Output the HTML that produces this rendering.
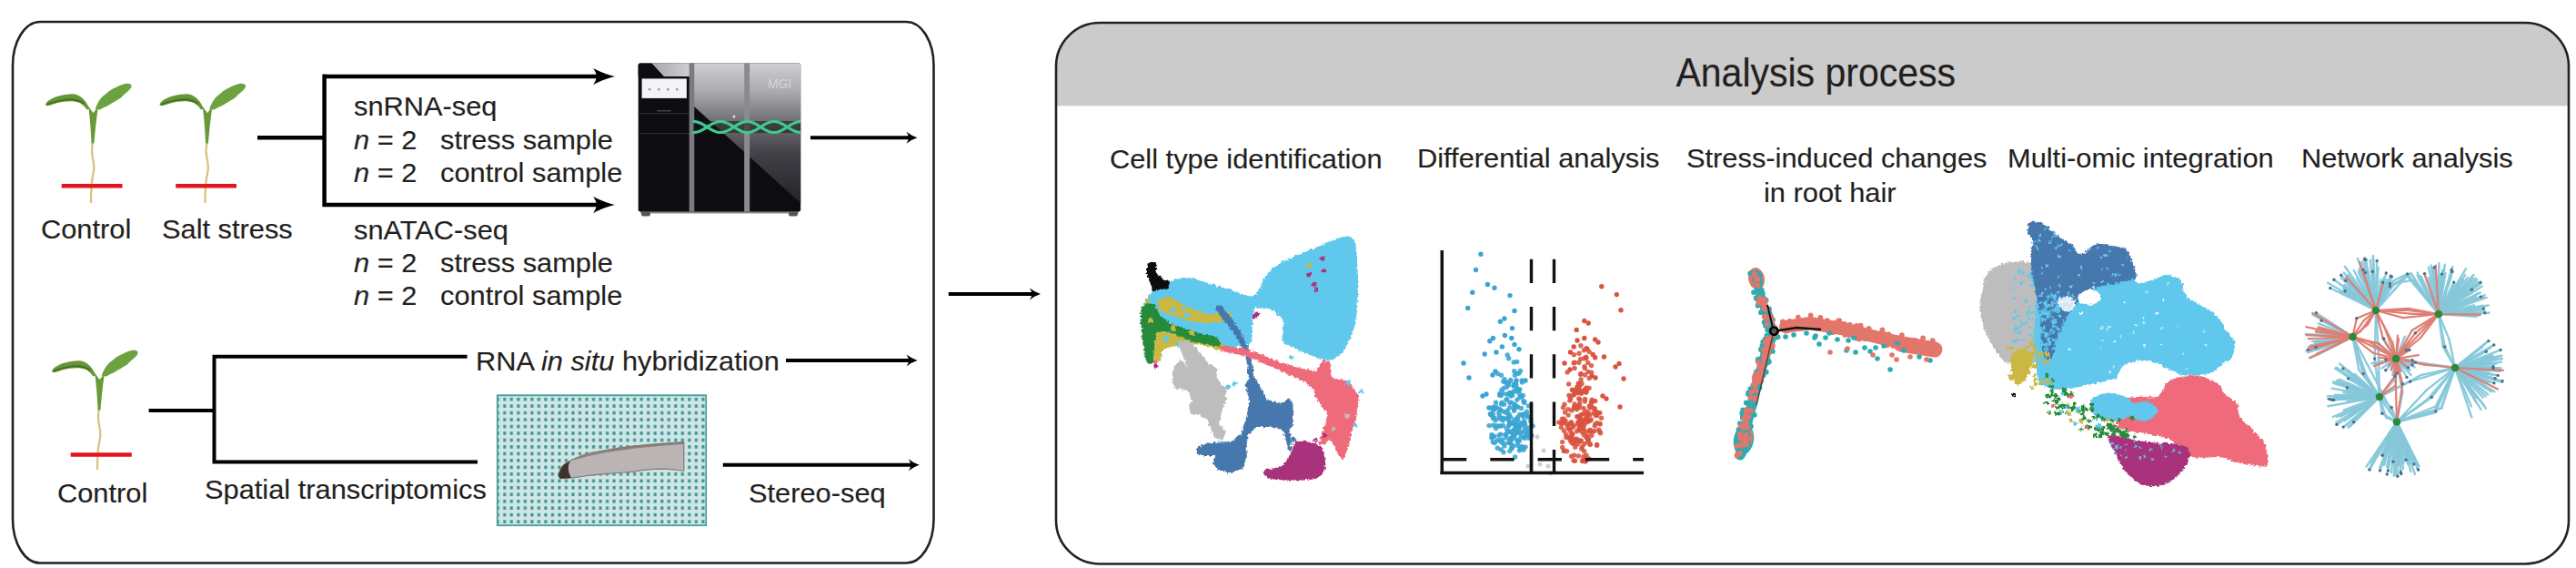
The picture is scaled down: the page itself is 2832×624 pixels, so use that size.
<!DOCTYPE html>
<html><head><meta charset="utf-8"><style>
html,body{margin:0;padding:0;background:#fff;width:2832px;height:624px;overflow:hidden}
svg{display:block}
text{font-family:"Liberation Sans",sans-serif;fill:#231f20;stroke:#231f20;stroke-width:0.15}
</style></head><body>
<svg width="2832" height="624" viewBox="0 0 2832 624">
<defs>
<clipPath id="rbox"><rect x="1161" y="25" width="1663" height="594.5" rx="48" ry="48"/></clipPath>
</defs>
<!-- LEFT BOX -->
<rect x="14" y="24" width="1012.5" height="594.5" rx="30" ry="48" fill="none" stroke="#222" stroke-width="2.6"/>
<!-- RIGHT BOX -->
<g clip-path="url(#rbox)"><rect x="1150" y="20" width="1700" height="96.3" fill="#cbcbcb"/></g>
<rect x="1161" y="25" width="1663" height="594.5" rx="48" ry="48" fill="none" stroke="#222" stroke-width="2.6"/>

<!-- LINES / ARROWS left top -->
<g stroke="#000" fill="none" stroke-width="4.5">
<path d="M283 151.3H356.6M356.6 81.6V227.1M354.4 84H660M354.4 224.9H660"/>
</g>
<g fill="#000">
<path d="M676 84 Q665 81.5 652 75 Q656 80 655.5 84 Q656 88 652 93 Q665 86.5 676 84Z"/>
<path d="M676 224.9 Q665 222.4 652 215.9 Q656 220.9 655.5 224.9 Q656 228.9 652 233.9 Q665 227.4 676 224.9Z"/>
</g>
<g stroke="#000" fill="none" stroke-width="4">
<path d="M891 151.2H1000"/>
<path d="M1042.8 323H1136"/>
<path d="M864 396H1000"/>
<path d="M794.8 510.7H1002"/>
<path d="M163.6 451H235.5M235.5 389.8V509.6M233.5 391.8H513.6M233.5 507.6H525"/>
</g>
<g fill="#000">
<path d="M1008.5 151.2 Q1002.5 149.39999999999998 996.5 144.7 Q999.0 148.7 999.0 151.2 Q999.0 153.7 996.5 157.7 Q1002.5 153.0 1008.5 151.2Z"/>
<path d="M1144 323 Q1138 321.2 1132 316.5 Q1134.5 320.5 1134.5 323 Q1134.5 325.5 1132 329.5 Q1138 324.8 1144 323Z"/>
<path d="M1008.6 396 Q1002.6 394.2 996.6 389.5 Q999.1 393.5 999.1 396 Q999.1 398.5 996.6 402.5 Q1002.6 397.8 1008.6 396Z"/>
<path d="M1010.8 510.7 Q1004.8 508.9 998.8 504.2 Q1001.3 508.2 1001.3 510.7 Q1001.3 513.2 998.8 517.2 Q1004.8 512.5 1010.8 510.7Z"/>
</g>


<!-- PLANTS -->
<defs>
<g id="plant">
<path d="M102 156.5 C100.5 163 100.8 168 101.8 173 C103 178 104 183 102.8 189 C101.5 195 100.6 201 100.4 207 C100.2 213 100 218 100 223" fill="none" stroke="#dcc182" stroke-width="2.3"/>
<path d="M97.2 117 C99 130 100 145 100.5 157.5 L103.4 157.5 C104.5 145 106 130 108 117 L102.5 124 Z" fill="#689a3a"/>
<path d="M50 114.4 C52 111 54 110 55.9 109 C59 107 62.5 105.8 66.4 105 C71 104 75.5 103.3 79.7 103.3 C83.5 103.5 86.5 104.8 88.9 106.4 C91 108 93 110 94.2 111.7 C95.8 114 97.2 116.5 98.6 119.5 L95.5 120.5 C93 117 90.5 114.8 87.6 113 C84.5 111.8 81 111.2 77 111.2 C72 111.3 67.5 112 63.8 113 C59.5 114 56 115.5 53.2 116 C51.5 116.3 50 115.8 50 114.4 Z" fill="#64963a"/>
<path d="M51.5 115 C57 112.5 65 110 74 109.3 C82 109 88 110.5 92.5 114" fill="none" stroke="#44721f" stroke-width="1.8"/>
<path d="M104.8 119.7 C106 116 109 109 114 105.1 C118 101.5 121 99 124.6 97.2 C129 95 134 92.5 137.8 91.9 C142 91.3 145.5 92.5 144.4 95.5 C143.5 98 141 100 138 102.5 C136 104 134 106.5 132.5 107.8 C128 110.5 123 113.5 119.3 115.7 C116 117.3 112.5 118.5 110 120.5 Z" fill="#6ca23f"/>
</g>
</defs>
<use href="#plant"/>
<use href="#plant" transform="translate(125.5,0)"/>
<use href="#plant" transform="translate(7,293)"/>
<g stroke="#e5141e" stroke-width="4.5">
<path d="M67.7 204.2H134.5M193.2 204.2H260M77.7 499.5H144.8"/>
</g>


<!-- SEQUENCER -->
<defs>
<linearGradient id="silver" x1="0" y1="0" x2="0" y2="1">
<stop offset="0" stop-color="#cfcfd3"/><stop offset="0.2" stop-color="#ababb0"/><stop offset="0.4" stop-color="#737378"/><stop offset="0.65" stop-color="#404046"/><stop offset="1" stop-color="#222228"/>
</linearGradient>
<linearGradient id="topstrip" x1="0" y1="0" x2="1" y2="0">
<stop offset="0" stop-color="#9a9a9e"/><stop offset="1" stop-color="#d0d0d4"/>
</linearGradient>
<clipPath id="mclip"><rect x="701.7" y="69.5" width="178.5" height="163" rx="2"/></clipPath>
</defs>
<rect x="704" y="230" width="174" height="4.5" fill="#8a8a90"/>
<rect x="705" y="233" width="10" height="4.5" rx="2" fill="#555"/>
<rect x="867" y="233" width="10" height="4.5" rx="2" fill="#555"/>
<g clip-path="url(#mclip)">
<rect x="700" y="68" width="182" height="166" fill="#0d0c11"/>
<path d="M762 69 H881 V224 L762 116 Z" fill="url(#silver)"/>
<rect x="701" y="69" width="58" height="15" fill="url(#topstrip)"/>
<path d="M701 69 H716 L730 84 H701 Z" fill="#0d0c11"/>
<rect x="705.6" y="86.4" width="49.3" height="21.5" fill="#f4f4f6"/>
<g fill="#9a9aa0"><rect x="713" y="97" width="2.5" height="2.5"/><rect x="723" y="97" width="2.5" height="2.5"/><rect x="733" y="97" width="2.5" height="2.5"/><rect x="743" y="97" width="2.5" height="2.5"/></g>
<rect x="701" y="124" width="57" height="1.2" fill="#2a2a30"/>
<rect x="701" y="146" width="57" height="1.2" fill="#2a2a30"/>
<rect x="722" y="121" width="16" height="1.5" fill="#444"/>
<rect x="757.7" y="69" width="5.6" height="165" fill="#7a7a80"/>
<rect x="818.2" y="69" width="6" height="165" fill="#8a8a90"/>
<text x="844" y="97" font-size="14" style="fill:#e8e8ea;stroke:none;opacity:0.7">MGI</text>
<rect x="762" y="133" width="120" height="13" fill="#18181d" opacity="0.55"/>
<g fill="none" stroke="#3ccb8c" stroke-width="3.2" stroke-linecap="round"><path d="M762.7 133.5 L764.2 133.6 L765.7 133.8 L767.2 134.2 L768.7 134.7 L770.2 135.3 L771.7 136.1 L773.2 136.9 L774.7 137.8 L776.2 138.7 L777.7 139.7 L779.2 140.6 L780.7 141.6 L782.2 142.4 L783.7 143.2 L785.2 143.9 L786.7 144.5 L788.2 145.0 L789.7 145.3 L791.2 145.5 L792.7 145.5 L794.2 145.3 L795.7 145.1 L797.2 144.6 L798.7 144.1 L800.2 143.4 L801.7 142.6 L803.2 141.8 L804.7 140.8 L806.2 139.9 L807.7 138.9 L809.2 138.0 L810.7 137.1 L812.2 136.2 L813.7 135.5 L815.2 134.8 L816.7 134.3 L818.2 133.9 L819.7 133.6 L821.2 133.5 L822.7 133.5 L824.2 133.7 L825.7 134.1 L827.2 134.6 L828.7 135.2 L830.2 135.9 L831.7 136.7 L833.2 137.6 L834.7 138.5 L836.2 139.5 L837.7 140.5 L839.2 141.4 L840.7 142.3 L842.2 143.1 L843.7 143.8 L845.2 144.4 L846.7 144.9 L848.2 145.3 L849.7 145.5 L851.2 145.5 L852.7 145.4 L854.2 145.1 L855.7 144.7 L857.2 144.2 L858.7 143.5 L860.2 142.8 L861.7 141.9 L863.2 141.0 L864.7 140.1 L866.2 139.1 L867.7 138.2 L869.2 137.2 L870.7 136.4 L872.2 135.6 L873.7 134.9 L875.2 134.4 L876.7 133.9 L878.2 133.7 L879.7 133.5"/><path d="M762.7 145.5 L764.2 145.4 L765.7 145.2 L767.2 144.8 L768.7 144.3 L770.2 143.7 L771.7 142.9 L773.2 142.1 L774.7 141.2 L776.2 140.3 L777.7 139.3 L779.2 138.4 L780.7 137.4 L782.2 136.6 L783.7 135.8 L785.2 135.1 L786.7 134.5 L788.2 134.0 L789.7 133.7 L791.2 133.5 L792.7 133.5 L794.2 133.7 L795.7 133.9 L797.2 134.4 L798.7 134.9 L800.2 135.6 L801.7 136.4 L803.2 137.2 L804.7 138.2 L806.2 139.1 L807.7 140.1 L809.2 141.0 L810.7 141.9 L812.2 142.8 L813.7 143.5 L815.2 144.2 L816.7 144.7 L818.2 145.1 L819.7 145.4 L821.2 145.5 L822.7 145.5 L824.2 145.3 L825.7 144.9 L827.2 144.4 L828.7 143.8 L830.2 143.1 L831.7 142.3 L833.2 141.4 L834.7 140.5 L836.2 139.5 L837.7 138.5 L839.2 137.6 L840.7 136.7 L842.2 135.9 L843.7 135.2 L845.2 134.6 L846.7 134.1 L848.2 133.7 L849.7 133.5 L851.2 133.5 L852.7 133.6 L854.2 133.9 L855.7 134.3 L857.2 134.8 L858.7 135.5 L860.2 136.2 L861.7 137.1 L863.2 138.0 L864.7 138.9 L866.2 139.9 L867.7 140.8 L869.2 141.8 L870.7 142.6 L872.2 143.4 L873.7 144.1 L875.2 144.6 L876.7 145.1 L878.2 145.3 L879.7 145.5"/></g>
<circle cx="807" cy="128" r="1.5" fill="#ddd"/>
</g>

<!-- STEREO GRID -->
<defs>
<pattern id="dots" x="543.52" y="427.49" width="7.52" height="7.47" patternUnits="userSpaceOnUse">
<rect x="2.2" y="1.9" width="3.1" height="3.6" fill="#3a9595"/>
</pattern>
<clipPath id="gclip"><rect x="546" y="433.5" width="231" height="144.5"/></clipPath>
</defs>
<rect x="546" y="433.5" width="231" height="144.5" fill="#cfe6e5"/>
<rect x="546" y="433.5" width="231" height="144.5" fill="url(#dots)"/>
<rect x="546.8" y="434.3" width="229.4" height="142.9" fill="none" stroke="#4a9e9e" stroke-width="1.8"/>
<path d="M614 521.5 C616 515 619 511 621 509.8 C625 507 629 505 632.5 503.5 C638 501 643 499.5 647.2 498.2 C655 496.5 662 495 668.4 494 C676 492.5 683 491.5 689.5 490.8 C697 490 704 489.3 710.6 488.7 C718 488 725 487.5 731.7 487.1 C739 486.5 746 486 751.8 485.6 L751.8 517.2 C748 517 745 516.5 742.3 516.2 C737 515.6 731 515.2 726.4 515.1 C720 515.3 715 515.8 710.6 516.2 C705 516.8 700 517.6 694.8 518.3 C686 519 677 519.8 668.4 520.4 C661 521 654 521.8 647.2 522.5 C641 523.3 636 524 631.4 524.6 C626 525.2 621 525.6 616.6 525.7 C615 525 614 523 614 521.5 Z" fill="#bab5b4" stroke="#857a74" stroke-width="1.2"/>
<path d="M614 521.5 C616 515 619 511 621 509.8 C623 508.5 625 507.3 627 506.5 C624 511 624 518 628 525 C622 525.6 618 525.7 616.6 525.7 C615 525 614 523 614 521.5 Z" fill="#40322b"/>
<path d="M632 503.6 C645 499 660 495.5 680 492.3 C700 489.5 730 487 751.8 485.6 L751.8 488 C730 489.5 700 492 680 495 C660 498 645 501 630 505.5 Z" fill="#7f746e" opacity="0.8"/>

<defs><filter id="rough" x="-5%" y="-5%" width="110%" height="110%"><feTurbulence type="fractalNoise" baseFrequency="0.35" numOctaves="2" seed="3"/><feDisplacementMap in="SourceGraphic" scale="5" xChannelSelector="R" yChannelSelector="G"/></filter><clipPath id="cgrey2"><path d="M2185.0 300.0 C2189.8 295.0 2199.8 289.5 2208.6 288.0 C2217.4 286.5 2230.0 287.0 2237.7 291.0 C2245.4 295.0 2251.8 304.7 2255.0 312.0 C2258.2 319.3 2257.8 324.5 2257.0 335.0 C2256.2 345.5 2253.2 364.5 2250.0 375.0 C2246.8 385.5 2243.8 393.8 2238.0 398.0 C2232.2 402.2 2220.8 400.3 2215.0 400.0 C2209.2 399.7 2207.8 400.7 2203.0 396.0 C2198.2 391.3 2190.4 381.3 2186.0 372.0 C2181.6 362.7 2177.7 349.0 2176.7 340.0 C2175.7 331.0 2178.6 324.7 2180.0 318.0 C2181.4 311.3 2180.2 305.0 2185.0 300.0Z" fill="#000" /></clipPath><clipPath id="clb2"><path d="M2232.0 298.0 C2236.0 294.7 2250.7 299.7 2262.0 300.0 C2273.3 300.3 2287.3 301.7 2300.0 300.0 C2312.7 298.3 2329.7 288.3 2338.0 290.0 C2346.3 291.7 2344.9 307.5 2349.7 310.4 C2354.5 313.3 2361.4 308.9 2366.6 307.5 C2371.8 306.1 2375.5 302.0 2380.7 302.0 C2385.8 302.0 2393.8 303.8 2397.5 307.5 C2401.2 311.2 2399.2 319.7 2403.0 324.4 C2406.8 329.1 2414.3 331.9 2420.0 335.7 C2425.7 339.5 2432.3 342.3 2437.0 347.0 C2441.7 351.7 2444.7 359.1 2448.0 363.8 C2451.3 368.5 2455.7 370.3 2456.7 375.0 C2457.7 379.7 2456.2 387.8 2453.8 392.0 C2451.5 396.2 2446.6 397.0 2442.6 400.0 C2438.6 403.0 2437.1 408.0 2430.0 410.0 C2422.9 412.0 2408.3 413.0 2400.0 412.0 C2391.7 411.0 2388.3 404.3 2380.0 404.0 C2371.7 403.7 2359.2 408.0 2350.0 410.0 C2340.8 412.0 2333.1 414.1 2325.0 416.0 C2316.9 417.9 2311.3 419.8 2301.6 421.7 C2291.9 423.6 2276.7 427.6 2267.0 427.6 C2257.3 427.6 2248.3 426.6 2243.5 421.7 C2238.7 416.8 2239.2 405.3 2238.0 398.4 C2236.8 391.4 2236.2 388.1 2236.0 380.0 C2235.8 371.9 2236.7 360.0 2237.0 350.0 C2237.3 340.0 2238.8 328.7 2238.0 320.0 C2237.2 311.3 2228.0 301.3 2232.0 298.0Z" fill="#000" /></clipPath><clipPath id="cdb2"><path d="M2229.0 254.0 C2228.6 250.5 2229.2 245.6 2232.0 244.2 C2234.8 242.8 2240.8 243.0 2246.0 245.6 C2251.2 248.2 2257.7 256.0 2262.9 259.7 C2268.1 263.4 2272.8 264.7 2277.0 268.0 C2281.2 271.3 2283.3 279.4 2288.0 279.4 C2292.7 279.4 2298.4 269.4 2305.0 268.0 C2311.6 266.6 2322.0 270.0 2327.6 271.0 C2333.2 272.0 2335.7 271.0 2338.4 273.8 C2341.1 276.6 2342.4 282.6 2344.0 287.8 C2345.6 293.0 2350.3 301.3 2348.0 305.0 C2345.7 308.7 2337.7 308.0 2330.0 310.0 C2322.3 312.0 2308.3 314.3 2301.6 317.0 C2294.9 319.7 2293.9 322.2 2290.0 326.0 C2286.1 329.8 2281.7 334.7 2278.0 340.0 C2274.3 345.3 2270.8 352.2 2268.0 358.0 C2265.2 363.8 2263.2 368.8 2261.0 375.0 C2258.8 381.2 2257.5 392.5 2255.0 395.0 C2252.5 397.5 2247.8 395.8 2246.0 390.0 C2244.2 384.2 2245.0 370.0 2244.0 360.0 C2243.0 350.0 2241.7 340.0 2240.0 330.0 C2238.3 320.0 2235.3 308.3 2234.0 300.0 C2232.7 291.7 2231.9 285.8 2232.0 280.0 C2232.1 274.2 2235.2 269.6 2234.7 265.3 C2234.2 261.0 2229.4 257.5 2229.0 254.0Z" fill="#000" /></clipPath><clipPath id="cmag2"><path d="M2318.0 478.0 C2320.5 475.3 2332.2 480.7 2340.0 482.0 C2347.8 483.3 2355.8 485.0 2365.0 486.0 C2374.2 487.0 2388.0 486.5 2395.0 488.0 C2402.0 489.5 2405.5 491.3 2407.0 495.0 C2408.5 498.7 2406.5 505.2 2404.0 510.0 C2401.5 514.8 2397.3 520.0 2392.0 524.0 C2386.7 528.0 2379.0 533.0 2372.0 534.0 C2365.0 535.0 2356.2 533.2 2350.0 530.0 C2343.8 526.8 2339.2 520.3 2335.0 515.0 C2330.8 509.7 2327.8 504.2 2325.0 498.0 C2322.2 491.8 2315.5 480.7 2318.0 478.0Z" fill="#000" /></clipPath></defs>
<g filter="url(#rough)"><path d="M1276.0 325.0 C1275.7 320.6 1279.2 316.4 1282.0 313.4 C1284.8 310.4 1288.3 308.1 1292.8 306.8 C1297.2 305.5 1303.0 304.9 1308.7 305.5 C1314.4 306.1 1320.8 308.9 1327.0 310.7 C1333.2 312.4 1339.4 314.0 1345.6 316.0 C1351.8 318.0 1358.8 321.1 1364.0 322.6 C1369.2 324.2 1373.5 326.2 1377.0 325.3 C1380.5 324.4 1383.1 319.9 1385.0 317.0 C1386.9 314.1 1386.2 311.7 1388.5 308.0 C1390.8 304.3 1395.9 298.0 1399.0 294.9 C1402.1 291.8 1403.0 291.8 1407.0 289.6 C1411.0 287.4 1417.5 284.1 1422.8 281.7 C1428.1 279.3 1433.4 277.2 1438.7 275.0 C1444.0 272.8 1449.2 270.7 1454.5 268.5 C1459.8 266.3 1465.5 263.3 1470.3 261.9 C1475.1 260.5 1480.4 259.6 1483.5 260.0 C1486.6 260.4 1487.5 261.8 1488.8 264.5 C1490.1 267.2 1490.8 270.0 1491.5 276.4 C1492.2 282.8 1492.6 294.0 1492.8 302.8 C1493.0 311.6 1493.3 320.4 1492.8 329.2 C1492.3 338.0 1491.5 348.1 1490.0 355.6 C1488.5 363.1 1485.9 368.7 1483.5 374.0 C1481.1 379.3 1478.7 383.8 1475.6 387.3 C1472.5 390.8 1469.0 394.1 1465.0 395.2 C1461.0 396.3 1457.2 395.2 1451.9 393.9 C1446.6 392.6 1439.1 389.7 1433.4 387.3 C1427.7 384.9 1421.5 381.6 1417.5 379.4 C1413.5 377.2 1410.7 378.1 1409.6 374.1 C1408.5 370.1 1411.4 360.0 1411.0 355.6 C1410.6 351.2 1409.4 350.3 1407.0 347.7 C1404.6 345.1 1399.9 341.3 1396.4 339.8 C1392.9 338.3 1388.9 338.1 1385.8 338.5 C1382.7 338.9 1379.6 336.4 1378.0 342.0 C1376.4 347.6 1377.7 365.5 1376.0 372.0 C1374.3 378.5 1372.3 380.7 1368.0 381.0 C1363.7 381.3 1355.5 376.5 1350.0 374.0 C1344.5 371.5 1340.3 368.7 1335.0 366.0 C1329.7 363.3 1323.8 360.7 1318.0 358.0 C1312.2 355.3 1305.7 353.0 1300.0 350.0 C1294.3 347.0 1288.0 344.2 1284.0 340.0 C1280.0 335.8 1276.3 329.4 1276.0 325.0Z" fill="#5fc8ec" /><path d="M1262.4 289.6 C1264.0 288.5 1268.9 286.6 1270.4 288.3 C1272.0 290.0 1270.2 296.9 1271.7 300.0 C1273.2 303.1 1277.2 305.0 1279.6 306.8 C1282.0 308.6 1286.0 307.8 1286.0 310.7 C1286.0 313.6 1282.0 320.0 1279.6 324.0 C1277.2 328.0 1273.7 333.2 1271.7 334.5 C1269.7 335.8 1268.6 335.0 1267.7 331.9 C1266.8 328.8 1267.5 320.9 1266.4 316.0 C1265.3 311.1 1261.9 306.3 1261.0 302.8 C1260.1 299.3 1260.8 297.2 1261.0 295.0 C1261.2 292.8 1260.8 290.7 1262.4 289.6Z" fill="#0a0a0a" /><path d="M1262.0 325.0 C1269.3 316.3 1287.0 318.0 1300.0 318.0 C1313.0 318.0 1329.2 322.2 1340.0 325.0 C1350.8 327.8 1359.7 330.8 1365.0 335.0 C1370.3 339.2 1372.5 342.8 1372.0 350.0 C1371.5 357.2 1366.8 372.7 1362.0 378.0 C1357.2 383.3 1350.7 382.3 1343.0 382.0 C1335.3 381.7 1324.0 376.8 1316.0 376.0 C1308.0 375.2 1301.3 375.8 1295.0 377.0 C1288.7 378.2 1281.8 380.2 1278.0 383.0 C1274.2 385.8 1275.7 396.2 1272.0 394.0 C1268.3 391.8 1257.7 381.5 1256.0 370.0 C1254.3 358.5 1254.7 333.7 1262.0 325.0Z" fill="#5fc8ec" /><path d="M1274.3 329.2 C1276.3 327.0 1281.8 325.7 1286.2 326.6 C1290.6 327.5 1295.2 331.9 1300.7 334.5 C1306.2 337.1 1313.9 340.6 1319.2 342.4 C1324.5 344.1 1327.1 345.0 1332.4 345.0 C1337.7 345.0 1347.5 341.5 1351.0 342.4 C1354.5 343.3 1355.7 348.3 1353.5 350.3 C1351.3 352.3 1343.4 353.6 1337.7 354.3 C1332.0 355.0 1325.4 355.0 1319.2 354.3 C1313.0 353.6 1306.4 351.9 1300.7 350.3 C1295.0 348.8 1289.3 346.8 1284.9 345.0 C1280.5 343.2 1276.1 342.4 1274.3 339.8 C1272.5 337.2 1272.3 331.4 1274.3 329.2Z" fill="#cbb843" /><path d="M1269.0 363.5 C1271.9 360.9 1278.7 365.2 1284.9 366.2 C1291.1 367.2 1299.0 368.4 1306.0 369.5 C1313.0 370.6 1320.8 371.6 1327.0 372.7 C1333.2 373.8 1340.0 373.9 1343.0 376.0 C1346.0 378.1 1346.6 384.3 1345.0 385.4 C1343.4 386.5 1338.2 383.7 1333.4 382.5 C1328.7 381.3 1322.8 378.8 1316.5 378.3 C1310.2 377.8 1301.7 378.5 1295.4 379.7 C1289.1 380.9 1281.8 382.6 1278.5 385.4 C1275.2 388.2 1277.3 395.5 1275.6 396.6 C1273.8 397.7 1269.3 394.4 1268.0 392.0 C1266.7 389.6 1267.5 386.8 1267.7 382.0 C1267.9 377.2 1266.1 366.1 1269.0 363.5Z" fill="#cbb843" /><path d="M1254.5 339.8 C1255.4 335.4 1257.4 335.4 1259.8 334.5 C1262.2 333.6 1266.6 332.8 1269.0 334.5 C1271.4 336.2 1271.6 341.8 1274.3 345.0 C1277.0 348.2 1280.5 351.5 1284.9 354.0 C1289.3 356.5 1295.0 358.0 1300.7 360.0 C1306.4 362.0 1313.0 364.2 1319.2 366.0 C1325.4 367.8 1334.0 368.8 1337.7 371.0 C1341.5 373.2 1342.2 377.5 1341.7 379.0 C1341.2 380.5 1339.2 380.5 1335.0 380.0 C1330.8 379.5 1322.8 377.7 1316.6 376.0 C1310.4 374.3 1303.7 371.9 1298.0 370.0 C1292.3 368.1 1286.6 365.1 1282.2 364.5 C1277.8 363.9 1273.9 363.3 1271.7 366.2 C1269.5 369.1 1269.7 376.7 1269.0 382.0 C1268.3 387.3 1269.0 395.2 1267.7 397.9 C1266.4 400.5 1262.8 400.5 1261.0 397.9 C1259.2 395.2 1258.3 388.1 1257.2 382.0 C1256.1 375.9 1255.0 368.0 1254.5 361.0 C1254.0 354.0 1253.6 344.2 1254.5 339.8Z" fill="#258a3a" /><circle cx="1262" cy="330" r="3" fill="#cbb843"/><circle cx="1278" cy="334" r="3" fill="#cbb843"/><circle cx="1290" cy="340" r="3" fill="#5fc8ec"/><circle cx="1305" cy="346" r="3" fill="#5fc8ec"/><circle cx="1282" cy="372" r="3" fill="#5fc8ec"/><circle cx="1296" cy="378" r="3" fill="#5fc8ec"/><circle cx="1265" cy="352" r="3" fill="#cbb843"/><circle cx="1310" cy="366" r="3" fill="#cbb843"/><circle cx="1325" cy="370" r="3" fill="#258a3a"/><circle cx="1290" cy="360" r="3" fill="#cbb843"/><circle cx="1276" cy="384" r="3" fill="#cbb843"/><circle cx="1300" cy="377" r="3" fill="#cbb843"/><path d="M1296.8 374.0 L1309.4 375.5 L1329.0 399.4 L1339.0 405.0 L1337.6 413.5 L1341.8 422.0 L1347.5 426.0 L1348.3 440.2 L1344.3 448.0 L1340.3 464.0 L1348.3 477.0 L1343.0 483.7 L1335.0 480.0 L1327.0 461.3 L1319.0 456.0 L1308.7 454.7 L1307.0 445.5 L1311.0 440.0 L1306.0 429.6 L1291.0 426.0 L1288.3 416.3 L1291.0 402.0 L1298.0 395.0 L1303.0 400.0 L1306.6 406.0 L1301.0 392.0 L1296.0 380.0Z" fill="#bdbdbd" /><path d="M1337.0 336.0 L1343.0 336.0 L1361.5 360.0 L1371.4 381.0 L1377.0 402.0 L1380.0 416.0 L1387.0 427.6 L1394.0 440.0 L1410.0 443.0 L1417.5 437.5 L1421.5 443.0 L1421.5 466.6 L1417.5 472.0 L1420.0 487.7 L1416.0 490.0 L1409.6 472.0 L1396.0 469.0 L1381.0 469.0 L1372.0 478.0 L1370.0 493.0 L1371.0 501.0 L1367.0 514.0 L1353.5 519.4 L1340.3 516.7 L1333.7 508.8 L1335.0 501.0 L1324.5 501.0 L1314.0 498.3 L1316.6 491.7 L1327.0 486.4 L1340.0 485.5 L1353.5 485.0 L1364.0 477.0 L1370.0 460.0 L1374.0 440.0 L1368.6 423.0 L1372.8 416.0 L1371.4 402.0 L1368.6 388.0 L1361.5 374.0 L1351.7 360.0 L1336.0 340.0Z" fill="#4678ad" /><path d="M1340.0 381.0 L1343.0 379.7 L1368.6 382.5 L1400.0 395.0 L1422.8 403.0 L1446.6 408.0 L1454.5 395.3 L1462.4 398.0 L1463.7 415.0 L1483.5 419.0 L1494.0 434.9 L1491.5 456.0 L1486.2 474.5 L1481.0 495.6 L1475.6 506.0 L1470.3 498.3 L1462.4 482.4 L1449.2 490.3 L1454.5 471.9 L1459.8 456.0 L1446.6 437.5 L1444.0 427.0 L1433.4 419.0 L1414.9 411.0 L1400.0 403.7 L1368.6 391.0 L1343.0 386.0Z" fill="#ef6b7a" /><path d="M1425.5 485.0 C1429.9 483.7 1441.8 485.9 1446.6 487.7 C1451.4 489.5 1452.8 491.2 1454.5 495.6 C1456.2 500.0 1457.9 509.1 1457.0 514.0 C1456.1 518.9 1452.9 522.5 1449.0 524.7 C1445.1 526.9 1440.0 526.9 1433.4 527.3 C1426.8 527.7 1416.2 527.7 1409.6 527.3 C1403.0 526.9 1397.1 526.5 1393.8 524.7 C1390.5 522.9 1387.2 518.9 1389.8 516.7 C1392.4 514.5 1404.5 515.0 1409.6 511.5 C1414.7 508.0 1417.5 500.0 1420.2 495.6 C1422.9 491.2 1421.1 486.3 1425.5 485.0Z" fill="#a8327b" /><circle cx="1454" cy="284" r="2.6" fill="#a8327b"/><circle cx="1455" cy="297" r="2.6" fill="#a8327b"/><circle cx="1439" cy="302" r="2.6" fill="#a8327b"/><circle cx="1445" cy="312" r="2.6" fill="#a8327b"/><circle cx="1447" cy="318" r="2.6" fill="#a8327b"/><circle cx="1382" cy="345" r="2.6" fill="#a8327b"/><circle cx="1379" cy="347" r="2.6" fill="#a8327b"/><circle cx="1439" cy="291" r="2.6" fill="#cbb843"/><circle cx="1490" cy="467" r="2.6" fill="#5fc8ec"/><circle cx="1496" cy="430" r="2.6" fill="#5fc8ec"/><circle cx="1482" cy="421" r="2.6" fill="#5fc8ec"/><circle cx="1420" cy="393" r="2.6" fill="#5fc8ec"/><circle cx="1302" cy="338" r="2.6" fill="#5fc8ec"/><circle cx="1466" cy="471" r="2.6" fill="#bdbdbd"/><circle cx="1481" cy="457" r="2.6" fill="#bdbdbd"/><circle cx="1446" cy="483" r="2.6" fill="#a8327b"/><circle cx="1456" cy="478" r="2.6" fill="#a8327b"/><circle cx="1456" cy="486" r="2.6" fill="#ef6b7a"/><circle cx="1422" cy="483" r="2.6" fill="#4678ad"/><circle cx="1418" cy="492" r="2.6" fill="#4678ad"/><circle cx="1271" cy="402" r="2.6" fill="#a8327b"/><circle cx="1270" cy="397" r="2.6" fill="#ef6b7a"/><circle cx="1357" cy="421" r="2.6" fill="#5fc8ec"/><circle cx="1350" cy="425" r="2.6" fill="#5fc8ec"/></g>
<g><circle cx="1628" cy="279.2" r="2.7" fill="#3aa5d3"/><circle cx="1622.5" cy="296.5" r="2.7" fill="#3aa5d3"/><circle cx="1635.4" cy="312.5" r="2.7" fill="#3aa5d3"/><circle cx="1643" cy="316.2" r="2.7" fill="#3aa5d3"/><circle cx="1618.8" cy="321.2" r="2.7" fill="#3aa5d3"/><circle cx="1660" cy="324.6" r="2.7" fill="#3aa5d3"/><circle cx="1613.7" cy="338.4" r="2.7" fill="#3aa5d3"/><circle cx="1665" cy="341.4" r="2.7" fill="#3aa5d3"/><circle cx="1653.9" cy="350" r="2.7" fill="#3aa5d3"/><circle cx="1649.4" cy="353.2" r="2.7" fill="#3aa5d3"/><circle cx="1662.5" cy="360.6" r="2.7" fill="#3aa5d3"/><circle cx="1654.4" cy="368.5" r="2.7" fill="#3aa5d3"/><circle cx="1641.5" cy="371.5" r="2.7" fill="#3aa5d3"/><circle cx="1637.8" cy="374.7" r="2.7" fill="#3aa5d3"/><circle cx="1661.8" cy="371.5" r="2.7" fill="#3aa5d3"/><circle cx="1665" cy="378.4" r="2.7" fill="#3aa5d3"/><circle cx="1651.4" cy="380.9" r="2.7" fill="#3aa5d3"/><circle cx="1670" cy="383.8" r="2.7" fill="#3aa5d3"/><circle cx="1632.2" cy="389" r="2.7" fill="#3aa5d3"/><circle cx="1645" cy="387" r="2.7" fill="#3aa5d3"/><circle cx="1615" cy="415" r="2.7" fill="#3aa5d3"/><circle cx="1609" cy="399" r="2.7" fill="#3aa5d3"/><circle cx="1641" cy="412" r="2.7" fill="#3aa5d3"/><circle cx="1644" cy="408" r="2.7" fill="#3aa5d3"/><circle cx="1630" cy="435" r="2.7" fill="#3aa5d3"/><circle cx="1634" cy="433" r="2.7" fill="#3aa5d3"/><circle cx="1637" cy="448" r="2.7" fill="#3aa5d3"/><circle cx="1655" cy="420" r="2.7" fill="#3aa5d3"/><circle cx="1667" cy="418" r="2.7" fill="#3aa5d3"/><circle cx="1677" cy="418" r="2.7" fill="#3aa5d3"/><circle cx="1760.8" cy="314.8" r="2.7" fill="#d9533f"/><circle cx="1777.3" cy="323.6" r="2.7" fill="#d9533f"/><circle cx="1782" cy="340.7" r="2.7" fill="#d9533f"/><circle cx="1741.8" cy="352.5" r="2.7" fill="#d9533f"/><circle cx="1746.2" cy="355" r="2.7" fill="#d9533f"/><circle cx="1733.2" cy="362.4" r="2.7" fill="#d9533f"/><circle cx="1741.8" cy="371.5" r="2.7" fill="#d9533f"/><circle cx="1734" cy="374" r="2.7" fill="#d9533f"/><circle cx="1753.6" cy="373" r="2.7" fill="#d9533f"/><circle cx="1757" cy="376" r="2.7" fill="#d9533f"/><circle cx="1730.2" cy="380.9" r="2.7" fill="#d9533f"/><circle cx="1744.8" cy="383.3" r="2.7" fill="#d9533f"/><circle cx="1726.5" cy="387" r="2.7" fill="#d9533f"/><circle cx="1751.2" cy="389.5" r="2.7" fill="#d9533f"/><circle cx="1753.6" cy="392.7" r="2.7" fill="#d9533f"/><circle cx="1763.5" cy="392" r="2.7" fill="#d9533f"/><circle cx="1743.8" cy="393.2" r="2.7" fill="#d9533f"/><circle cx="1780" cy="399.4" r="2.7" fill="#d9533f"/><circle cx="1776" cy="403" r="2.7" fill="#d9533f"/><circle cx="1785" cy="416" r="2.7" fill="#d9533f"/><circle cx="1720" cy="399" r="2.7" fill="#d9533f"/><circle cx="1726" cy="406" r="2.7" fill="#d9533f"/><circle cx="1750" cy="413" r="2.7" fill="#d9533f"/><circle cx="1754" cy="415" r="2.7" fill="#d9533f"/><circle cx="1762" cy="435" r="2.7" fill="#d9533f"/><circle cx="1766" cy="438" r="2.7" fill="#d9533f"/><circle cx="1781" cy="447" r="2.7" fill="#d9533f"/><circle cx="1733" cy="429" r="2.7" fill="#d9533f"/><circle cx="1657.4" cy="474.1" r="2.7" fill="#3aa5d3" fill-opacity="0.88"/><circle cx="1658.2" cy="454.9" r="2.7" fill="#3aa5d3" fill-opacity="0.88"/><circle cx="1648.3" cy="456.9" r="2.7" fill="#3aa5d3" fill-opacity="0.88"/><circle cx="1676.5" cy="472.0" r="2.7" fill="#3aa5d3" fill-opacity="0.88"/><circle cx="1675.7" cy="467.9" r="2.7" fill="#3aa5d3" fill-opacity="0.88"/><circle cx="1666.4" cy="466.2" r="2.7" fill="#3aa5d3" fill-opacity="0.88"/><circle cx="1641.2" cy="479.1" r="2.7" fill="#3aa5d3" fill-opacity="0.88"/><circle cx="1668.2" cy="474.0" r="2.7" fill="#3aa5d3" fill-opacity="0.88"/><circle cx="1648.8" cy="432.8" r="2.7" fill="#3aa5d3" fill-opacity="0.88"/><circle cx="1649.7" cy="450.8" r="2.7" fill="#3aa5d3" fill-opacity="0.88"/><circle cx="1664.9" cy="461.0" r="2.7" fill="#3aa5d3" fill-opacity="0.88"/><circle cx="1667.4" cy="446.5" r="2.7" fill="#3aa5d3" fill-opacity="0.88"/><circle cx="1665.3" cy="471.2" r="2.7" fill="#3aa5d3" fill-opacity="0.88"/><circle cx="1653.0" cy="496.7" r="2.7" fill="#3aa5d3" fill-opacity="0.88"/><circle cx="1668.6" cy="489.5" r="2.7" fill="#3aa5d3" fill-opacity="0.88"/><circle cx="1653.6" cy="444.2" r="2.7" fill="#3aa5d3" fill-opacity="0.88"/><circle cx="1656.6" cy="459.6" r="2.7" fill="#3aa5d3" fill-opacity="0.88"/><circle cx="1670.0" cy="468.0" r="2.7" fill="#3aa5d3" fill-opacity="0.88"/><circle cx="1656.0" cy="439.1" r="2.7" fill="#3aa5d3" fill-opacity="0.88"/><circle cx="1653.9" cy="490.0" r="2.7" fill="#3aa5d3" fill-opacity="0.88"/><circle cx="1649.4" cy="467.9" r="2.7" fill="#3aa5d3" fill-opacity="0.88"/><circle cx="1664.8" cy="429.4" r="2.7" fill="#3aa5d3" fill-opacity="0.88"/><circle cx="1661.7" cy="492.1" r="2.7" fill="#3aa5d3" fill-opacity="0.88"/><circle cx="1639.5" cy="455.9" r="2.7" fill="#3aa5d3" fill-opacity="0.88"/><circle cx="1659.8" cy="442.3" r="2.7" fill="#3aa5d3" fill-opacity="0.88"/><circle cx="1667.8" cy="460.6" r="2.7" fill="#3aa5d3" fill-opacity="0.88"/><circle cx="1642.6" cy="479.5" r="2.7" fill="#3aa5d3" fill-opacity="0.88"/><circle cx="1670.4" cy="484.3" r="2.7" fill="#3aa5d3" fill-opacity="0.88"/><circle cx="1680.0" cy="470.0" r="2.7" fill="#3aa5d3" fill-opacity="0.88"/><circle cx="1662.2" cy="432.1" r="2.7" fill="#3aa5d3" fill-opacity="0.88"/><circle cx="1668.6" cy="447.2" r="2.7" fill="#3aa5d3" fill-opacity="0.88"/><circle cx="1656.5" cy="433.1" r="2.7" fill="#3aa5d3" fill-opacity="0.88"/><circle cx="1649.0" cy="449.4" r="2.7" fill="#3aa5d3" fill-opacity="0.88"/><circle cx="1669.7" cy="427.7" r="2.7" fill="#3aa5d3" fill-opacity="0.88"/><circle cx="1641.7" cy="467.3" r="2.7" fill="#3aa5d3" fill-opacity="0.88"/><circle cx="1679.8" cy="474.6" r="2.7" fill="#3aa5d3" fill-opacity="0.88"/><circle cx="1650.8" cy="428.6" r="2.7" fill="#3aa5d3" fill-opacity="0.88"/><circle cx="1665.3" cy="444.2" r="2.7" fill="#3aa5d3" fill-opacity="0.88"/><circle cx="1646.2" cy="483.7" r="2.7" fill="#3aa5d3" fill-opacity="0.88"/><circle cx="1676.6" cy="465.7" r="2.7" fill="#3aa5d3" fill-opacity="0.88"/><circle cx="1664.4" cy="472.1" r="2.7" fill="#3aa5d3" fill-opacity="0.88"/><circle cx="1680.9" cy="475.0" r="2.7" fill="#3aa5d3" fill-opacity="0.88"/><circle cx="1668.4" cy="475.2" r="2.7" fill="#3aa5d3" fill-opacity="0.88"/><circle cx="1643.2" cy="486.5" r="2.7" fill="#3aa5d3" fill-opacity="0.88"/><circle cx="1674.5" cy="474.6" r="2.7" fill="#3aa5d3" fill-opacity="0.88"/><circle cx="1641.4" cy="450.1" r="2.7" fill="#3aa5d3" fill-opacity="0.88"/><circle cx="1667.4" cy="427.1" r="2.7" fill="#3aa5d3" fill-opacity="0.88"/><circle cx="1658.4" cy="486.4" r="2.7" fill="#3aa5d3" fill-opacity="0.88"/><circle cx="1646.3" cy="492.2" r="2.7" fill="#3aa5d3" fill-opacity="0.88"/><circle cx="1668.5" cy="458.5" r="2.7" fill="#3aa5d3" fill-opacity="0.88"/><circle cx="1665.7" cy="477.6" r="2.7" fill="#3aa5d3" fill-opacity="0.88"/><circle cx="1662.7" cy="489.1" r="2.7" fill="#3aa5d3" fill-opacity="0.88"/><circle cx="1652.4" cy="452.0" r="2.7" fill="#3aa5d3" fill-opacity="0.88"/><circle cx="1675.8" cy="462.6" r="2.7" fill="#3aa5d3" fill-opacity="0.88"/><circle cx="1648.9" cy="483.9" r="2.7" fill="#3aa5d3" fill-opacity="0.88"/><circle cx="1678.4" cy="452.2" r="2.7" fill="#3aa5d3" fill-opacity="0.88"/><circle cx="1642.9" cy="458.9" r="2.7" fill="#3aa5d3" fill-opacity="0.88"/><circle cx="1659.2" cy="455.5" r="2.7" fill="#3aa5d3" fill-opacity="0.88"/><circle cx="1674.9" cy="440.6" r="2.7" fill="#3aa5d3" fill-opacity="0.88"/><circle cx="1672.6" cy="436.0" r="2.7" fill="#3aa5d3" fill-opacity="0.88"/><circle cx="1649.8" cy="477.1" r="2.7" fill="#3aa5d3" fill-opacity="0.88"/><circle cx="1676.1" cy="481.4" r="2.7" fill="#3aa5d3" fill-opacity="0.88"/><circle cx="1665.6" cy="465.2" r="2.7" fill="#3aa5d3" fill-opacity="0.88"/><circle cx="1663.2" cy="475.6" r="2.7" fill="#3aa5d3" fill-opacity="0.88"/><circle cx="1658.7" cy="468.1" r="2.7" fill="#3aa5d3" fill-opacity="0.88"/><circle cx="1669.0" cy="462.0" r="2.7" fill="#3aa5d3" fill-opacity="0.88"/><circle cx="1671.9" cy="475.6" r="2.7" fill="#3aa5d3" fill-opacity="0.88"/><circle cx="1683.8" cy="468.2" r="2.7" fill="#3aa5d3" fill-opacity="0.88"/><circle cx="1655.5" cy="453.2" r="2.7" fill="#3aa5d3" fill-opacity="0.88"/><circle cx="1660.8" cy="484.3" r="2.7" fill="#3aa5d3" fill-opacity="0.88"/><circle cx="1656.3" cy="471.0" r="2.7" fill="#3aa5d3" fill-opacity="0.88"/><circle cx="1670.8" cy="428.0" r="2.7" fill="#3aa5d3" fill-opacity="0.88"/><circle cx="1645.2" cy="467.8" r="2.7" fill="#3aa5d3" fill-opacity="0.88"/><circle cx="1666.5" cy="467.5" r="2.7" fill="#3aa5d3" fill-opacity="0.88"/><circle cx="1654.8" cy="477.8" r="2.7" fill="#3aa5d3" fill-opacity="0.88"/><circle cx="1664.5" cy="449.6" r="2.7" fill="#3aa5d3" fill-opacity="0.88"/><circle cx="1685.0" cy="467.9" r="2.7" fill="#3aa5d3" fill-opacity="0.88"/><circle cx="1653.4" cy="459.7" r="2.7" fill="#3aa5d3" fill-opacity="0.88"/><circle cx="1658.3" cy="460.7" r="2.7" fill="#3aa5d3" fill-opacity="0.88"/><circle cx="1638.4" cy="454.7" r="2.7" fill="#3aa5d3" fill-opacity="0.88"/><circle cx="1670.9" cy="436.4" r="2.7" fill="#3aa5d3" fill-opacity="0.88"/><circle cx="1660.0" cy="484.9" r="2.7" fill="#3aa5d3" fill-opacity="0.88"/><circle cx="1671.7" cy="493.2" r="2.7" fill="#3aa5d3" fill-opacity="0.88"/><circle cx="1641.4" cy="454.6" r="2.7" fill="#3aa5d3" fill-opacity="0.88"/><circle cx="1656.1" cy="477.0" r="2.7" fill="#3aa5d3" fill-opacity="0.88"/><circle cx="1666.9" cy="423.5" r="2.7" fill="#3aa5d3" fill-opacity="0.88"/><circle cx="1670.5" cy="432.5" r="2.7" fill="#3aa5d3" fill-opacity="0.88"/><circle cx="1667.0" cy="430.1" r="2.7" fill="#3aa5d3" fill-opacity="0.88"/><circle cx="1663.5" cy="490.0" r="2.7" fill="#3aa5d3" fill-opacity="0.88"/><circle cx="1659.2" cy="466.0" r="2.7" fill="#3aa5d3" fill-opacity="0.88"/><circle cx="1672.5" cy="465.4" r="2.7" fill="#3aa5d3" fill-opacity="0.88"/><circle cx="1659.8" cy="495.6" r="2.7" fill="#3aa5d3" fill-opacity="0.88"/><circle cx="1674.9" cy="455.0" r="2.7" fill="#3aa5d3" fill-opacity="0.88"/><circle cx="1680.4" cy="445.9" r="2.7" fill="#3aa5d3" fill-opacity="0.88"/><circle cx="1673.3" cy="455.6" r="2.7" fill="#3aa5d3" fill-opacity="0.88"/><circle cx="1662.9" cy="478.9" r="2.7" fill="#3aa5d3" fill-opacity="0.88"/><circle cx="1664.2" cy="477.3" r="2.7" fill="#3aa5d3" fill-opacity="0.88"/><circle cx="1648.7" cy="434.3" r="2.7" fill="#3aa5d3" fill-opacity="0.88"/><circle cx="1667.8" cy="439.2" r="2.7" fill="#3aa5d3" fill-opacity="0.88"/><circle cx="1652.1" cy="431.9" r="2.7" fill="#3aa5d3" fill-opacity="0.88"/><circle cx="1677.8" cy="478.6" r="2.7" fill="#3aa5d3" fill-opacity="0.88"/><circle cx="1675.8" cy="442.5" r="2.7" fill="#3aa5d3" fill-opacity="0.88"/><circle cx="1661.0" cy="435.0" r="2.7" fill="#3aa5d3" fill-opacity="0.88"/><circle cx="1670.4" cy="494.8" r="2.7" fill="#3aa5d3" fill-opacity="0.88"/><circle cx="1650.2" cy="493.9" r="2.7" fill="#3aa5d3" fill-opacity="0.88"/><circle cx="1674.5" cy="457.7" r="2.7" fill="#3aa5d3" fill-opacity="0.88"/><circle cx="1641.3" cy="485.6" r="2.7" fill="#3aa5d3" fill-opacity="0.88"/><circle cx="1659.8" cy="447.7" r="2.7" fill="#3aa5d3" fill-opacity="0.88"/><circle cx="1666.6" cy="471.7" r="2.7" fill="#3aa5d3" fill-opacity="0.88"/><circle cx="1675.6" cy="441.2" r="2.7" fill="#3aa5d3" fill-opacity="0.88"/><circle cx="1674.5" cy="491.8" r="2.7" fill="#3aa5d3" fill-opacity="0.88"/><circle cx="1679.5" cy="458.0" r="2.7" fill="#3aa5d3" fill-opacity="0.88"/><circle cx="1650.7" cy="485.7" r="2.7" fill="#3aa5d3" fill-opacity="0.88"/><circle cx="1662.3" cy="464.4" r="2.7" fill="#3aa5d3" fill-opacity="0.88"/><circle cx="1678.9" cy="456.1" r="2.7" fill="#3aa5d3" fill-opacity="0.88"/><circle cx="1638.9" cy="455.3" r="2.7" fill="#3aa5d3" fill-opacity="0.88"/><circle cx="1639.9" cy="477.6" r="2.7" fill="#3aa5d3" fill-opacity="0.88"/><circle cx="1664.9" cy="447.3" r="2.7" fill="#3aa5d3" fill-opacity="0.88"/><circle cx="1660.9" cy="482.1" r="2.7" fill="#3aa5d3" fill-opacity="0.88"/><circle cx="1662.1" cy="492.4" r="2.7" fill="#3aa5d3" fill-opacity="0.88"/><circle cx="1660.1" cy="486.9" r="2.7" fill="#3aa5d3" fill-opacity="0.88"/><circle cx="1677.1" cy="491.1" r="2.7" fill="#3aa5d3" fill-opacity="0.88"/><circle cx="1651.5" cy="482.9" r="2.7" fill="#3aa5d3" fill-opacity="0.88"/><circle cx="1644.5" cy="442.2" r="2.7" fill="#3aa5d3" fill-opacity="0.88"/><circle cx="1640.1" cy="481.1" r="2.7" fill="#3aa5d3" fill-opacity="0.88"/><circle cx="1643.9" cy="461.7" r="2.7" fill="#3aa5d3" fill-opacity="0.88"/><circle cx="1658.7" cy="461.4" r="2.7" fill="#3aa5d3" fill-opacity="0.88"/><circle cx="1652.6" cy="467.6" r="2.7" fill="#3aa5d3" fill-opacity="0.88"/><circle cx="1682.8" cy="462.9" r="2.7" fill="#3aa5d3" fill-opacity="0.88"/><circle cx="1668.5" cy="485.7" r="2.7" fill="#3aa5d3" fill-opacity="0.88"/><circle cx="1659.0" cy="432.8" r="2.7" fill="#3aa5d3" fill-opacity="0.88"/><circle cx="1653.3" cy="487.1" r="2.7" fill="#3aa5d3" fill-opacity="0.88"/><circle cx="1643.1" cy="449.6" r="2.7" fill="#3aa5d3" fill-opacity="0.88"/><circle cx="1674.9" cy="480.3" r="2.7" fill="#3aa5d3" fill-opacity="0.88"/><circle cx="1661.1" cy="481.4" r="2.7" fill="#3aa5d3" fill-opacity="0.88"/><circle cx="1662.7" cy="434.3" r="2.7" fill="#3aa5d3" fill-opacity="0.88"/><circle cx="1643.9" cy="448.5" r="2.7" fill="#3aa5d3" fill-opacity="0.88"/><circle cx="1672.4" cy="448.5" r="2.7" fill="#3aa5d3" fill-opacity="0.88"/><circle cx="1650.6" cy="443.9" r="2.7" fill="#3aa5d3" fill-opacity="0.88"/><circle cx="1641.5" cy="459.4" r="2.7" fill="#3aa5d3" fill-opacity="0.88"/><circle cx="1644.6" cy="470.5" r="2.7" fill="#3aa5d3" fill-opacity="0.88"/><circle cx="1637.1" cy="467.6" r="2.7" fill="#3aa5d3" fill-opacity="0.88"/><circle cx="1656.3" cy="425.2" r="2.7" fill="#3aa5d3" fill-opacity="0.88"/><circle cx="1670.7" cy="455.4" r="2.7" fill="#3aa5d3" fill-opacity="0.88"/><circle cx="1641.7" cy="447.2" r="2.7" fill="#3aa5d3" fill-opacity="0.88"/><circle cx="1664.6" cy="451.2" r="2.7" fill="#3aa5d3" fill-opacity="0.88"/><circle cx="1672.1" cy="479.8" r="2.7" fill="#3aa5d3" fill-opacity="0.88"/><circle cx="1670.5" cy="469.9" r="2.7" fill="#3aa5d3" fill-opacity="0.88"/><circle cx="1678.6" cy="476.6" r="2.7" fill="#3aa5d3" fill-opacity="0.88"/><circle cx="1664.1" cy="423.5" r="2.7" fill="#3aa5d3" fill-opacity="0.88"/><circle cx="1672.6" cy="490.4" r="2.7" fill="#3aa5d3" fill-opacity="0.88"/><circle cx="1657.3" cy="450.9" r="2.7" fill="#3aa5d3" fill-opacity="0.88"/><circle cx="1674.4" cy="434.4" r="2.7" fill="#3aa5d3" fill-opacity="0.88"/><circle cx="1665.6" cy="502.0" r="2.7" fill="#3aa5d3" fill-opacity="0.88"/><circle cx="1648.0" cy="478.3" r="2.7" fill="#3aa5d3" fill-opacity="0.88"/><circle cx="1682.8" cy="459.6" r="2.7" fill="#3aa5d3" fill-opacity="0.88"/><circle cx="1669.0" cy="483.5" r="2.7" fill="#3aa5d3" fill-opacity="0.88"/><circle cx="1648.3" cy="459.9" r="2.7" fill="#3aa5d3" fill-opacity="0.88"/><circle cx="1665.2" cy="481.9" r="2.7" fill="#3aa5d3" fill-opacity="0.88"/><circle cx="1660.6" cy="458.1" r="2.7" fill="#3aa5d3" fill-opacity="0.88"/><circle cx="1647.8" cy="453.4" r="2.7" fill="#3aa5d3" fill-opacity="0.88"/><circle cx="1673.8" cy="464.5" r="2.7" fill="#3aa5d3" fill-opacity="0.88"/><circle cx="1651.3" cy="442.3" r="2.7" fill="#3aa5d3" fill-opacity="0.88"/><circle cx="1683.8" cy="478.4" r="2.7" fill="#3aa5d3" fill-opacity="0.88"/><circle cx="1664.6" cy="421.9" r="2.7" fill="#3aa5d3" fill-opacity="0.88"/><circle cx="1669.9" cy="473.6" r="2.7" fill="#3aa5d3" fill-opacity="0.88"/><circle cx="1681.9" cy="470.9" r="2.7" fill="#3aa5d3" fill-opacity="0.88"/><circle cx="1660.1" cy="474.2" r="2.7" fill="#3aa5d3" fill-opacity="0.88"/><circle cx="1640.1" cy="480.6" r="2.7" fill="#3aa5d3" fill-opacity="0.88"/><circle cx="1664.9" cy="445.1" r="2.7" fill="#3aa5d3" fill-opacity="0.88"/><circle cx="1675.0" cy="494.2" r="2.7" fill="#3aa5d3" fill-opacity="0.88"/><circle cx="1645.3" cy="447.4" r="2.7" fill="#3aa5d3" fill-opacity="0.88"/><circle cx="1664.8" cy="466.0" r="2.7" fill="#3aa5d3" fill-opacity="0.88"/><circle cx="1656.6" cy="438.7" r="2.7" fill="#3aa5d3" fill-opacity="0.88"/><circle cx="1682.6" cy="479.8" r="2.7" fill="#3aa5d3" fill-opacity="0.88"/><circle cx="1650.3" cy="434.5" r="2.7" fill="#3aa5d3" fill-opacity="0.88"/><circle cx="1680.7" cy="481.2" r="2.7" fill="#3aa5d3" fill-opacity="0.88"/><circle cx="1681.9" cy="477.6" r="2.7" fill="#3aa5d3" fill-opacity="0.88"/><circle cx="1648.5" cy="468.3" r="2.7" fill="#3aa5d3" fill-opacity="0.88"/><circle cx="1641.3" cy="448.9" r="2.7" fill="#3aa5d3" fill-opacity="0.88"/><circle cx="1660.2" cy="474.2" r="2.7" fill="#3aa5d3" fill-opacity="0.88"/><circle cx="1650.9" cy="459.0" r="2.7" fill="#3aa5d3" fill-opacity="0.88"/><circle cx="1667.5" cy="470.9" r="2.7" fill="#3aa5d3" fill-opacity="0.88"/><circle cx="1670.1" cy="467.0" r="2.7" fill="#3aa5d3" fill-opacity="0.88"/><circle cx="1656.3" cy="481.1" r="2.7" fill="#3aa5d3" fill-opacity="0.88"/><circle cx="1661.6" cy="442.1" r="2.7" fill="#3aa5d3" fill-opacity="0.88"/><circle cx="1652.1" cy="462.0" r="2.7" fill="#3aa5d3" fill-opacity="0.88"/><circle cx="1659.7" cy="465.1" r="2.7" fill="#3aa5d3" fill-opacity="0.88"/><circle cx="1661.0" cy="465.4" r="2.7" fill="#3aa5d3" fill-opacity="0.88"/><circle cx="1659.7" cy="432.8" r="2.7" fill="#3aa5d3" fill-opacity="0.88"/><circle cx="1664.8" cy="423.1" r="2.7" fill="#3aa5d3" fill-opacity="0.88"/><circle cx="1664.7" cy="407.7" r="2.7" fill="#3aa5d3" fill-opacity="0.88"/><circle cx="1664.2" cy="397.9" r="2.7" fill="#3aa5d3" fill-opacity="0.88"/><circle cx="1646.7" cy="410.6" r="2.7" fill="#3aa5d3" fill-opacity="0.88"/><circle cx="1652.7" cy="419.1" r="2.7" fill="#3aa5d3" fill-opacity="0.88"/><circle cx="1657.2" cy="389.9" r="2.7" fill="#3aa5d3" fill-opacity="0.88"/><circle cx="1653.1" cy="426.5" r="2.7" fill="#3aa5d3" fill-opacity="0.88"/><circle cx="1658.7" cy="393.8" r="2.7" fill="#3aa5d3" fill-opacity="0.88"/><circle cx="1654.0" cy="416.6" r="2.7" fill="#3aa5d3" fill-opacity="0.88"/><circle cx="1665.4" cy="412.2" r="2.7" fill="#3aa5d3" fill-opacity="0.88"/><circle cx="1673.1" cy="417.9" r="2.7" fill="#3aa5d3" fill-opacity="0.88"/><circle cx="1660.8" cy="417.4" r="2.7" fill="#3aa5d3" fill-opacity="0.88"/><circle cx="1673.4" cy="420.0" r="2.7" fill="#3aa5d3" fill-opacity="0.88"/><circle cx="1667.7" cy="397.4" r="2.7" fill="#3aa5d3" fill-opacity="0.88"/><circle cx="1659.6" cy="419.2" r="2.7" fill="#3aa5d3" fill-opacity="0.88"/><circle cx="1658.3" cy="423.3" r="2.7" fill="#3aa5d3" fill-opacity="0.88"/><circle cx="1666.4" cy="421.3" r="2.7" fill="#3aa5d3" fill-opacity="0.88"/><circle cx="1659.7" cy="431.4" r="2.7" fill="#3aa5d3" fill-opacity="0.88"/><circle cx="1671.5" cy="407.4" r="2.7" fill="#3aa5d3" fill-opacity="0.88"/><circle cx="1661.5" cy="431.5" r="2.7" fill="#3aa5d3" fill-opacity="0.88"/><circle cx="1657.9" cy="421.0" r="2.7" fill="#3aa5d3" fill-opacity="0.88"/><circle cx="1670.0" cy="410.1" r="2.7" fill="#3aa5d3" fill-opacity="0.88"/><circle cx="1650.5" cy="412.3" r="2.7" fill="#3aa5d3" fill-opacity="0.88"/><circle cx="1664.2" cy="423.9" r="2.7" fill="#3aa5d3" fill-opacity="0.88"/><circle cx="1668.2" cy="410.3" r="2.7" fill="#3aa5d3" fill-opacity="0.88"/><circle cx="1749.7" cy="478.6" r="2.7" fill="#d9533f" fill-opacity="0.88"/><circle cx="1739.6" cy="466.2" r="2.7" fill="#d9533f" fill-opacity="0.88"/><circle cx="1733.4" cy="482.3" r="2.7" fill="#d9533f" fill-opacity="0.88"/><circle cx="1723.9" cy="449.6" r="2.7" fill="#d9533f" fill-opacity="0.88"/><circle cx="1737.0" cy="430.8" r="2.7" fill="#d9533f" fill-opacity="0.88"/><circle cx="1733.7" cy="425.2" r="2.7" fill="#d9533f" fill-opacity="0.88"/><circle cx="1726.8" cy="479.4" r="2.7" fill="#d9533f" fill-opacity="0.88"/><circle cx="1745.2" cy="463.7" r="2.7" fill="#d9533f" fill-opacity="0.88"/><circle cx="1734.8" cy="431.7" r="2.7" fill="#d9533f" fill-opacity="0.88"/><circle cx="1759.5" cy="475.7" r="2.7" fill="#d9533f" fill-opacity="0.88"/><circle cx="1749.4" cy="444.1" r="2.7" fill="#d9533f" fill-opacity="0.88"/><circle cx="1735.5" cy="426.4" r="2.7" fill="#d9533f" fill-opacity="0.88"/><circle cx="1748.3" cy="487.9" r="2.7" fill="#d9533f" fill-opacity="0.88"/><circle cx="1713.9" cy="463.9" r="2.7" fill="#d9533f" fill-opacity="0.88"/><circle cx="1742.2" cy="428.0" r="2.7" fill="#d9533f" fill-opacity="0.88"/><circle cx="1720.0" cy="444.3" r="2.7" fill="#d9533f" fill-opacity="0.88"/><circle cx="1731.0" cy="432.8" r="2.7" fill="#d9533f" fill-opacity="0.88"/><circle cx="1737.4" cy="470.4" r="2.7" fill="#d9533f" fill-opacity="0.88"/><circle cx="1746.5" cy="482.7" r="2.7" fill="#d9533f" fill-opacity="0.88"/><circle cx="1755.5" cy="489.2" r="2.7" fill="#d9533f" fill-opacity="0.88"/><circle cx="1720.6" cy="453.0" r="2.7" fill="#d9533f" fill-opacity="0.88"/><circle cx="1725.8" cy="440.1" r="2.7" fill="#d9533f" fill-opacity="0.88"/><circle cx="1736.2" cy="465.1" r="2.7" fill="#d9533f" fill-opacity="0.88"/><circle cx="1741.4" cy="429.7" r="2.7" fill="#d9533f" fill-opacity="0.88"/><circle cx="1719.2" cy="464.4" r="2.7" fill="#d9533f" fill-opacity="0.88"/><circle cx="1734.4" cy="457.7" r="2.7" fill="#d9533f" fill-opacity="0.88"/><circle cx="1736.2" cy="445.8" r="2.7" fill="#d9533f" fill-opacity="0.88"/><circle cx="1747.5" cy="474.0" r="2.7" fill="#d9533f" fill-opacity="0.88"/><circle cx="1735.9" cy="448.1" r="2.7" fill="#d9533f" fill-opacity="0.88"/><circle cx="1736.0" cy="421.7" r="2.7" fill="#d9533f" fill-opacity="0.88"/><circle cx="1722.4" cy="465.9" r="2.7" fill="#d9533f" fill-opacity="0.88"/><circle cx="1716.5" cy="469.6" r="2.7" fill="#d9533f" fill-opacity="0.88"/><circle cx="1738.5" cy="432.3" r="2.7" fill="#d9533f" fill-opacity="0.88"/><circle cx="1733.7" cy="457.6" r="2.7" fill="#d9533f" fill-opacity="0.88"/><circle cx="1743.9" cy="480.5" r="2.7" fill="#d9533f" fill-opacity="0.88"/><circle cx="1736.6" cy="443.5" r="2.7" fill="#d9533f" fill-opacity="0.88"/><circle cx="1735.3" cy="463.7" r="2.7" fill="#d9533f" fill-opacity="0.88"/><circle cx="1748.0" cy="472.4" r="2.7" fill="#d9533f" fill-opacity="0.88"/><circle cx="1730.0" cy="433.9" r="2.7" fill="#d9533f" fill-opacity="0.88"/><circle cx="1732.4" cy="446.3" r="2.7" fill="#d9533f" fill-opacity="0.88"/><circle cx="1721.1" cy="462.1" r="2.7" fill="#d9533f" fill-opacity="0.88"/><circle cx="1729.9" cy="467.6" r="2.7" fill="#d9533f" fill-opacity="0.88"/><circle cx="1744.0" cy="454.6" r="2.7" fill="#d9533f" fill-opacity="0.88"/><circle cx="1760.5" cy="459.2" r="2.7" fill="#d9533f" fill-opacity="0.88"/><circle cx="1753.2" cy="468.0" r="2.7" fill="#d9533f" fill-opacity="0.88"/><circle cx="1744.0" cy="425.9" r="2.7" fill="#d9533f" fill-opacity="0.88"/><circle cx="1725.8" cy="471.2" r="2.7" fill="#d9533f" fill-opacity="0.88"/><circle cx="1743.3" cy="506.2" r="2.7" fill="#d9533f" fill-opacity="0.88"/><circle cx="1741.6" cy="495.8" r="2.7" fill="#d9533f" fill-opacity="0.88"/><circle cx="1748.1" cy="488.2" r="2.7" fill="#d9533f" fill-opacity="0.88"/><circle cx="1744.1" cy="461.2" r="2.7" fill="#d9533f" fill-opacity="0.88"/><circle cx="1742.6" cy="438.5" r="2.7" fill="#d9533f" fill-opacity="0.88"/><circle cx="1749.6" cy="441.8" r="2.7" fill="#d9533f" fill-opacity="0.88"/><circle cx="1739.8" cy="506.0" r="2.7" fill="#d9533f" fill-opacity="0.88"/><circle cx="1734.2" cy="465.4" r="2.7" fill="#d9533f" fill-opacity="0.88"/><circle cx="1754.0" cy="465.6" r="2.7" fill="#d9533f" fill-opacity="0.88"/><circle cx="1724.9" cy="471.5" r="2.7" fill="#d9533f" fill-opacity="0.88"/><circle cx="1745.7" cy="482.9" r="2.7" fill="#d9533f" fill-opacity="0.88"/><circle cx="1727.6" cy="501.3" r="2.7" fill="#d9533f" fill-opacity="0.88"/><circle cx="1758.9" cy="465.4" r="2.7" fill="#d9533f" fill-opacity="0.88"/><circle cx="1740.5" cy="454.6" r="2.7" fill="#d9533f" fill-opacity="0.88"/><circle cx="1753.2" cy="449.0" r="2.7" fill="#d9533f" fill-opacity="0.88"/><circle cx="1746.0" cy="452.9" r="2.7" fill="#d9533f" fill-opacity="0.88"/><circle cx="1726.7" cy="483.1" r="2.7" fill="#d9533f" fill-opacity="0.88"/><circle cx="1755.9" cy="464.8" r="2.7" fill="#d9533f" fill-opacity="0.88"/><circle cx="1727.0" cy="485.3" r="2.7" fill="#d9533f" fill-opacity="0.88"/><circle cx="1736.3" cy="472.1" r="2.7" fill="#d9533f" fill-opacity="0.88"/><circle cx="1755.7" cy="488.5" r="2.7" fill="#d9533f" fill-opacity="0.88"/><circle cx="1731.5" cy="506.2" r="2.7" fill="#d9533f" fill-opacity="0.88"/><circle cx="1737.0" cy="484.9" r="2.7" fill="#d9533f" fill-opacity="0.88"/><circle cx="1727.5" cy="463.9" r="2.7" fill="#d9533f" fill-opacity="0.88"/><circle cx="1719.3" cy="495.6" r="2.7" fill="#d9533f" fill-opacity="0.88"/><circle cx="1750.1" cy="439.2" r="2.7" fill="#d9533f" fill-opacity="0.88"/><circle cx="1724.9" cy="434.5" r="2.7" fill="#d9533f" fill-opacity="0.88"/><circle cx="1752.2" cy="453.8" r="2.7" fill="#d9533f" fill-opacity="0.88"/><circle cx="1736.2" cy="457.9" r="2.7" fill="#d9533f" fill-opacity="0.88"/><circle cx="1735.7" cy="437.9" r="2.7" fill="#d9533f" fill-opacity="0.88"/><circle cx="1737.2" cy="431.2" r="2.7" fill="#d9533f" fill-opacity="0.88"/><circle cx="1736.0" cy="472.0" r="2.7" fill="#d9533f" fill-opacity="0.88"/><circle cx="1743.4" cy="459.3" r="2.7" fill="#d9533f" fill-opacity="0.88"/><circle cx="1723.5" cy="469.0" r="2.7" fill="#d9533f" fill-opacity="0.88"/><circle cx="1730.6" cy="500.1" r="2.7" fill="#d9533f" fill-opacity="0.88"/><circle cx="1748.2" cy="462.1" r="2.7" fill="#d9533f" fill-opacity="0.88"/><circle cx="1731.1" cy="447.2" r="2.7" fill="#d9533f" fill-opacity="0.88"/><circle cx="1724.2" cy="456.1" r="2.7" fill="#d9533f" fill-opacity="0.88"/><circle cx="1741.3" cy="477.8" r="2.7" fill="#d9533f" fill-opacity="0.88"/><circle cx="1743.4" cy="505.0" r="2.7" fill="#d9533f" fill-opacity="0.88"/><circle cx="1726.5" cy="465.3" r="2.7" fill="#d9533f" fill-opacity="0.88"/><circle cx="1753.8" cy="440.6" r="2.7" fill="#d9533f" fill-opacity="0.88"/><circle cx="1729.4" cy="469.2" r="2.7" fill="#d9533f" fill-opacity="0.88"/><circle cx="1739.2" cy="474.7" r="2.7" fill="#d9533f" fill-opacity="0.88"/><circle cx="1733.6" cy="473.8" r="2.7" fill="#d9533f" fill-opacity="0.88"/><circle cx="1737.8" cy="484.5" r="2.7" fill="#d9533f" fill-opacity="0.88"/><circle cx="1718.5" cy="447.7" r="2.7" fill="#d9533f" fill-opacity="0.88"/><circle cx="1737.0" cy="439.1" r="2.7" fill="#d9533f" fill-opacity="0.88"/><circle cx="1721.9" cy="480.4" r="2.7" fill="#d9533f" fill-opacity="0.88"/><circle cx="1727.3" cy="481.0" r="2.7" fill="#d9533f" fill-opacity="0.88"/><circle cx="1748.1" cy="472.8" r="2.7" fill="#d9533f" fill-opacity="0.88"/><circle cx="1744.2" cy="462.4" r="2.7" fill="#d9533f" fill-opacity="0.88"/><circle cx="1717.4" cy="464.3" r="2.7" fill="#d9533f" fill-opacity="0.88"/><circle cx="1742.9" cy="451.7" r="2.7" fill="#d9533f" fill-opacity="0.88"/><circle cx="1735.5" cy="483.9" r="2.7" fill="#d9533f" fill-opacity="0.88"/><circle cx="1724.1" cy="481.0" r="2.7" fill="#d9533f" fill-opacity="0.88"/><circle cx="1757.2" cy="453.6" r="2.7" fill="#d9533f" fill-opacity="0.88"/><circle cx="1738.8" cy="461.8" r="2.7" fill="#d9533f" fill-opacity="0.88"/><circle cx="1757.7" cy="472.2" r="2.7" fill="#d9533f" fill-opacity="0.88"/><circle cx="1748.1" cy="447.9" r="2.7" fill="#d9533f" fill-opacity="0.88"/><circle cx="1736.9" cy="464.9" r="2.7" fill="#d9533f" fill-opacity="0.88"/><circle cx="1717.7" cy="491.5" r="2.7" fill="#d9533f" fill-opacity="0.88"/><circle cx="1744.3" cy="429.4" r="2.7" fill="#d9533f" fill-opacity="0.88"/><circle cx="1747.8" cy="461.7" r="2.7" fill="#d9533f" fill-opacity="0.88"/><circle cx="1743.6" cy="474.1" r="2.7" fill="#d9533f" fill-opacity="0.88"/><circle cx="1717.4" cy="460.1" r="2.7" fill="#d9533f" fill-opacity="0.88"/><circle cx="1754.6" cy="452.0" r="2.7" fill="#d9533f" fill-opacity="0.88"/><circle cx="1727.3" cy="435.1" r="2.7" fill="#d9533f" fill-opacity="0.88"/><circle cx="1719.5" cy="473.2" r="2.7" fill="#d9533f" fill-opacity="0.88"/><circle cx="1758.7" cy="474.3" r="2.7" fill="#d9533f" fill-opacity="0.88"/><circle cx="1739.7" cy="506.6" r="2.7" fill="#d9533f" fill-opacity="0.88"/><circle cx="1730.4" cy="447.9" r="2.7" fill="#d9533f" fill-opacity="0.88"/><circle cx="1744.9" cy="478.9" r="2.7" fill="#d9533f" fill-opacity="0.88"/><circle cx="1726.6" cy="438.2" r="2.7" fill="#d9533f" fill-opacity="0.88"/><circle cx="1741.0" cy="470.8" r="2.7" fill="#d9533f" fill-opacity="0.88"/><circle cx="1719.2" cy="460.1" r="2.7" fill="#d9533f" fill-opacity="0.88"/><circle cx="1728.9" cy="476.6" r="2.7" fill="#d9533f" fill-opacity="0.88"/><circle cx="1735.7" cy="463.3" r="2.7" fill="#d9533f" fill-opacity="0.88"/><circle cx="1731.8" cy="491.2" r="2.7" fill="#d9533f" fill-opacity="0.88"/><circle cx="1754.8" cy="456.4" r="2.7" fill="#d9533f" fill-opacity="0.88"/><circle cx="1747.3" cy="446.2" r="2.7" fill="#d9533f" fill-opacity="0.88"/><circle cx="1738.1" cy="483.9" r="2.7" fill="#d9533f" fill-opacity="0.88"/><circle cx="1755.8" cy="456.3" r="2.7" fill="#d9533f" fill-opacity="0.88"/><circle cx="1736.1" cy="469.1" r="2.7" fill="#d9533f" fill-opacity="0.88"/><circle cx="1716.5" cy="465.4" r="2.7" fill="#d9533f" fill-opacity="0.88"/><circle cx="1726.9" cy="474.4" r="2.7" fill="#d9533f" fill-opacity="0.88"/><circle cx="1728.8" cy="428.5" r="2.7" fill="#d9533f" fill-opacity="0.88"/><circle cx="1737.5" cy="470.7" r="2.7" fill="#d9533f" fill-opacity="0.88"/><circle cx="1728.9" cy="487.3" r="2.7" fill="#d9533f" fill-opacity="0.88"/><circle cx="1733.5" cy="449.8" r="2.7" fill="#d9533f" fill-opacity="0.88"/><circle cx="1741.3" cy="429.9" r="2.7" fill="#d9533f" fill-opacity="0.88"/><circle cx="1727.0" cy="464.5" r="2.7" fill="#d9533f" fill-opacity="0.88"/><circle cx="1749.2" cy="460.9" r="2.7" fill="#d9533f" fill-opacity="0.88"/><circle cx="1740.9" cy="448.5" r="2.7" fill="#d9533f" fill-opacity="0.88"/><circle cx="1740.9" cy="501.7" r="2.7" fill="#d9533f" fill-opacity="0.88"/><circle cx="1730.0" cy="506.0" r="2.7" fill="#d9533f" fill-opacity="0.88"/><circle cx="1727.5" cy="465.4" r="2.7" fill="#d9533f" fill-opacity="0.88"/><circle cx="1739.6" cy="490.7" r="2.7" fill="#d9533f" fill-opacity="0.88"/><circle cx="1728.5" cy="428.3" r="2.7" fill="#d9533f" fill-opacity="0.88"/><circle cx="1746.0" cy="485.0" r="2.7" fill="#d9533f" fill-opacity="0.88"/><circle cx="1742.9" cy="507.1" r="2.7" fill="#d9533f" fill-opacity="0.88"/><circle cx="1739.8" cy="470.8" r="2.7" fill="#d9533f" fill-opacity="0.88"/><circle cx="1750.8" cy="474.3" r="2.7" fill="#d9533f" fill-opacity="0.88"/><circle cx="1752.1" cy="440.6" r="2.7" fill="#d9533f" fill-opacity="0.88"/><circle cx="1735.3" cy="421.3" r="2.7" fill="#d9533f" fill-opacity="0.88"/><circle cx="1748.1" cy="455.6" r="2.7" fill="#d9533f" fill-opacity="0.88"/><circle cx="1746.8" cy="503.9" r="2.7" fill="#d9533f" fill-opacity="0.88"/><circle cx="1736.9" cy="459.4" r="2.7" fill="#d9533f" fill-opacity="0.88"/><circle cx="1731.0" cy="443.9" r="2.7" fill="#d9533f" fill-opacity="0.88"/><circle cx="1727.6" cy="481.2" r="2.7" fill="#d9533f" fill-opacity="0.88"/><circle cx="1737.4" cy="466.1" r="2.7" fill="#d9533f" fill-opacity="0.88"/><circle cx="1734.4" cy="488.1" r="2.7" fill="#d9533f" fill-opacity="0.88"/><circle cx="1743.9" cy="461.5" r="2.7" fill="#d9533f" fill-opacity="0.88"/><circle cx="1746.5" cy="461.2" r="2.7" fill="#d9533f" fill-opacity="0.88"/><circle cx="1722.7" cy="495.7" r="2.7" fill="#d9533f" fill-opacity="0.88"/><circle cx="1742.4" cy="441.1" r="2.7" fill="#d9533f" fill-opacity="0.88"/><circle cx="1752.8" cy="473.6" r="2.7" fill="#d9533f" fill-opacity="0.88"/><circle cx="1719.8" cy="495.0" r="2.7" fill="#d9533f" fill-opacity="0.88"/><circle cx="1742.0" cy="487.5" r="2.7" fill="#d9533f" fill-opacity="0.88"/><circle cx="1739.5" cy="461.7" r="2.7" fill="#d9533f" fill-opacity="0.88"/><circle cx="1717.6" cy="485.6" r="2.7" fill="#d9533f" fill-opacity="0.88"/><circle cx="1737.4" cy="458.6" r="2.7" fill="#d9533f" fill-opacity="0.88"/><circle cx="1741.8" cy="466.8" r="2.7" fill="#d9533f" fill-opacity="0.88"/><circle cx="1746.2" cy="455.6" r="2.7" fill="#d9533f" fill-opacity="0.88"/><circle cx="1736.7" cy="423.7" r="2.7" fill="#d9533f" fill-opacity="0.88"/><circle cx="1730.7" cy="482.1" r="2.7" fill="#d9533f" fill-opacity="0.88"/><circle cx="1754.3" cy="456.3" r="2.7" fill="#d9533f" fill-opacity="0.88"/><circle cx="1735.4" cy="500.9" r="2.7" fill="#d9533f" fill-opacity="0.88"/><circle cx="1732.1" cy="483.6" r="2.7" fill="#d9533f" fill-opacity="0.88"/><circle cx="1759.0" cy="465.9" r="2.7" fill="#d9533f" fill-opacity="0.88"/><circle cx="1751.5" cy="448.2" r="2.7" fill="#d9533f" fill-opacity="0.88"/><circle cx="1739.6" cy="463.4" r="2.7" fill="#d9533f" fill-opacity="0.88"/><circle cx="1738.7" cy="493.0" r="2.7" fill="#d9533f" fill-opacity="0.88"/><circle cx="1758.8" cy="453.5" r="2.7" fill="#d9533f" fill-opacity="0.88"/><circle cx="1728.4" cy="477.6" r="2.7" fill="#d9533f" fill-opacity="0.88"/><circle cx="1721.6" cy="477.3" r="2.7" fill="#d9533f" fill-opacity="0.88"/><circle cx="1744.9" cy="458.1" r="2.7" fill="#d9533f" fill-opacity="0.88"/><circle cx="1741.8" cy="430.3" r="2.7" fill="#d9533f" fill-opacity="0.88"/><circle cx="1743.8" cy="431.2" r="2.7" fill="#d9533f" fill-opacity="0.88"/><circle cx="1727.9" cy="450.9" r="2.7" fill="#d9533f" fill-opacity="0.88"/><circle cx="1731.0" cy="486.7" r="2.7" fill="#d9533f" fill-opacity="0.88"/><circle cx="1738.0" cy="455.6" r="2.7" fill="#d9533f" fill-opacity="0.88"/><circle cx="1744.1" cy="500.1" r="2.7" fill="#d9533f" fill-opacity="0.88"/><circle cx="1738.1" cy="410.4" r="2.7" fill="#d9533f" fill-opacity="0.88"/><circle cx="1749.6" cy="409.1" r="2.7" fill="#d9533f" fill-opacity="0.88"/><circle cx="1730.3" cy="429.6" r="2.7" fill="#d9533f" fill-opacity="0.88"/><circle cx="1747.2" cy="386.4" r="2.7" fill="#d9533f" fill-opacity="0.88"/><circle cx="1737.6" cy="411.3" r="2.7" fill="#d9533f" fill-opacity="0.88"/><circle cx="1747.2" cy="415.5" r="2.7" fill="#d9533f" fill-opacity="0.88"/><circle cx="1736.0" cy="388.3" r="2.7" fill="#d9533f" fill-opacity="0.88"/><circle cx="1739.0" cy="421.5" r="2.7" fill="#d9533f" fill-opacity="0.88"/><circle cx="1730.4" cy="389.8" r="2.7" fill="#d9533f" fill-opacity="0.88"/><circle cx="1737.9" cy="379.7" r="2.7" fill="#d9533f" fill-opacity="0.88"/><circle cx="1735.8" cy="398.2" r="2.7" fill="#d9533f" fill-opacity="0.88"/><circle cx="1741.7" cy="393.7" r="2.7" fill="#d9533f" fill-opacity="0.88"/><circle cx="1730.2" cy="398.7" r="2.7" fill="#d9533f" fill-opacity="0.88"/><circle cx="1737.6" cy="394.4" r="2.7" fill="#d9533f" fill-opacity="0.88"/><circle cx="1738.1" cy="417.0" r="2.7" fill="#d9533f" fill-opacity="0.88"/><circle cx="1747.0" cy="426.4" r="2.7" fill="#d9533f" fill-opacity="0.88"/><circle cx="1731.1" cy="398.2" r="2.7" fill="#d9533f" fill-opacity="0.88"/><circle cx="1724.6" cy="421.9" r="2.7" fill="#d9533f" fill-opacity="0.88"/><circle cx="1731.0" cy="404.5" r="2.7" fill="#d9533f" fill-opacity="0.88"/><circle cx="1741.4" cy="384.8" r="2.7" fill="#d9533f" fill-opacity="0.88"/><circle cx="1742.3" cy="404.6" r="2.7" fill="#d9533f" fill-opacity="0.88"/><circle cx="1723.1" cy="408.9" r="2.7" fill="#d9533f" fill-opacity="0.88"/><circle cx="1743.9" cy="382.6" r="2.7" fill="#d9533f" fill-opacity="0.88"/><circle cx="1745.9" cy="408.4" r="2.7" fill="#d9533f" fill-opacity="0.88"/><circle cx="1742.6" cy="412.0" r="2.7" fill="#d9533f" fill-opacity="0.88"/><circle cx="1749.5" cy="401.6" r="2.7" fill="#d9533f" fill-opacity="0.88"/><circle cx="1745.7" cy="398.4" r="2.7" fill="#d9533f" fill-opacity="0.88"/><circle cx="1743.7" cy="392.1" r="2.7" fill="#d9533f" fill-opacity="0.88"/><circle cx="1737.1" cy="429.0" r="2.7" fill="#d9533f" fill-opacity="0.88"/><circle cx="1742.0" cy="402.6" r="2.7" fill="#d9533f" fill-opacity="0.88"/><circle cx="1690" cy="480" r="2.5" fill="#cfcfcf"/><circle cx="1697" cy="495" r="2.5" fill="#cfcfcf"/><circle cx="1702" cy="512" r="2.5" fill="#cfcfcf"/><circle cx="1693" cy="510" r="2.5" fill="#cfcfcf"/><circle cx="1680" cy="512" r="2.5" fill="#cfcfcf"/><circle cx="1705" cy="520" r="2.5" fill="#cfcfcf"/><g stroke="#111" fill="none"><path d="M1585.3 275V521" stroke-width="3.5"/><path d="M1583.5 519.5H1807" stroke-width="3.5"/><path d="M1683.5 284.7V519.5" stroke-width="3.4" stroke-dasharray="26.3 26"/><path d="M1683.5 441.8V519.5" stroke-width="3.4"/><path d="M1708.5 284.7V519.5" stroke-width="3.4" stroke-dasharray="26.3 26"/><path d="M1586 504.7H1807" stroke-width="3.4" stroke-dasharray="26.3 26"/></g></g>
<g><g fill="none" stroke-linecap="round" stroke-linejoin="round"><path d="M1931 304 L1934 320 L1941 342 L1950 364" stroke="#2aacb0" stroke-width="9"/><path d="M1931 303 L1935 322 L1939 334" stroke="#e3766b" stroke-width="8"/><path d="M1950 364 L1940 392 L1931 425 L1922 460 L1913 500" stroke="#2aacb0" stroke-width="11"/><path d="M1946 376 L1938 400 L1930 430 L1923 455" stroke="#e3766b" stroke-width="8"/><path d="M1963 359 L1990 355 L2030 362 L2070 372 L2105 379 L2127 383" stroke="#e3766b" stroke-width="14"/><path d="M2090 378 L2127 384" stroke="#e3766b" stroke-width="17"/></g><ellipse cx="1931" cy="306" rx="9" ry="12" transform="rotate(-12 1931 306)" fill="#e3766b"/><ellipse cx="1917" cy="483" rx="11" ry="17" transform="rotate(10 1917 483)" fill="#2aacb0"/><ellipse cx="1919" cy="481" rx="8" ry="13" transform="rotate(10 1919 481)" fill="#e3766b"/><circle cx="1937.9" cy="339.0" r="2.9" fill="#2aacb0"/><circle cx="1933.3" cy="313.4" r="2.9" fill="#2aacb0"/><circle cx="1934.3" cy="307.9" r="2.9" fill="#2aacb0"/><circle cx="1931.2" cy="316.5" r="2.9" fill="#2aacb0"/><circle cx="1944.0" cy="340.6" r="2.9" fill="#2aacb0"/><circle cx="1931.2" cy="299.4" r="2.9" fill="#2aacb0"/><circle cx="1944.9" cy="342.2" r="2.9" fill="#2aacb0"/><circle cx="1936.8" cy="319.0" r="2.9" fill="#2aacb0"/><circle cx="1943.9" cy="351.3" r="2.9" fill="#2aacb0"/><circle cx="1934.5" cy="302.4" r="2.9" fill="#2aacb0"/><circle cx="1934.3" cy="325.6" r="2.9" fill="#2aacb0"/><circle cx="1944.9" cy="339.3" r="2.9" fill="#2aacb0"/><circle cx="1928.8" cy="310.5" r="2.9" fill="#2aacb0"/><circle cx="1937.7" cy="325.7" r="2.9" fill="#2aacb0"/><circle cx="1928.0" cy="321.1" r="2.9" fill="#2aacb0"/><circle cx="1932.6" cy="320.2" r="2.9" fill="#2aacb0"/><circle cx="1935.2" cy="322.6" r="2.9" fill="#2aacb0"/><circle cx="1940.9" cy="357.8" r="2.9" fill="#2aacb0"/><circle cx="1937.8" cy="322.4" r="2.9" fill="#2aacb0"/><circle cx="1946.0" cy="345.5" r="2.9" fill="#2aacb0"/><circle cx="1924.3" cy="300.3" r="2.9" fill="#2aacb0"/><circle cx="1931.7" cy="328.3" r="2.9" fill="#2aacb0"/><circle cx="1930.7" cy="327.4" r="2.9" fill="#2aacb0"/><circle cx="1940.0" cy="328.7" r="2.9" fill="#2aacb0"/><circle cx="1928.6" cy="300.1" r="2.9" fill="#2aacb0"/><circle cx="1935.9" cy="343.2" r="2.9" fill="#2aacb0"/><circle cx="1928.7" cy="305.3" r="2.9" fill="#2aacb0"/><circle cx="1934.4" cy="323.8" r="2.9" fill="#2aacb0"/><circle cx="1933.4" cy="308.4" r="2.9" fill="#2aacb0"/><circle cx="1932.6" cy="335.7" r="2.9" fill="#2aacb0"/><circle cx="1930.5" cy="306.3" r="2.9" fill="#2aacb0"/><circle cx="1939.6" cy="353.9" r="2.9" fill="#2aacb0"/><circle cx="1935.9" cy="311.5" r="2.9" fill="#2aacb0"/><circle cx="1943.2" cy="362.7" r="2.9" fill="#2aacb0"/><circle cx="1941.7" cy="329.8" r="2.9" fill="#2aacb0"/><circle cx="1949.2" cy="358.8" r="2.9" fill="#2aacb0"/><circle cx="1946.1" cy="358.5" r="2.9" fill="#2aacb0"/><circle cx="1949.0" cy="351.3" r="2.9" fill="#2aacb0"/><circle cx="1947.3" cy="349.2" r="2.9" fill="#2aacb0"/><circle cx="1931.1" cy="327.2" r="2.9" fill="#2aacb0"/><circle cx="1947.7" cy="352.2" r="2.9" fill="#e3766b"/><circle cx="1932.5" cy="313.6" r="2.9" fill="#e3766b"/><circle cx="1938.1" cy="333.2" r="2.9" fill="#e3766b"/><circle cx="1932.5" cy="306.9" r="2.9" fill="#e3766b"/><circle cx="1939.7" cy="347.8" r="2.9" fill="#e3766b"/><circle cx="1929.0" cy="301.9" r="2.9" fill="#e3766b"/><circle cx="1946.9" cy="347.3" r="2.9" fill="#e3766b"/><circle cx="1948.4" cy="352.6" r="2.9" fill="#e3766b"/><circle cx="1939.0" cy="338.8" r="2.9" fill="#e3766b"/><circle cx="1941.5" cy="339.8" r="2.9" fill="#e3766b"/><circle cx="1934.7" cy="327.2" r="2.9" fill="#e3766b"/><circle cx="1934.2" cy="327.8" r="2.9" fill="#e3766b"/><circle cx="1936.3" cy="328.7" r="2.9" fill="#e3766b"/><circle cx="1928.4" cy="300.8" r="2.9" fill="#e3766b"/><circle cx="1938.7" cy="331.1" r="2.9" fill="#e3766b"/><circle cx="1941.6" cy="349.9" r="2.9" fill="#e3766b"/><circle cx="1938.5" cy="328.9" r="2.9" fill="#e3766b"/><circle cx="1939.4" cy="329.7" r="2.9" fill="#e3766b"/><circle cx="1931.2" cy="307.6" r="2.9" fill="#e3766b"/><circle cx="1930.6" cy="305.1" r="2.9" fill="#e3766b"/><circle cx="1940.4" cy="331.6" r="2.9" fill="#e3766b"/><circle cx="1943.4" cy="339.8" r="2.9" fill="#e3766b"/><circle cx="1940.8" cy="348.0" r="2.9" fill="#e3766b"/><circle cx="1940.3" cy="331.7" r="2.9" fill="#e3766b"/><circle cx="1937.8" cy="332.4" r="2.9" fill="#e3766b"/><circle cx="1951.3" cy="359.8" r="2.9" fill="#e3766b"/><circle cx="1942.5" cy="356.6" r="2.9" fill="#e3766b"/><circle cx="1940.5" cy="348.1" r="2.9" fill="#e3766b"/><circle cx="1927.7" cy="312.8" r="2.9" fill="#e3766b"/><circle cx="1933.2" cy="332.8" r="2.9" fill="#e3766b"/><circle cx="1918.8" cy="491.9" r="2.9" fill="#2aacb0"/><circle cx="1911.5" cy="471.9" r="2.9" fill="#2aacb0"/><circle cx="1948.6" cy="373.6" r="2.9" fill="#2aacb0"/><circle cx="1923.0" cy="469.6" r="2.9" fill="#2aacb0"/><circle cx="1917.8" cy="488.9" r="2.9" fill="#2aacb0"/><circle cx="1921.7" cy="477.7" r="2.9" fill="#2aacb0"/><circle cx="1922.2" cy="431.5" r="2.9" fill="#2aacb0"/><circle cx="1942.8" cy="393.3" r="2.9" fill="#2aacb0"/><circle cx="1930.2" cy="434.2" r="2.9" fill="#2aacb0"/><circle cx="1952.3" cy="370.6" r="2.9" fill="#2aacb0"/><circle cx="1935.9" cy="383.9" r="2.9" fill="#2aacb0"/><circle cx="1915.9" cy="456.3" r="2.9" fill="#2aacb0"/><circle cx="1937.6" cy="385.6" r="2.9" fill="#2aacb0"/><circle cx="1943.7" cy="379.4" r="2.9" fill="#2aacb0"/><circle cx="1924.8" cy="452.2" r="2.9" fill="#2aacb0"/><circle cx="1914.5" cy="484.8" r="2.9" fill="#2aacb0"/><circle cx="1919.8" cy="442.5" r="2.9" fill="#2aacb0"/><circle cx="1938.2" cy="375.7" r="2.9" fill="#2aacb0"/><circle cx="1924.6" cy="451.1" r="2.9" fill="#2aacb0"/><circle cx="1920.5" cy="474.9" r="2.9" fill="#2aacb0"/><circle cx="1911.2" cy="501.5" r="2.9" fill="#2aacb0"/><circle cx="1929.6" cy="412.2" r="2.9" fill="#2aacb0"/><circle cx="1934.5" cy="425.8" r="2.9" fill="#2aacb0"/><circle cx="1925.0" cy="468.3" r="2.9" fill="#2aacb0"/><circle cx="1920.0" cy="478.0" r="2.9" fill="#2aacb0"/><circle cx="1916.2" cy="450.3" r="2.9" fill="#2aacb0"/><circle cx="1922.5" cy="444.1" r="2.9" fill="#2aacb0"/><circle cx="1941.7" cy="408.7" r="2.9" fill="#2aacb0"/><circle cx="1952.9" cy="370.3" r="2.9" fill="#2aacb0"/><circle cx="1924.6" cy="449.1" r="2.9" fill="#2aacb0"/><circle cx="1922.1" cy="433.0" r="2.9" fill="#2aacb0"/><circle cx="1946.8" cy="383.2" r="2.9" fill="#2aacb0"/><circle cx="1928.7" cy="455.7" r="2.9" fill="#2aacb0"/><circle cx="1951.8" cy="365.1" r="2.9" fill="#2aacb0"/><circle cx="1946.4" cy="379.1" r="2.9" fill="#2aacb0"/><circle cx="1937.9" cy="394.1" r="2.9" fill="#2aacb0"/><circle cx="1928.6" cy="446.2" r="2.9" fill="#2aacb0"/><circle cx="1923.7" cy="450.0" r="2.9" fill="#2aacb0"/><circle cx="1937.4" cy="380.0" r="2.9" fill="#2aacb0"/><circle cx="1942.8" cy="398.6" r="2.9" fill="#2aacb0"/><circle cx="1943.3" cy="376.2" r="2.9" fill="#2aacb0"/><circle cx="1911.4" cy="484.0" r="2.9" fill="#2aacb0"/><circle cx="1934.8" cy="419.8" r="2.9" fill="#2aacb0"/><circle cx="1947.5" cy="364.8" r="2.9" fill="#2aacb0"/><circle cx="1927.7" cy="441.9" r="2.9" fill="#2aacb0"/><circle cx="1923.3" cy="453.2" r="2.9" fill="#2aacb0"/><circle cx="1910.4" cy="493.5" r="2.9" fill="#2aacb0"/><circle cx="1932.5" cy="396.0" r="2.9" fill="#2aacb0"/><circle cx="1947.3" cy="369.8" r="2.9" fill="#2aacb0"/><circle cx="1935.0" cy="420.5" r="2.9" fill="#2aacb0"/><circle cx="1943.4" cy="370.5" r="2.9" fill="#2aacb0"/><circle cx="1948.7" cy="365.4" r="2.9" fill="#2aacb0"/><circle cx="1918.5" cy="495.5" r="2.9" fill="#2aacb0"/><circle cx="1938.6" cy="390.6" r="2.9" fill="#2aacb0"/><circle cx="1925.8" cy="433.1" r="2.9" fill="#2aacb0"/><circle cx="1921.3" cy="477.3" r="2.9" fill="#2aacb0"/><circle cx="1937.9" cy="407.0" r="2.9" fill="#2aacb0"/><circle cx="1942.4" cy="368.6" r="2.9" fill="#2aacb0"/><circle cx="1914.6" cy="471.6" r="2.9" fill="#2aacb0"/><circle cx="1945.2" cy="363.1" r="2.9" fill="#2aacb0"/><circle cx="1919.3" cy="467.0" r="2.9" fill="#2aacb0"/><circle cx="1919.6" cy="466.6" r="2.9" fill="#2aacb0"/><circle cx="1944.2" cy="396.3" r="2.9" fill="#2aacb0"/><circle cx="1944.8" cy="397.5" r="2.9" fill="#2aacb0"/><circle cx="1930.8" cy="408.7" r="2.9" fill="#2aacb0"/><circle cx="1916.0" cy="458.6" r="2.9" fill="#2aacb0"/><circle cx="1923.2" cy="463.0" r="2.9" fill="#2aacb0"/><circle cx="1926.8" cy="440.4" r="2.9" fill="#2aacb0"/><circle cx="1917.1" cy="472.9" r="2.9" fill="#2aacb0"/><circle cx="1935.3" cy="399.5" r="2.9" fill="#2aacb0"/><circle cx="1916.8" cy="498.8" r="2.9" fill="#2aacb0"/><circle cx="1921.8" cy="487.2" r="2.9" fill="#2aacb0"/><circle cx="1940.9" cy="400.5" r="2.9" fill="#2aacb0"/><circle cx="1912.9" cy="465.1" r="2.9" fill="#2aacb0"/><circle cx="1921.1" cy="467.6" r="2.9" fill="#2aacb0"/><circle cx="1917.5" cy="486.4" r="2.9" fill="#2aacb0"/><circle cx="1932.9" cy="394.7" r="2.9" fill="#2aacb0"/><circle cx="1920.5" cy="450.2" r="2.9" fill="#2aacb0"/><circle cx="1915.3" cy="454.0" r="2.9" fill="#2aacb0"/><circle cx="1924.5" cy="427.2" r="2.9" fill="#2aacb0"/><circle cx="1915.8" cy="458.9" r="2.9" fill="#2aacb0"/><circle cx="1927.3" cy="423.1" r="2.9" fill="#2aacb0"/><circle cx="1927.9" cy="443.2" r="2.9" fill="#2aacb0"/><circle cx="1937.9" cy="392.2" r="2.9" fill="#2aacb0"/><circle cx="1940.6" cy="372.4" r="2.9" fill="#2aacb0"/><circle cx="1948.8" cy="385.9" r="2.9" fill="#2aacb0"/><circle cx="1938.9" cy="376.3" r="2.9" fill="#2aacb0"/><circle cx="1938.6" cy="412.3" r="2.9" fill="#2aacb0"/><circle cx="1954.5" cy="370.2" r="2.9" fill="#2aacb0"/><circle cx="1919.0" cy="459.1" r="2.9" fill="#2aacb0"/><circle cx="1918.3" cy="459.5" r="2.9" fill="#e3766b"/><circle cx="1945.8" cy="372.5" r="2.9" fill="#e3766b"/><circle cx="1930.0" cy="412.8" r="2.9" fill="#e3766b"/><circle cx="1912.8" cy="476.7" r="2.9" fill="#e3766b"/><circle cx="1943.2" cy="371.6" r="2.9" fill="#e3766b"/><circle cx="1909.8" cy="490.0" r="2.9" fill="#e3766b"/><circle cx="1947.2" cy="379.5" r="2.9" fill="#e3766b"/><circle cx="1948.6" cy="380.8" r="2.9" fill="#e3766b"/><circle cx="1912.9" cy="480.8" r="2.9" fill="#e3766b"/><circle cx="1919.8" cy="450.5" r="2.9" fill="#e3766b"/><circle cx="1925.1" cy="451.6" r="2.9" fill="#e3766b"/><circle cx="1948.6" cy="378.9" r="2.9" fill="#e3766b"/><circle cx="1921.2" cy="469.3" r="2.9" fill="#e3766b"/><circle cx="1935.5" cy="407.7" r="2.9" fill="#e3766b"/><circle cx="1951.2" cy="367.7" r="2.9" fill="#e3766b"/><circle cx="1934.4" cy="401.8" r="2.9" fill="#e3766b"/><circle cx="1934.6" cy="414.7" r="2.9" fill="#e3766b"/><circle cx="1912.9" cy="497.9" r="2.9" fill="#e3766b"/><circle cx="1914.7" cy="481.7" r="2.9" fill="#e3766b"/><circle cx="1949.2" cy="368.5" r="2.9" fill="#e3766b"/><circle cx="1927.7" cy="423.1" r="2.9" fill="#e3766b"/><circle cx="1931.7" cy="410.8" r="2.9" fill="#e3766b"/><circle cx="1929.3" cy="438.7" r="2.9" fill="#e3766b"/><circle cx="1919.6" cy="484.2" r="2.9" fill="#e3766b"/><circle cx="1919.9" cy="478.0" r="2.9" fill="#e3766b"/><circle cx="1952.7" cy="365.2" r="2.9" fill="#e3766b"/><circle cx="1913.6" cy="468.0" r="2.9" fill="#e3766b"/><circle cx="1949.9" cy="364.6" r="2.9" fill="#e3766b"/><circle cx="1925.4" cy="430.7" r="2.9" fill="#e3766b"/><circle cx="1940.8" cy="389.0" r="2.9" fill="#e3766b"/><circle cx="1930.4" cy="410.5" r="2.9" fill="#e3766b"/><circle cx="1933.2" cy="398.1" r="2.9" fill="#e3766b"/><circle cx="1939.1" cy="403.5" r="2.9" fill="#e3766b"/><circle cx="1920.6" cy="460.5" r="2.9" fill="#e3766b"/><circle cx="1943.1" cy="378.3" r="2.9" fill="#e3766b"/><circle cx="1943.2" cy="373.9" r="2.9" fill="#e3766b"/><circle cx="1917.8" cy="459.4" r="2.9" fill="#e3766b"/><circle cx="1924.6" cy="450.9" r="2.9" fill="#e3766b"/><circle cx="1932.6" cy="419.2" r="2.9" fill="#e3766b"/><circle cx="1918.9" cy="488.2" r="2.9" fill="#e3766b"/><circle cx="1919.6" cy="488.0" r="2.9" fill="#e3766b"/><circle cx="1942.0" cy="392.7" r="2.9" fill="#e3766b"/><circle cx="1914.5" cy="489.0" r="2.9" fill="#e3766b"/><circle cx="1928.7" cy="414.8" r="2.9" fill="#e3766b"/><circle cx="1938.9" cy="395.8" r="2.9" fill="#e3766b"/><circle cx="1924.3" cy="436.4" r="2.9" fill="#e3766b"/><circle cx="1917.1" cy="467.6" r="2.9" fill="#e3766b"/><circle cx="1935.3" cy="412.0" r="2.9" fill="#e3766b"/><circle cx="1938.8" cy="383.7" r="2.9" fill="#e3766b"/><circle cx="1919.6" cy="454.7" r="2.9" fill="#e3766b"/><circle cx="1942.0" cy="387.1" r="2.9" fill="#e3766b"/><circle cx="1917.1" cy="470.7" r="2.9" fill="#e3766b"/><circle cx="1943.9" cy="381.1" r="2.9" fill="#e3766b"/><circle cx="1917.5" cy="487.2" r="2.9" fill="#e3766b"/><circle cx="1942.3" cy="390.5" r="2.9" fill="#e3766b"/><circle cx="1917.1" cy="460.1" r="2.9" fill="#e3766b"/><circle cx="1945.3" cy="386.1" r="2.9" fill="#e3766b"/><circle cx="1939.6" cy="398.2" r="2.9" fill="#e3766b"/><circle cx="1930.4" cy="436.6" r="2.9" fill="#e3766b"/><circle cx="1937.4" cy="409.7" r="2.9" fill="#e3766b"/><circle cx="1910.4" cy="499.1" r="2.9" fill="#e3766b"/><circle cx="1940.4" cy="376.1" r="2.9" fill="#e3766b"/><circle cx="1945.9" cy="378.1" r="2.9" fill="#e3766b"/><circle cx="1909.5" cy="500.2" r="2.9" fill="#e3766b"/><circle cx="1919.9" cy="465.4" r="2.9" fill="#e3766b"/><circle cx="1938.9" cy="390.2" r="2.9" fill="#e3766b"/><circle cx="1947.3" cy="379.5" r="2.9" fill="#e3766b"/><circle cx="1936.6" cy="418.3" r="2.9" fill="#e3766b"/><circle cx="1928.9" cy="417.8" r="2.9" fill="#e3766b"/><circle cx="1920.8" cy="459.6" r="2.9" fill="#e3766b"/><circle cx="2067.5" cy="369.7" r="2.9" fill="#e3766b"/><circle cx="1984.2" cy="355.1" r="2.9" fill="#e3766b"/><circle cx="2028.1" cy="364.5" r="2.9" fill="#e3766b"/><circle cx="2114.6" cy="378.6" r="2.9" fill="#e3766b"/><circle cx="2056.5" cy="371.8" r="2.9" fill="#e3766b"/><circle cx="2032.8" cy="357.3" r="2.9" fill="#e3766b"/><circle cx="2081.4" cy="379.9" r="2.9" fill="#e3766b"/><circle cx="2090.8" cy="378.7" r="2.9" fill="#e3766b"/><circle cx="2104.2" cy="381.0" r="2.9" fill="#e3766b"/><circle cx="2069.1" cy="370.0" r="2.9" fill="#e3766b"/><circle cx="2013.0" cy="359.1" r="2.9" fill="#e3766b"/><circle cx="1976.4" cy="352.8" r="2.9" fill="#e3766b"/><circle cx="2092.2" cy="379.2" r="2.9" fill="#e3766b"/><circle cx="2067.9" cy="366.2" r="2.9" fill="#e3766b"/><circle cx="2032.3" cy="360.8" r="2.9" fill="#e3766b"/><circle cx="2065.9" cy="368.4" r="2.9" fill="#e3766b"/><circle cx="2073.2" cy="379.0" r="2.9" fill="#e3766b"/><circle cx="1991.4" cy="355.5" r="2.9" fill="#e3766b"/><circle cx="2092.6" cy="373.6" r="2.9" fill="#e3766b"/><circle cx="2041.5" cy="371.7" r="2.9" fill="#e3766b"/><circle cx="1966.6" cy="356.9" r="2.9" fill="#e3766b"/><circle cx="1987.6" cy="357.6" r="2.9" fill="#e3766b"/><circle cx="2119.8" cy="381.3" r="2.9" fill="#e3766b"/><circle cx="1977.1" cy="355.0" r="2.9" fill="#e3766b"/><circle cx="2051.1" cy="369.9" r="2.9" fill="#e3766b"/><circle cx="2046.5" cy="367.5" r="2.9" fill="#e3766b"/><circle cx="2100.8" cy="377.5" r="2.9" fill="#e3766b"/><circle cx="2028.3" cy="367.9" r="2.9" fill="#e3766b"/><circle cx="1995.3" cy="355.9" r="2.9" fill="#e3766b"/><circle cx="2026.0" cy="364.3" r="2.9" fill="#e3766b"/><circle cx="1981.1" cy="360.8" r="2.9" fill="#e3766b"/><circle cx="2022.1" cy="352.1" r="2.9" fill="#e3766b"/><circle cx="2007.2" cy="354.2" r="2.9" fill="#e3766b"/><circle cx="1961.9" cy="356.3" r="2.9" fill="#e3766b"/><circle cx="2030.9" cy="364.5" r="2.9" fill="#e3766b"/><circle cx="2020.8" cy="355.2" r="2.9" fill="#e3766b"/><circle cx="1997.6" cy="357.3" r="2.9" fill="#e3766b"/><circle cx="2119.7" cy="381.4" r="2.9" fill="#e3766b"/><circle cx="1996.4" cy="358.0" r="2.9" fill="#e3766b"/><circle cx="2027.8" cy="355.8" r="2.9" fill="#e3766b"/><circle cx="1982.2" cy="357.7" r="2.9" fill="#e3766b"/><circle cx="2097.1" cy="378.8" r="2.9" fill="#e3766b"/><circle cx="2039.6" cy="364.4" r="2.9" fill="#e3766b"/><circle cx="1997.1" cy="360.7" r="2.9" fill="#e3766b"/><circle cx="2019.7" cy="360.9" r="2.9" fill="#e3766b"/><circle cx="2098.0" cy="382.2" r="2.9" fill="#e3766b"/><circle cx="2040.4" cy="360.2" r="2.9" fill="#e3766b"/><circle cx="2054.6" cy="360.9" r="2.9" fill="#e3766b"/><circle cx="2102.2" cy="374.8" r="2.9" fill="#e3766b"/><circle cx="2105.3" cy="373.9" r="2.9" fill="#e3766b"/><circle cx="2025.0" cy="355.9" r="2.9" fill="#e3766b"/><circle cx="2033.8" cy="356.8" r="2.9" fill="#e3766b"/><circle cx="1961.3" cy="360.9" r="2.9" fill="#e3766b"/><circle cx="2008.9" cy="352.2" r="2.9" fill="#e3766b"/><circle cx="2011.6" cy="356.5" r="2.9" fill="#e3766b"/><circle cx="2032.4" cy="363.9" r="2.9" fill="#e3766b"/><circle cx="2072.4" cy="369.1" r="2.9" fill="#e3766b"/><circle cx="2116.6" cy="386.7" r="2.9" fill="#e3766b"/><circle cx="1970.8" cy="360.0" r="2.9" fill="#e3766b"/><circle cx="2113.0" cy="384.7" r="2.9" fill="#e3766b"/><circle cx="1984.1" cy="358.4" r="2.9" fill="#e3766b"/><circle cx="2069.4" cy="362.5" r="2.9" fill="#e3766b"/><circle cx="1963.6" cy="363.7" r="2.9" fill="#e3766b"/><circle cx="2072.2" cy="367.2" r="2.9" fill="#e3766b"/><circle cx="1976.9" cy="348.7" r="2.9" fill="#e3766b"/><circle cx="1999.0" cy="358.2" r="2.9" fill="#e3766b"/><circle cx="2020.3" cy="353.2" r="2.9" fill="#e3766b"/><circle cx="2112.6" cy="384.8" r="2.9" fill="#e3766b"/><circle cx="1988.9" cy="359.1" r="2.9" fill="#e3766b"/><circle cx="2062.2" cy="373.8" r="2.9" fill="#e3766b"/><circle cx="2072.2" cy="378.2" r="2.9" fill="#e3766b"/><circle cx="2092.7" cy="381.5" r="2.9" fill="#e3766b"/><circle cx="1993.9" cy="355.9" r="2.9" fill="#e3766b"/><circle cx="2049.3" cy="369.9" r="2.9" fill="#e3766b"/><circle cx="2033.2" cy="368.1" r="2.9" fill="#e3766b"/><circle cx="2055.2" cy="363.3" r="2.9" fill="#e3766b"/><circle cx="2001.3" cy="348.8" r="2.9" fill="#e3766b"/><circle cx="2045.6" cy="357.6" r="2.9" fill="#e3766b"/><circle cx="2040.9" cy="357.8" r="2.9" fill="#e3766b"/><circle cx="2043.6" cy="364.4" r="2.9" fill="#e3766b"/><circle cx="2050.3" cy="372.2" r="2.9" fill="#e3766b"/><circle cx="1962.4" cy="362.4" r="2.9" fill="#e3766b"/><circle cx="2039.4" cy="364.4" r="2.9" fill="#e3766b"/><circle cx="2071.8" cy="377.2" r="2.9" fill="#e3766b"/><circle cx="2024.2" cy="358.4" r="2.9" fill="#e3766b"/><circle cx="2124.8" cy="374.2" r="2.9" fill="#e3766b"/><circle cx="2067.6" cy="372.7" r="2.9" fill="#e3766b"/><circle cx="1965.2" cy="358.2" r="2.9" fill="#e3766b"/><circle cx="2074.5" cy="379.3" r="2.9" fill="#e3766b"/><circle cx="2014.7" cy="365.2" r="2.9" fill="#e3766b"/><circle cx="2046.9" cy="365.0" r="2.9" fill="#e3766b"/><circle cx="2114.1" cy="371.4" r="2.9" fill="#e3766b"/><circle cx="2081.5" cy="375.5" r="2.9" fill="#e3766b"/><circle cx="2016.5" cy="363.7" r="2.9" fill="#e3766b"/><circle cx="2022.5" cy="358.9" r="2.9" fill="#e3766b"/><circle cx="2048.3" cy="370.1" r="2.9" fill="#e3766b"/><circle cx="1996.3" cy="352.3" r="2.9" fill="#e3766b"/><circle cx="2031.7" cy="362.3" r="2.9" fill="#e3766b"/><circle cx="2101.2" cy="373.6" r="2.9" fill="#e3766b"/><circle cx="2101.0" cy="375.5" r="2.9" fill="#e3766b"/><circle cx="2046.5" cy="361.3" r="2.9" fill="#e3766b"/><circle cx="2044.2" cy="372.5" r="2.9" fill="#e3766b"/><circle cx="2070.1" cy="376.0" r="2.9" fill="#e3766b"/><circle cx="2017.1" cy="355.1" r="2.9" fill="#e3766b"/><circle cx="2010.8" cy="358.0" r="2.9" fill="#e3766b"/><circle cx="2066.6" cy="375.0" r="2.9" fill="#e3766b"/><circle cx="1967.6" cy="359.3" r="2.9" fill="#e3766b"/><circle cx="2110.3" cy="379.9" r="2.9" fill="#e3766b"/><circle cx="1967.6" cy="353.0" r="2.9" fill="#e3766b"/><circle cx="1959.9" cy="353.4" r="2.9" fill="#e3766b"/><circle cx="2116.2" cy="382.2" r="2.9" fill="#e3766b"/><circle cx="2070.7" cy="376.1" r="2.9" fill="#e3766b"/><circle cx="2114.2" cy="381.9" r="2.9" fill="#e3766b"/><circle cx="2064.2" cy="371.7" r="2.9" fill="#e3766b"/><circle cx="2077.9" cy="374.2" r="2.9" fill="#e3766b"/><circle cx="2076.6" cy="367.4" r="2.9" fill="#e3766b"/><circle cx="2073.4" cy="371.0" r="2.9" fill="#e3766b"/><circle cx="2090.9" cy="368.2" r="2.9" fill="#e3766b"/><circle cx="1990.6" cy="346.3" r="2.9" fill="#e3766b"/><circle cx="2090.2" cy="382.3" r="2.9" fill="#e3766b"/><circle cx="1963" cy="370" r="2.8" fill="#2aacb0"/><circle cx="1972" cy="368" r="2.8" fill="#2aacb0"/><circle cx="1986" cy="366" r="2.8" fill="#2aacb0"/><circle cx="1996" cy="369" r="2.8" fill="#2aacb0"/><circle cx="2007" cy="371" r="2.8" fill="#2aacb0"/><circle cx="2011" cy="366" r="2.8" fill="#2aacb0"/><circle cx="2020" cy="373" r="2.8" fill="#2aacb0"/><circle cx="2032" cy="374" r="2.8" fill="#2aacb0"/><circle cx="2038" cy="371" r="2.8" fill="#2aacb0"/><circle cx="2050" cy="382" r="2.8" fill="#2aacb0"/><circle cx="2056" cy="386" r="2.8" fill="#2aacb0"/><circle cx="2062" cy="382" r="2.8" fill="#2aacb0"/><circle cx="2071" cy="380" r="2.8" fill="#2aacb0"/><circle cx="2086" cy="377" r="2.8" fill="#2aacb0"/><circle cx="2093" cy="385" r="2.8" fill="#2aacb0"/><circle cx="2110" cy="392" r="2.8" fill="#2aacb0"/><circle cx="2122" cy="396" r="2.8" fill="#2aacb0"/><circle cx="2078" cy="406" r="2.8" fill="#2aacb0"/><circle cx="2064" cy="394" r="2.8" fill="#2aacb0"/><circle cx="2040" cy="387" r="2.8" fill="#2aacb0"/><circle cx="2030" cy="385" r="2.8" fill="#2aacb0"/><circle cx="2000" cy="378" r="2.8" fill="#2aacb0"/><circle cx="1995" cy="371" r="2.8" fill="#2aacb0"/><circle cx="2012" cy="387" r="2.8" fill="#e3766b"/><circle cx="2031" cy="383" r="2.8" fill="#e3766b"/><circle cx="2059" cy="390" r="2.8" fill="#e3766b"/><circle cx="2080" cy="390" r="2.8" fill="#e3766b"/><circle cx="2100" cy="392" r="2.8" fill="#e3766b"/><circle cx="2118" cy="395" r="2.8" fill="#e3766b"/><circle cx="2085" cy="395" r="2.8" fill="#e3766b"/><path d="M1950 364 L1975 360 L2002 362" stroke="#111" stroke-width="2.5" fill="none"/><path d="M1950 364 L1943 335" stroke="#111" stroke-width="2" fill="none"/><path d="M1950 364 L1931 445" stroke="#222" stroke-width="1.3" fill="none" opacity="0.7"/><circle cx="1950.3" cy="363.7" r="4.2" fill="#555" stroke="#000" stroke-width="2.6"/></g>
<g filter="url(#rough)"><path d="M2185.0 300.0 C2189.8 295.0 2199.8 289.5 2208.6 288.0 C2217.4 286.5 2230.0 287.0 2237.7 291.0 C2245.4 295.0 2251.8 304.7 2255.0 312.0 C2258.2 319.3 2257.8 324.5 2257.0 335.0 C2256.2 345.5 2253.2 364.5 2250.0 375.0 C2246.8 385.5 2243.8 393.8 2238.0 398.0 C2232.2 402.2 2220.8 400.3 2215.0 400.0 C2209.2 399.7 2207.8 400.7 2203.0 396.0 C2198.2 391.3 2190.4 381.3 2186.0 372.0 C2181.6 362.7 2177.7 349.0 2176.7 340.0 C2175.7 331.0 2178.6 324.7 2180.0 318.0 C2181.4 311.3 2180.2 305.0 2185.0 300.0Z" fill="#bdbdbd" /><path d="M2232.0 298.0 C2236.0 294.7 2250.7 299.7 2262.0 300.0 C2273.3 300.3 2287.3 301.7 2300.0 300.0 C2312.7 298.3 2329.7 288.3 2338.0 290.0 C2346.3 291.7 2344.9 307.5 2349.7 310.4 C2354.5 313.3 2361.4 308.9 2366.6 307.5 C2371.8 306.1 2375.5 302.0 2380.7 302.0 C2385.8 302.0 2393.8 303.8 2397.5 307.5 C2401.2 311.2 2399.2 319.7 2403.0 324.4 C2406.8 329.1 2414.3 331.9 2420.0 335.7 C2425.7 339.5 2432.3 342.3 2437.0 347.0 C2441.7 351.7 2444.7 359.1 2448.0 363.8 C2451.3 368.5 2455.7 370.3 2456.7 375.0 C2457.7 379.7 2456.2 387.8 2453.8 392.0 C2451.5 396.2 2446.6 397.0 2442.6 400.0 C2438.6 403.0 2437.1 408.0 2430.0 410.0 C2422.9 412.0 2408.3 413.0 2400.0 412.0 C2391.7 411.0 2388.3 404.3 2380.0 404.0 C2371.7 403.7 2359.2 408.0 2350.0 410.0 C2340.8 412.0 2333.1 414.1 2325.0 416.0 C2316.9 417.9 2311.3 419.8 2301.6 421.7 C2291.9 423.6 2276.7 427.6 2267.0 427.6 C2257.3 427.6 2248.3 426.6 2243.5 421.7 C2238.7 416.8 2239.2 405.3 2238.0 398.4 C2236.8 391.4 2236.2 388.1 2236.0 380.0 C2235.8 371.9 2236.7 360.0 2237.0 350.0 C2237.3 340.0 2238.8 328.7 2238.0 320.0 C2237.2 311.3 2228.0 301.3 2232.0 298.0Z" fill="#5fc8ec" /><g clip-path="url(#cgrey2)"><rect x="2241.5" y="324.5" width="2.6" height="2.6" fill="#5fc8ec"/><rect x="2249.0" y="357.9" width="2.6" height="2.6" fill="#5fc8ec"/><rect x="2237.3" y="315.6" width="2.6" height="2.6" fill="#5fc8ec"/><rect x="2225.6" y="328.7" width="2.6" height="2.6" fill="#5fc8ec"/><rect x="2226.3" y="329.5" width="2.6" height="2.6" fill="#5fc8ec"/><rect x="2240.9" y="369.7" width="2.6" height="2.6" fill="#5fc8ec"/><rect x="2214.5" y="340.4" width="2.6" height="2.6" fill="#5fc8ec"/><rect x="2213.8" y="304.5" width="2.6" height="2.6" fill="#5fc8ec"/><rect x="2248.5" y="341.0" width="2.6" height="2.6" fill="#5fc8ec"/><rect x="2253.3" y="330.7" width="2.6" height="2.6" fill="#5fc8ec"/><rect x="2212.6" y="326.0" width="2.6" height="2.6" fill="#5fc8ec"/><rect x="2238.6" y="370.0" width="2.6" height="2.6" fill="#5fc8ec"/><rect x="2256.1" y="333.0" width="2.6" height="2.6" fill="#5fc8ec"/><rect x="2230.6" y="303.2" width="2.6" height="2.6" fill="#5fc8ec"/><rect x="2241.0" y="312.0" width="2.6" height="2.6" fill="#5fc8ec"/><rect x="2218.8" y="296.2" width="2.6" height="2.6" fill="#5fc8ec"/><rect x="2212.2" y="349.7" width="2.6" height="2.6" fill="#5fc8ec"/><rect x="2217.5" y="372.3" width="2.6" height="2.6" fill="#5fc8ec"/><rect x="2216.0" y="364.6" width="2.6" height="2.6" fill="#5fc8ec"/><rect x="2217.8" y="296.4" width="2.6" height="2.6" fill="#5fc8ec"/><rect x="2244.4" y="314.4" width="2.6" height="2.6" fill="#5fc8ec"/><rect x="2245.0" y="310.0" width="2.6" height="2.6" fill="#5fc8ec"/><rect x="2214.3" y="356.9" width="2.6" height="2.6" fill="#5fc8ec"/><rect x="2244.1" y="363.4" width="2.6" height="2.6" fill="#5fc8ec"/><rect x="2244.8" y="301.7" width="2.6" height="2.6" fill="#5fc8ec"/><rect x="2240.3" y="351.7" width="2.6" height="2.6" fill="#5fc8ec"/><rect x="2232.7" y="369.6" width="2.6" height="2.6" fill="#5fc8ec"/><rect x="2223.4" y="372.1" width="2.6" height="2.6" fill="#5fc8ec"/><rect x="2244.3" y="295.9" width="2.6" height="2.6" fill="#5fc8ec"/><rect x="2212.7" y="347.1" width="2.6" height="2.6" fill="#5fc8ec"/><rect x="2248.8" y="301.4" width="2.6" height="2.6" fill="#5fc8ec"/><rect x="2226.0" y="353.4" width="2.6" height="2.6" fill="#5fc8ec"/><rect x="2219.5" y="363.9" width="2.6" height="2.6" fill="#5fc8ec"/><rect x="2233.9" y="299.8" width="2.6" height="2.6" fill="#5fc8ec"/><rect x="2228.5" y="341.0" width="2.6" height="2.6" fill="#5fc8ec"/><rect x="2231.7" y="349.2" width="2.6" height="2.6" fill="#5fc8ec"/><rect x="2218.5" y="358.8" width="2.6" height="2.6" fill="#5fc8ec"/><rect x="2228.3" y="346.6" width="2.6" height="2.6" fill="#5fc8ec"/><rect x="2240.3" y="328.4" width="2.6" height="2.6" fill="#5fc8ec"/><rect x="2229.4" y="357.9" width="2.6" height="2.6" fill="#5fc8ec"/><rect x="2254.5" y="357.8" width="2.6" height="2.6" fill="#5fc8ec"/><rect x="2237.5" y="318.4" width="2.6" height="2.6" fill="#5fc8ec"/><rect x="2214.7" y="372.9" width="2.6" height="2.6" fill="#5fc8ec"/><rect x="2243.6" y="361.2" width="2.6" height="2.6" fill="#5fc8ec"/><rect x="2226.9" y="343.5" width="2.6" height="2.6" fill="#5fc8ec"/><rect x="2256.0" y="361.5" width="2.6" height="2.6" fill="#5fc8ec"/><rect x="2239.1" y="319.7" width="2.6" height="2.6" fill="#5fc8ec"/><rect x="2231.3" y="366.0" width="2.6" height="2.6" fill="#5fc8ec"/><rect x="2229.0" y="349.8" width="2.6" height="2.6" fill="#5fc8ec"/><rect x="2239.1" y="366.7" width="2.6" height="2.6" fill="#5fc8ec"/><rect x="2248.3" y="317.7" width="2.6" height="2.6" fill="#5fc8ec"/><rect x="2212.1" y="316.0" width="2.6" height="2.6" fill="#5fc8ec"/><rect x="2231.0" y="341.9" width="2.6" height="2.6" fill="#5fc8ec"/><rect x="2248.7" y="366.0" width="2.6" height="2.6" fill="#5fc8ec"/><rect x="2213.9" y="361.7" width="2.6" height="2.6" fill="#5fc8ec"/><rect x="2248.5" y="364.4" width="2.6" height="2.6" fill="#5fc8ec"/><rect x="2237.7" y="316.9" width="2.6" height="2.6" fill="#5fc8ec"/><rect x="2250.3" y="359.6" width="2.6" height="2.6" fill="#5fc8ec"/><rect x="2242.8" y="368.1" width="2.6" height="2.6" fill="#5fc8ec"/><rect x="2227.6" y="301.8" width="2.6" height="2.6" fill="#5fc8ec"/><rect x="2236.9" y="358.8" width="2.6" height="2.6" fill="#5fc8ec"/><rect x="2221.0" y="355.0" width="2.6" height="2.6" fill="#5fc8ec"/><rect x="2253.9" y="313.7" width="2.6" height="2.6" fill="#5fc8ec"/><rect x="2239.3" y="349.2" width="2.6" height="2.6" fill="#5fc8ec"/><rect x="2232.9" y="311.5" width="2.6" height="2.6" fill="#5fc8ec"/><rect x="2223.5" y="355.1" width="2.6" height="2.6" fill="#5fc8ec"/><rect x="2247.6" y="331.8" width="2.6" height="2.6" fill="#5fc8ec"/><rect x="2215.9" y="359.5" width="2.6" height="2.6" fill="#5fc8ec"/><rect x="2246.7" y="313.6" width="2.6" height="2.6" fill="#5fc8ec"/><rect x="2238.1" y="366.8" width="2.6" height="2.6" fill="#5fc8ec"/><rect x="2251.8" y="336.7" width="2.6" height="2.6" fill="#5fc8ec"/><rect x="2233.4" y="342.1" width="2.6" height="2.6" fill="#5fc8ec"/><rect x="2220.5" y="310.4" width="2.6" height="2.6" fill="#5fc8ec"/><rect x="2220.1" y="351.1" width="2.6" height="2.6" fill="#5fc8ec"/><rect x="2228.3" y="340.2" width="2.6" height="2.6" fill="#5fc8ec"/><rect x="2230.1" y="336.4" width="2.6" height="2.6" fill="#5fc8ec"/><rect x="2218.7" y="298.6" width="2.6" height="2.6" fill="#5fc8ec"/><rect x="2256.9" y="324.9" width="2.6" height="2.6" fill="#5fc8ec"/><rect x="2216.8" y="345.6" width="2.6" height="2.6" fill="#5fc8ec"/><rect x="2247.4" y="307.5" width="2.6" height="2.6" fill="#5fc8ec"/><rect x="2238.9" y="322.6" width="2.6" height="2.6" fill="#5fc8ec"/><rect x="2235.4" y="296.6" width="2.6" height="2.6" fill="#5fc8ec"/><rect x="2213.5" y="374.2" width="2.6" height="2.6" fill="#5fc8ec"/><rect x="2251.0" y="333.9" width="2.6" height="2.6" fill="#5fc8ec"/><rect x="2237.5" y="315.9" width="2.6" height="2.6" fill="#5fc8ec"/><rect x="2247.1" y="329.1" width="2.6" height="2.6" fill="#5fc8ec"/><rect x="2254.6" y="356.4" width="2.6" height="2.6" fill="#5fc8ec"/><rect x="2248.8" y="372.1" width="2.6" height="2.6" fill="#5fc8ec"/><rect x="2223.4" y="298.0" width="2.6" height="2.6" fill="#5fc8ec"/><rect x="2221.0" y="309.5" width="2.6" height="2.6" fill="#5fc8ec"/></g><path d="M2229.0 254.0 C2228.6 250.5 2229.2 245.6 2232.0 244.2 C2234.8 242.8 2240.8 243.0 2246.0 245.6 C2251.2 248.2 2257.7 256.0 2262.9 259.7 C2268.1 263.4 2272.8 264.7 2277.0 268.0 C2281.2 271.3 2283.3 279.4 2288.0 279.4 C2292.7 279.4 2298.4 269.4 2305.0 268.0 C2311.6 266.6 2322.0 270.0 2327.6 271.0 C2333.2 272.0 2335.7 271.0 2338.4 273.8 C2341.1 276.6 2342.4 282.6 2344.0 287.8 C2345.6 293.0 2350.3 301.3 2348.0 305.0 C2345.7 308.7 2337.7 308.0 2330.0 310.0 C2322.3 312.0 2308.3 314.3 2301.6 317.0 C2294.9 319.7 2293.9 322.2 2290.0 326.0 C2286.1 329.8 2281.7 334.7 2278.0 340.0 C2274.3 345.3 2270.8 352.2 2268.0 358.0 C2265.2 363.8 2263.2 368.8 2261.0 375.0 C2258.8 381.2 2257.5 392.5 2255.0 395.0 C2252.5 397.5 2247.8 395.8 2246.0 390.0 C2244.2 384.2 2245.0 370.0 2244.0 360.0 C2243.0 350.0 2241.7 340.0 2240.0 330.0 C2238.3 320.0 2235.3 308.3 2234.0 300.0 C2232.7 291.7 2231.9 285.8 2232.0 280.0 C2232.1 274.2 2235.2 269.6 2234.7 265.3 C2234.2 261.0 2229.4 257.5 2229.0 254.0Z" fill="#4678ad" /><g clip-path="url(#cdb2)"><rect x="2241.6" y="257.6" width="2.4" height="2.4" fill="#5fc8ec"/><rect x="2296.1" y="380.6" width="2.4" height="2.4" fill="#5fc8ec"/><rect x="2284.7" y="392.1" width="2.4" height="2.4" fill="#5fc8ec"/><rect x="2336.6" y="259.6" width="2.4" height="2.4" fill="#5fc8ec"/><rect x="2300.8" y="309.6" width="2.4" height="2.4" fill="#5fc8ec"/><rect x="2245.8" y="393.9" width="2.4" height="2.4" fill="#5fc8ec"/><rect x="2261.6" y="334.7" width="2.4" height="2.4" fill="#5fc8ec"/><rect x="2305.7" y="393.5" width="2.4" height="2.4" fill="#5fc8ec"/><rect x="2309.0" y="309.0" width="2.4" height="2.4" fill="#5fc8ec"/><rect x="2283.6" y="274.0" width="2.4" height="2.4" fill="#5fc8ec"/><rect x="2343.1" y="398.8" width="2.4" height="2.4" fill="#5fc8ec"/><rect x="2257.5" y="255.8" width="2.4" height="2.4" fill="#5fc8ec"/><rect x="2261.4" y="302.8" width="2.4" height="2.4" fill="#5fc8ec"/><rect x="2335.8" y="385.7" width="2.4" height="2.4" fill="#5fc8ec"/><rect x="2328.3" y="257.1" width="2.4" height="2.4" fill="#5fc8ec"/><rect x="2322.4" y="356.4" width="2.4" height="2.4" fill="#5fc8ec"/><rect x="2306.4" y="397.8" width="2.4" height="2.4" fill="#5fc8ec"/><rect x="2238.4" y="271.7" width="2.4" height="2.4" fill="#5fc8ec"/><rect x="2318.8" y="390.9" width="2.4" height="2.4" fill="#5fc8ec"/><rect x="2309.8" y="294.8" width="2.4" height="2.4" fill="#5fc8ec"/><rect x="2300.0" y="363.7" width="2.4" height="2.4" fill="#5fc8ec"/><rect x="2244.1" y="298.6" width="2.4" height="2.4" fill="#5fc8ec"/><rect x="2261.6" y="268.6" width="2.4" height="2.4" fill="#5fc8ec"/><rect x="2287.4" y="275.3" width="2.4" height="2.4" fill="#5fc8ec"/><rect x="2259.4" y="271.5" width="2.4" height="2.4" fill="#5fc8ec"/><rect x="2309.9" y="251.9" width="2.4" height="2.4" fill="#5fc8ec"/><rect x="2314.5" y="279.3" width="2.4" height="2.4" fill="#5fc8ec"/><rect x="2236.1" y="389.2" width="2.4" height="2.4" fill="#5fc8ec"/><rect x="2257.4" y="390.1" width="2.4" height="2.4" fill="#5fc8ec"/><rect x="2331.7" y="383.3" width="2.4" height="2.4" fill="#5fc8ec"/><rect x="2248.1" y="317.1" width="2.4" height="2.4" fill="#5fc8ec"/><rect x="2243.2" y="389.3" width="2.4" height="2.4" fill="#5fc8ec"/><rect x="2328.9" y="344.3" width="2.4" height="2.4" fill="#5fc8ec"/><rect x="2284.0" y="301.0" width="2.4" height="2.4" fill="#5fc8ec"/><rect x="2326.7" y="321.6" width="2.4" height="2.4" fill="#5fc8ec"/><rect x="2304.2" y="271.4" width="2.4" height="2.4" fill="#5fc8ec"/><rect x="2257.5" y="258.5" width="2.4" height="2.4" fill="#5fc8ec"/><rect x="2314.1" y="333.0" width="2.4" height="2.4" fill="#5fc8ec"/><rect x="2248.6" y="380.6" width="2.4" height="2.4" fill="#5fc8ec"/><rect x="2262.6" y="311.8" width="2.4" height="2.4" fill="#5fc8ec"/><rect x="2249.9" y="290.7" width="2.4" height="2.4" fill="#5fc8ec"/><rect x="2328.5" y="300.2" width="2.4" height="2.4" fill="#5fc8ec"/><rect x="2251.3" y="323.7" width="2.4" height="2.4" fill="#5fc8ec"/><rect x="2268.6" y="385.5" width="2.4" height="2.4" fill="#5fc8ec"/><rect x="2245.1" y="396.8" width="2.4" height="2.4" fill="#5fc8ec"/><rect x="2238.5" y="384.3" width="2.4" height="2.4" fill="#5fc8ec"/><rect x="2308.9" y="281.7" width="2.4" height="2.4" fill="#5fc8ec"/><rect x="2286.9" y="292.9" width="2.4" height="2.4" fill="#5fc8ec"/><rect x="2261.6" y="280.2" width="2.4" height="2.4" fill="#5fc8ec"/><rect x="2273.9" y="398.7" width="2.4" height="2.4" fill="#5fc8ec"/><rect x="2346.8" y="388.8" width="2.4" height="2.4" fill="#5fc8ec"/><rect x="2243.2" y="293.4" width="2.4" height="2.4" fill="#5fc8ec"/><rect x="2335.1" y="258.6" width="2.4" height="2.4" fill="#5fc8ec"/><rect x="2315.5" y="294.0" width="2.4" height="2.4" fill="#5fc8ec"/><rect x="2344.5" y="252.4" width="2.4" height="2.4" fill="#5fc8ec"/><rect x="2324.8" y="301.1" width="2.4" height="2.4" fill="#5fc8ec"/><rect x="2248.1" y="250.3" width="2.4" height="2.4" fill="#5fc8ec"/><rect x="2327.7" y="329.0" width="2.4" height="2.4" fill="#5fc8ec"/><rect x="2253.4" y="315.3" width="2.4" height="2.4" fill="#5fc8ec"/><rect x="2336.9" y="282.7" width="2.4" height="2.4" fill="#5fc8ec"/><rect x="2297.7" y="270.7" width="2.4" height="2.4" fill="#5fc8ec"/><rect x="2252.7" y="365.6" width="2.4" height="2.4" fill="#5fc8ec"/><rect x="2313.8" y="279.5" width="2.4" height="2.4" fill="#5fc8ec"/><rect x="2241.1" y="263.1" width="2.4" height="2.4" fill="#5fc8ec"/><rect x="2302.0" y="324.3" width="2.4" height="2.4" fill="#5fc8ec"/><rect x="2263.5" y="280.9" width="2.4" height="2.4" fill="#5fc8ec"/><rect x="2302.4" y="356.2" width="2.4" height="2.4" fill="#5fc8ec"/><rect x="2325.3" y="337.4" width="2.4" height="2.4" fill="#5fc8ec"/><rect x="2255.3" y="259.9" width="2.4" height="2.4" fill="#5fc8ec"/><rect x="2316.3" y="311.2" width="2.4" height="2.4" fill="#5fc8ec"/><rect x="2315.0" y="258.3" width="2.4" height="2.4" fill="#5fc8ec"/><rect x="2325.2" y="300.3" width="2.4" height="2.4" fill="#5fc8ec"/><rect x="2328.8" y="379.7" width="2.4" height="2.4" fill="#5fc8ec"/><rect x="2288.7" y="252.3" width="2.4" height="2.4" fill="#5fc8ec"/><rect x="2336.7" y="321.5" width="2.4" height="2.4" fill="#5fc8ec"/><rect x="2332.3" y="289.9" width="2.4" height="2.4" fill="#5fc8ec"/><rect x="2253.4" y="374.7" width="2.4" height="2.4" fill="#5fc8ec"/><rect x="2274.2" y="274.5" width="2.4" height="2.4" fill="#5fc8ec"/><rect x="2274.7" y="339.2" width="2.4" height="2.4" fill="#5fc8ec"/><rect x="2232.5" y="328.0" width="2.4" height="2.4" fill="#5fc8ec"/><rect x="2283.3" y="327.3" width="2.4" height="2.4" fill="#5fc8ec"/><rect x="2245.9" y="357.2" width="2.4" height="2.4" fill="#5fc8ec"/><rect x="2325.9" y="379.8" width="2.4" height="2.4" fill="#5fc8ec"/><rect x="2268.9" y="356.7" width="2.4" height="2.4" fill="#5fc8ec"/><rect x="2275.9" y="362.7" width="2.4" height="2.4" fill="#5fc8ec"/><rect x="2239.0" y="380.9" width="2.4" height="2.4" fill="#5fc8ec"/><rect x="2341.7" y="324.2" width="2.4" height="2.4" fill="#5fc8ec"/><rect x="2291.0" y="329.6" width="2.4" height="2.4" fill="#5fc8ec"/><rect x="2293.8" y="253.1" width="2.4" height="2.4" fill="#5fc8ec"/><rect x="2343.3" y="283.6" width="2.4" height="2.4" fill="#5fc8ec"/><rect x="2253.0" y="265.4" width="2.4" height="2.4" fill="#5fc8ec"/><rect x="2260.8" y="372.6" width="2.4" height="2.4" fill="#5fc8ec"/><rect x="2235.5" y="264.5" width="2.4" height="2.4" fill="#5fc8ec"/><rect x="2312.4" y="279.3" width="2.4" height="2.4" fill="#5fc8ec"/><rect x="2234.0" y="339.9" width="2.4" height="2.4" fill="#5fc8ec"/><rect x="2298.3" y="328.4" width="2.4" height="2.4" fill="#5fc8ec"/><rect x="2312.8" y="265.4" width="2.4" height="2.4" fill="#5fc8ec"/><rect x="2332.0" y="357.6" width="2.4" height="2.4" fill="#5fc8ec"/><rect x="2237.2" y="268.5" width="2.4" height="2.4" fill="#5fc8ec"/><rect x="2288.8" y="325.1" width="2.4" height="2.4" fill="#5fc8ec"/><rect x="2264.2" y="268.3" width="2.4" height="2.4" fill="#5fc8ec"/><rect x="2278.6" y="270.5" width="2.4" height="2.4" fill="#5fc8ec"/><rect x="2300.1" y="379.2" width="2.4" height="2.4" fill="#5fc8ec"/><rect x="2248.9" y="335.9" width="2.4" height="2.4" fill="#5fc8ec"/><rect x="2317.9" y="274.6" width="2.4" height="2.4" fill="#5fc8ec"/><rect x="2327.0" y="390.6" width="2.4" height="2.4" fill="#5fc8ec"/><rect x="2276.7" y="313.1" width="2.4" height="2.4" fill="#5fc8ec"/><rect x="2328.6" y="328.8" width="2.4" height="2.4" fill="#5fc8ec"/><rect x="2277.5" y="391.2" width="2.4" height="2.4" fill="#5fc8ec"/><rect x="2321.3" y="300.8" width="2.4" height="2.4" fill="#5fc8ec"/><rect x="2254.4" y="346.8" width="3" height="3" fill="#5fc8ec"/><rect x="2266.1" y="398.5" width="3" height="3" fill="#5fc8ec"/><rect x="2288.3" y="393.0" width="3" height="3" fill="#5fc8ec"/><rect x="2288.9" y="387.8" width="3" height="3" fill="#5fc8ec"/><rect x="2243.2" y="361.4" width="3" height="3" fill="#5fc8ec"/><rect x="2297.5" y="394.7" width="3" height="3" fill="#5fc8ec"/><rect x="2255.0" y="353.8" width="3" height="3" fill="#5fc8ec"/><rect x="2278.0" y="349.2" width="3" height="3" fill="#5fc8ec"/><rect x="2271.8" y="325.5" width="3" height="3" fill="#5fc8ec"/><rect x="2266.0" y="360.4" width="3" height="3" fill="#5fc8ec"/><rect x="2241.2" y="331.2" width="3" height="3" fill="#5fc8ec"/><rect x="2298.2" y="382.1" width="3" height="3" fill="#5fc8ec"/><rect x="2296.2" y="370.7" width="3" height="3" fill="#5fc8ec"/><rect x="2288.6" y="390.7" width="3" height="3" fill="#5fc8ec"/><rect x="2293.1" y="322.7" width="3" height="3" fill="#5fc8ec"/><rect x="2278.5" y="341.3" width="3" height="3" fill="#5fc8ec"/><rect x="2280.7" y="341.9" width="3" height="3" fill="#5fc8ec"/><rect x="2272.5" y="394.0" width="3" height="3" fill="#5fc8ec"/><rect x="2277.3" y="340.0" width="3" height="3" fill="#5fc8ec"/><rect x="2271.2" y="354.7" width="3" height="3" fill="#5fc8ec"/><rect x="2297.1" y="343.0" width="3" height="3" fill="#5fc8ec"/><rect x="2258.3" y="371.8" width="3" height="3" fill="#5fc8ec"/><rect x="2247.2" y="367.5" width="3" height="3" fill="#5fc8ec"/><rect x="2297.4" y="361.1" width="3" height="3" fill="#5fc8ec"/><rect x="2256.1" y="357.3" width="3" height="3" fill="#5fc8ec"/><rect x="2272.0" y="331.9" width="3" height="3" fill="#5fc8ec"/><rect x="2247.4" y="330.5" width="3" height="3" fill="#5fc8ec"/><rect x="2257.6" y="352.5" width="3" height="3" fill="#5fc8ec"/><rect x="2257.3" y="339.5" width="3" height="3" fill="#5fc8ec"/><rect x="2245.3" y="363.7" width="3" height="3" fill="#5fc8ec"/><rect x="2290.4" y="368.8" width="3" height="3" fill="#5fc8ec"/><rect x="2274.2" y="372.0" width="3" height="3" fill="#5fc8ec"/><rect x="2252.1" y="376.8" width="3" height="3" fill="#5fc8ec"/><rect x="2267.7" y="363.8" width="3" height="3" fill="#5fc8ec"/><rect x="2276.8" y="357.5" width="3" height="3" fill="#5fc8ec"/><rect x="2258.6" y="339.4" width="3" height="3" fill="#5fc8ec"/><rect x="2253.3" y="361.0" width="3" height="3" fill="#5fc8ec"/><rect x="2263.0" y="366.9" width="3" height="3" fill="#5fc8ec"/><rect x="2240.7" y="348.2" width="3" height="3" fill="#5fc8ec"/><rect x="2291.7" y="339.1" width="3" height="3" fill="#5fc8ec"/><rect x="2273.4" y="359.3" width="3" height="3" fill="#5fc8ec"/><rect x="2257.1" y="399.0" width="3" height="3" fill="#5fc8ec"/><rect x="2257.7" y="381.8" width="3" height="3" fill="#5fc8ec"/><rect x="2249.5" y="325.3" width="3" height="3" fill="#5fc8ec"/><rect x="2292.3" y="355.2" width="3" height="3" fill="#5fc8ec"/><rect x="2243.7" y="351.0" width="3" height="3" fill="#5fc8ec"/><rect x="2266.4" y="378.8" width="3" height="3" fill="#5fc8ec"/><rect x="2246.6" y="338.0" width="3" height="3" fill="#5fc8ec"/><rect x="2297.6" y="379.1" width="3" height="3" fill="#5fc8ec"/><rect x="2249.3" y="347.0" width="3" height="3" fill="#5fc8ec"/><rect x="2261.1" y="374.0" width="3" height="3" fill="#5fc8ec"/><rect x="2277.0" y="388.0" width="3" height="3" fill="#5fc8ec"/><rect x="2289.3" y="361.4" width="3" height="3" fill="#5fc8ec"/><rect x="2284.3" y="379.5" width="3" height="3" fill="#5fc8ec"/><rect x="2285.6" y="358.0" width="3" height="3" fill="#5fc8ec"/><rect x="2287.1" y="376.7" width="3" height="3" fill="#5fc8ec"/><rect x="2294.9" y="330.2" width="3" height="3" fill="#5fc8ec"/><rect x="2292.2" y="320.3" width="3" height="3" fill="#5fc8ec"/><rect x="2285.9" y="366.9" width="3" height="3" fill="#5fc8ec"/><rect x="2269.9" y="397.0" width="3" height="3" fill="#5fc8ec"/><rect x="2274.3" y="353.4" width="3" height="3" fill="#5fc8ec"/><rect x="2287.0" y="389.8" width="3" height="3" fill="#5fc8ec"/><rect x="2276.4" y="350.4" width="3" height="3" fill="#5fc8ec"/><rect x="2267.1" y="356.6" width="3" height="3" fill="#5fc8ec"/><rect x="2283.4" y="343.4" width="3" height="3" fill="#5fc8ec"/><rect x="2263.4" y="364.4" width="3" height="3" fill="#5fc8ec"/><rect x="2263.1" y="345.8" width="3" height="3" fill="#5fc8ec"/><rect x="2287.2" y="388.0" width="3" height="3" fill="#5fc8ec"/><rect x="2270.0" y="355.5" width="3" height="3" fill="#5fc8ec"/><rect x="2251.1" y="344.3" width="3" height="3" fill="#5fc8ec"/><rect x="2248.7" y="366.0" width="3" height="3" fill="#5fc8ec"/><rect x="2274.9" y="327.0" width="3" height="3" fill="#5fc8ec"/><rect x="2295.2" y="345.9" width="3" height="3" fill="#5fc8ec"/><rect x="2290.6" y="387.1" width="3" height="3" fill="#5fc8ec"/><rect x="2297.5" y="336.3" width="3" height="3" fill="#5fc8ec"/><rect x="2265.6" y="392.8" width="3" height="3" fill="#5fc8ec"/><rect x="2240.6" y="323.8" width="3" height="3" fill="#5fc8ec"/><rect x="2273.9" y="359.8" width="3" height="3" fill="#5fc8ec"/><rect x="2295.2" y="381.9" width="3" height="3" fill="#5fc8ec"/><rect x="2272.3" y="399.9" width="3" height="3" fill="#5fc8ec"/><rect x="2271.0" y="361.4" width="3" height="3" fill="#5fc8ec"/><rect x="2281.1" y="351.2" width="3" height="3" fill="#5fc8ec"/><rect x="2261.5" y="367.6" width="3" height="3" fill="#5fc8ec"/><rect x="2261.1" y="395.8" width="3" height="3" fill="#5fc8ec"/><rect x="2280.6" y="362.0" width="3" height="3" fill="#5fc8ec"/><rect x="2245.9" y="350.0" width="3" height="3" fill="#5fc8ec"/><rect x="2264.1" y="364.9" width="3" height="3" fill="#5fc8ec"/><rect x="2274.4" y="390.4" width="3" height="3" fill="#5fc8ec"/><rect x="2297.9" y="358.9" width="3" height="3" fill="#5fc8ec"/><rect x="2266.4" y="370.0" width="3" height="3" fill="#5fc8ec"/><rect x="2299.8" y="347.5" width="3" height="3" fill="#5fc8ec"/><rect x="2271.8" y="385.3" width="3" height="3" fill="#5fc8ec"/><rect x="2250.2" y="345.4" width="3" height="3" fill="#5fc8ec"/><rect x="2298.7" y="386.1" width="3" height="3" fill="#5fc8ec"/><rect x="2270.8" y="328.8" width="3" height="3" fill="#5fc8ec"/><rect x="2293.7" y="375.2" width="3" height="3" fill="#5fc8ec"/><rect x="2289.2" y="399.2" width="3" height="3" fill="#5fc8ec"/><rect x="2293.3" y="353.7" width="3" height="3" fill="#5fc8ec"/><rect x="2249.4" y="343.2" width="3" height="3" fill="#5fc8ec"/><rect x="2270.7" y="360.4" width="3" height="3" fill="#5fc8ec"/><rect x="2251.3" y="334.6" width="3" height="3" fill="#5fc8ec"/><rect x="2277.8" y="368.3" width="3" height="3" fill="#5fc8ec"/><rect x="2261.2" y="399.5" width="3" height="3" fill="#5fc8ec"/><rect x="2278.2" y="323.4" width="3" height="3" fill="#5fc8ec"/><rect x="2264.7" y="383.0" width="3" height="3" fill="#5fc8ec"/><rect x="2258.4" y="375.3" width="3" height="3" fill="#5fc8ec"/><rect x="2240.2" y="344.4" width="3" height="3" fill="#5fc8ec"/><rect x="2290.5" y="366.9" width="3" height="3" fill="#5fc8ec"/><rect x="2280.1" y="335.7" width="3" height="3" fill="#5fc8ec"/><rect x="2269.9" y="364.3" width="3" height="3" fill="#5fc8ec"/><rect x="2256.0" y="371.7" width="3" height="3" fill="#5fc8ec"/><rect x="2271.9" y="399.8" width="3" height="3" fill="#5fc8ec"/><rect x="2274.5" y="352.9" width="3" height="3" fill="#5fc8ec"/><rect x="2247.3" y="332.5" width="3" height="3" fill="#5fc8ec"/><rect x="2285.6" y="328.5" width="3" height="3" fill="#5fc8ec"/><rect x="2246.0" y="333.6" width="3" height="3" fill="#5fc8ec"/><rect x="2271.3" y="385.9" width="3" height="3" fill="#5fc8ec"/><rect x="2276.8" y="384.5" width="3" height="3" fill="#5fc8ec"/><rect x="2243.7" y="321.0" width="3" height="3" fill="#5fc8ec"/><rect x="2286.2" y="345.8" width="3" height="3" fill="#5fc8ec"/><rect x="2282.9" y="348.3" width="3" height="3" fill="#5fc8ec"/><rect x="2250.2" y="341.3" width="3" height="3" fill="#5fc8ec"/><rect x="2246.0" y="392.3" width="3" height="3" fill="#5fc8ec"/><rect x="2274.9" y="347.9" width="3" height="3" fill="#5fc8ec"/><rect x="2267.0" y="350.9" width="3" height="3" fill="#5fc8ec"/><rect x="2243.3" y="391.2" width="3" height="3" fill="#5fc8ec"/><rect x="2275.0" y="396.8" width="3" height="3" fill="#5fc8ec"/><rect x="2266.4" y="369.6" width="3" height="3" fill="#5fc8ec"/><rect x="2255.0" y="323.5" width="3" height="3" fill="#5fc8ec"/><rect x="2295.8" y="388.4" width="3" height="3" fill="#5fc8ec"/><rect x="2258.9" y="391.9" width="3" height="3" fill="#5fc8ec"/><rect x="2289.0" y="344.3" width="3" height="3" fill="#5fc8ec"/><rect x="2276.2" y="396.8" width="3" height="3" fill="#5fc8ec"/><rect x="2269.7" y="396.0" width="3" height="3" fill="#5fc8ec"/><rect x="2254.6" y="351.2" width="3" height="3" fill="#5fc8ec"/><rect x="2283.1" y="337.7" width="3" height="3" fill="#5fc8ec"/><rect x="2258.5" y="390.0" width="3" height="3" fill="#5fc8ec"/><rect x="2269.1" y="383.4" width="3" height="3" fill="#5fc8ec"/><rect x="2254.6" y="333.9" width="3" height="3" fill="#5fc8ec"/><rect x="2261.5" y="334.9" width="3" height="3" fill="#5fc8ec"/><rect x="2298.3" y="343.3" width="3" height="3" fill="#5fc8ec"/><rect x="2273.7" y="329.2" width="3" height="3" fill="#5fc8ec"/><rect x="2272.0" y="350.8" width="3" height="3" fill="#5fc8ec"/><rect x="2264.2" y="325.2" width="3" height="3" fill="#5fc8ec"/><rect x="2247.4" y="386.1" width="3" height="3" fill="#5fc8ec"/><rect x="2261.1" y="339.6" width="3" height="3" fill="#5fc8ec"/><rect x="2251.5" y="342.7" width="3" height="3" fill="#5fc8ec"/><rect x="2254.2" y="322.8" width="3" height="3" fill="#5fc8ec"/><rect x="2279.9" y="347.3" width="3" height="3" fill="#5fc8ec"/><rect x="2249.4" y="376.5" width="3" height="3" fill="#5fc8ec"/><rect x="2245.6" y="341.6" width="3" height="3" fill="#5fc8ec"/><rect x="2290.1" y="330.2" width="3" height="3" fill="#5fc8ec"/><rect x="2266.6" y="386.9" width="3" height="3" fill="#5fc8ec"/><rect x="2288.3" y="332.7" width="3" height="3" fill="#5fc8ec"/><rect x="2261.2" y="377.8" width="3" height="3" fill="#5fc8ec"/><rect x="2262.6" y="396.7" width="3" height="3" fill="#5fc8ec"/><rect x="2252.5" y="396.1" width="3" height="3" fill="#5fc8ec"/><rect x="2270.3" y="338.2" width="3" height="3" fill="#5fc8ec"/><rect x="2267.2" y="330.5" width="3" height="3" fill="#5fc8ec"/><rect x="2282.4" y="340.9" width="3" height="3" fill="#5fc8ec"/><rect x="2294.0" y="367.0" width="3" height="3" fill="#5fc8ec"/><rect x="2262.1" y="339.7" width="3" height="3" fill="#5fc8ec"/><rect x="2276.5" y="337.0" width="3" height="3" fill="#5fc8ec"/><rect x="2292.3" y="329.8" width="3" height="3" fill="#5fc8ec"/><rect x="2270.8" y="363.4" width="3" height="3" fill="#5fc8ec"/><rect x="2256.2" y="381.7" width="3" height="3" fill="#5fc8ec"/><rect x="2263.1" y="372.6" width="3" height="3" fill="#5fc8ec"/><rect x="2274.1" y="344.9" width="3" height="3" fill="#5fc8ec"/><rect x="2263.4" y="326.9" width="3" height="3" fill="#5fc8ec"/><rect x="2250.6" y="388.1" width="3" height="3" fill="#5fc8ec"/><rect x="2259.3" y="373.0" width="3" height="3" fill="#5fc8ec"/><rect x="2246.5" y="365.0" width="3" height="3" fill="#5fc8ec"/><rect x="2261.7" y="360.0" width="3" height="3" fill="#5fc8ec"/><rect x="2257.8" y="325.3" width="3" height="3" fill="#5fc8ec"/><rect x="2258.7" y="338.1" width="3" height="3" fill="#5fc8ec"/><rect x="2247.6" y="377.3" width="3" height="3" fill="#5fc8ec"/><rect x="2256.9" y="352.3" width="3" height="3" fill="#5fc8ec"/><rect x="2294.5" y="382.0" width="3" height="3" fill="#5fc8ec"/><rect x="2293.0" y="388.9" width="3" height="3" fill="#5fc8ec"/><rect x="2247.9" y="342.1" width="3" height="3" fill="#5fc8ec"/><rect x="2241.8" y="374.4" width="3" height="3" fill="#5fc8ec"/><rect x="2279.8" y="348.1" width="3" height="3" fill="#5fc8ec"/><rect x="2264.8" y="372.7" width="3" height="3" fill="#5fc8ec"/><rect x="2282.0" y="339.9" width="3" height="3" fill="#5fc8ec"/><rect x="2290.8" y="348.2" width="3" height="3" fill="#5fc8ec"/><rect x="2277.7" y="334.5" width="3" height="3" fill="#5fc8ec"/><rect x="2246.9" y="393.0" width="3" height="3" fill="#5fc8ec"/><rect x="2284.0" y="377.0" width="3" height="3" fill="#5fc8ec"/><rect x="2242.4" y="323.2" width="3" height="3" fill="#5fc8ec"/><rect x="2249.7" y="335.8" width="3" height="3" fill="#5fc8ec"/><rect x="2258.2" y="350.5" width="3" height="3" fill="#5fc8ec"/><rect x="2242.4" y="344.9" width="3" height="3" fill="#5fc8ec"/><rect x="2278.3" y="334.4" width="3" height="3" fill="#5fc8ec"/><rect x="2290.4" y="365.6" width="3" height="3" fill="#5fc8ec"/><rect x="2283.0" y="340.4" width="3" height="3" fill="#5fc8ec"/><rect x="2266.1" y="374.7" width="3" height="3" fill="#5fc8ec"/><rect x="2260.9" y="320.1" width="3" height="3" fill="#5fc8ec"/><rect x="2290.1" y="382.1" width="3" height="3" fill="#5fc8ec"/><rect x="2257.2" y="323.4" width="3" height="3" fill="#5fc8ec"/><rect x="2291.2" y="368.6" width="3" height="3" fill="#5fc8ec"/><rect x="2242.8" y="339.6" width="3" height="3" fill="#5fc8ec"/><rect x="2246.7" y="383.3" width="3" height="3" fill="#5fc8ec"/><rect x="2252.6" y="393.2" width="3" height="3" fill="#5fc8ec"/><rect x="2285.0" y="326.9" width="3" height="3" fill="#5fc8ec"/><rect x="2281.7" y="351.5" width="3" height="3" fill="#5fc8ec"/><rect x="2284.9" y="386.3" width="3" height="3" fill="#5fc8ec"/><rect x="2256.9" y="327.2" width="3" height="3" fill="#5fc8ec"/><rect x="2296.8" y="353.9" width="3" height="3" fill="#5fc8ec"/><rect x="2295.8" y="375.3" width="3" height="3" fill="#5fc8ec"/><rect x="2284.3" y="386.4" width="3" height="3" fill="#5fc8ec"/><rect x="2277.7" y="356.2" width="3" height="3" fill="#5fc8ec"/><rect x="2243.3" y="375.9" width="3" height="3" fill="#5fc8ec"/><rect x="2265.7" y="361.0" width="3" height="3" fill="#5fc8ec"/><rect x="2295.7" y="330.2" width="3" height="3" fill="#5fc8ec"/><rect x="2285.7" y="323.5" width="3" height="3" fill="#5fc8ec"/><rect x="2282.2" y="384.5" width="3" height="3" fill="#5fc8ec"/><rect x="2255.7" y="363.7" width="3" height="3" fill="#5fc8ec"/><rect x="2298.2" y="371.0" width="3" height="3" fill="#5fc8ec"/><rect x="2272.6" y="340.0" width="3" height="3" fill="#5fc8ec"/><rect x="2243.6" y="348.6" width="3" height="3" fill="#5fc8ec"/><rect x="2264.7" y="336.1" width="3" height="3" fill="#5fc8ec"/><rect x="2258.6" y="330.9" width="3" height="3" fill="#5fc8ec"/><rect x="2282.4" y="373.6" width="3" height="3" fill="#5fc8ec"/><rect x="2254.3" y="339.3" width="3" height="3" fill="#5fc8ec"/><rect x="2270.9" y="355.6" width="3" height="3" fill="#5fc8ec"/><rect x="2296.2" y="348.1" width="3" height="3" fill="#5fc8ec"/><rect x="2258.0" y="390.8" width="3" height="3" fill="#5fc8ec"/><rect x="2248.5" y="365.1" width="3" height="3" fill="#5fc8ec"/><rect x="2260.0" y="385.2" width="3" height="3" fill="#5fc8ec"/><rect x="2272.9" y="380.8" width="3" height="3" fill="#5fc8ec"/><rect x="2250.2" y="373.3" width="3" height="3" fill="#5fc8ec"/><rect x="2275.9" y="356.9" width="3" height="3" fill="#5fc8ec"/><rect x="2286.0" y="386.5" width="3" height="3" fill="#5fc8ec"/><rect x="2246.9" y="343.1" width="3" height="3" fill="#5fc8ec"/><rect x="2261.6" y="336.5" width="3" height="3" fill="#5fc8ec"/><rect x="2243.6" y="342.5" width="3" height="3" fill="#5fc8ec"/><rect x="2251.8" y="376.1" width="3" height="3" fill="#5fc8ec"/><rect x="2266.9" y="329.0" width="3" height="3" fill="#5fc8ec"/><rect x="2259.5" y="357.5" width="3" height="3" fill="#5fc8ec"/><rect x="2261.8" y="333.4" width="3" height="3" fill="#5fc8ec"/><rect x="2244.3" y="320.9" width="3" height="3" fill="#5fc8ec"/><rect x="2299.5" y="380.0" width="3" height="3" fill="#5fc8ec"/><rect x="2245.0" y="377.4" width="3" height="3" fill="#5fc8ec"/><rect x="2298.8" y="365.1" width="3" height="3" fill="#5fc8ec"/><rect x="2246.5" y="359.1" width="3" height="3" fill="#5fc8ec"/><rect x="2266.1" y="335.2" width="3" height="3" fill="#5fc8ec"/><rect x="2272.6" y="320.7" width="3" height="3" fill="#5fc8ec"/><rect x="2295.2" y="371.6" width="3" height="3" fill="#5fc8ec"/><rect x="2277.7" y="394.8" width="3" height="3" fill="#5fc8ec"/><rect x="2279.2" y="340.1" width="3" height="3" fill="#5fc8ec"/><rect x="2254.8" y="331.1" width="3" height="3" fill="#5fc8ec"/><rect x="2241.7" y="382.0" width="3" height="3" fill="#5fc8ec"/><rect x="2290.4" y="343.7" width="3" height="3" fill="#5fc8ec"/><rect x="2251.1" y="371.0" width="3" height="3" fill="#5fc8ec"/><rect x="2290.7" y="394.1" width="3" height="3" fill="#5fc8ec"/><rect x="2250.1" y="382.8" width="3" height="3" fill="#5fc8ec"/><rect x="2289.8" y="379.4" width="3" height="3" fill="#5fc8ec"/><rect x="2259.6" y="334.8" width="3" height="3" fill="#5fc8ec"/><rect x="2289.5" y="345.6" width="3" height="3" fill="#5fc8ec"/><rect x="2262.1" y="364.1" width="3" height="3" fill="#5fc8ec"/></g><path d="M2285.0 325.0 C2286.7 322.5 2293.8 317.8 2298.0 318.0 C2302.2 318.2 2309.3 323.3 2310.0 326.0 C2310.7 328.7 2305.7 332.8 2302.0 334.0 C2298.3 335.2 2290.8 334.5 2288.0 333.0 C2285.2 331.5 2283.3 327.5 2285.0 325.0Z" fill="#fff" /><path d="M2332.0 404.0 C2336.2 399.0 2347.0 396.0 2355.0 396.0 C2363.0 396.0 2376.5 399.3 2380.0 404.0 C2383.5 408.7 2381.0 419.0 2376.0 424.0 C2371.0 429.0 2357.7 433.7 2350.0 434.0 C2342.3 434.3 2333.0 431.0 2330.0 426.0 C2327.0 421.0 2327.8 409.0 2332.0 404.0Z" fill="#fff" /><path d="M2262.0 330.0 C2262.8 327.3 2271.7 325.0 2275.0 326.0 C2278.3 327.0 2282.8 333.3 2282.0 336.0 C2281.2 338.7 2273.3 343.0 2270.0 342.0 C2266.7 341.0 2261.2 332.7 2262.0 330.0Z" fill="#fff" opacity="0.8"/><g clip-path="url(#clb2)"><rect x="2322.8" y="401.5" width="2.2" height="2.2" fill="#fff" opacity="0.8"/><rect x="2300.7" y="314.5" width="2.2" height="2.2" fill="#fff" opacity="0.8"/><rect x="2356.4" y="379.1" width="2.2" height="2.2" fill="#fff" opacity="0.8"/><rect x="2399.4" y="387.6" width="2.2" height="2.2" fill="#fff" opacity="0.8"/><rect x="2413.9" y="413.9" width="2.2" height="2.2" fill="#fff" opacity="0.8"/><rect x="2344.0" y="364.9" width="2.2" height="2.2" fill="#fff" opacity="0.8"/><rect x="2286.8" y="343.0" width="2.2" height="2.2" fill="#fff" opacity="0.8"/><rect x="2358.8" y="318.8" width="2.2" height="2.2" fill="#fff" opacity="0.8"/><rect x="2377.0" y="328.0" width="2.2" height="2.2" fill="#fff" opacity="0.8"/><rect x="2335.3" y="416.7" width="2.2" height="2.2" fill="#fff" opacity="0.8"/><rect x="2275.2" y="314.4" width="2.2" height="2.2" fill="#fff" opacity="0.8"/><rect x="2334.7" y="331.0" width="2.2" height="2.2" fill="#fff" opacity="0.8"/><rect x="2382.9" y="310.3" width="2.2" height="2.2" fill="#fff" opacity="0.8"/><rect x="2402.9" y="404.1" width="2.2" height="2.2" fill="#fff" opacity="0.8"/><rect x="2393.8" y="356.8" width="2.2" height="2.2" fill="#fff" opacity="0.8"/><rect x="2308.2" y="382.8" width="2.2" height="2.2" fill="#fff" opacity="0.8"/><rect x="2347.5" y="356.3" width="2.2" height="2.2" fill="#fff" opacity="0.8"/><rect x="2317.6" y="358.3" width="2.2" height="2.2" fill="#fff" opacity="0.8"/><rect x="2373.2" y="400.9" width="2.2" height="2.2" fill="#fff" opacity="0.8"/><rect x="2413.7" y="328.1" width="2.2" height="2.2" fill="#fff" opacity="0.8"/><rect x="2310.3" y="358.7" width="2.2" height="2.2" fill="#fff" opacity="0.8"/><rect x="2355.8" y="348.3" width="2.2" height="2.2" fill="#fff" opacity="0.8"/><rect x="2293.2" y="319.4" width="2.2" height="2.2" fill="#fff" opacity="0.8"/><rect x="2315.0" y="360.7" width="2.2" height="2.2" fill="#fff" opacity="0.8"/><rect x="2425.1" y="410.0" width="2.2" height="2.2" fill="#fff" opacity="0.8"/><rect x="2407.1" y="417.2" width="2.2" height="2.2" fill="#fff" opacity="0.8"/><rect x="2423.5" y="378.2" width="2.2" height="2.2" fill="#fff" opacity="0.8"/><rect x="2397.9" y="316.6" width="2.2" height="2.2" fill="#fff" opacity="0.8"/><rect x="2375.0" y="377.0" width="2.2" height="2.2" fill="#fff" opacity="0.8"/><rect x="2310.5" y="372.8" width="2.2" height="2.2" fill="#fff" opacity="0.8"/><rect x="2422.0" y="362.9" width="2.2" height="2.2" fill="#fff" opacity="0.8"/><rect x="2370.1" y="342.9" width="2.2" height="2.2" fill="#fff" opacity="0.8"/><rect x="2318.4" y="407.4" width="2.2" height="2.2" fill="#fff" opacity="0.8"/><rect x="2264.7" y="330.8" width="2.2" height="2.2" fill="#fff" opacity="0.8"/><rect x="2375.4" y="359.2" width="2.2" height="2.2" fill="#fff" opacity="0.8"/><rect x="2274.5" y="382.7" width="2.2" height="2.2" fill="#fff" opacity="0.8"/><rect x="2323.2" y="373.9" width="2.2" height="2.2" fill="#fff" opacity="0.8"/><rect x="2330.8" y="368.3" width="2.2" height="2.2" fill="#fff" opacity="0.8"/><rect x="2356.0" y="353.6" width="2.2" height="2.2" fill="#fff" opacity="0.8"/><rect x="2279.4" y="329.9" width="2.2" height="2.2" fill="#fff" opacity="0.8"/></g><path d="M2213.0 388.0 C2215.2 384.5 2220.2 383.7 2224.0 384.0 C2227.8 384.3 2234.7 386.7 2236.0 390.0 C2237.3 393.3 2233.7 399.3 2232.0 404.0 C2230.3 408.7 2228.7 415.0 2226.0 418.0 C2223.3 421.0 2218.5 424.2 2216.0 422.0 C2213.5 419.8 2211.5 410.7 2211.0 405.0 C2210.5 399.3 2210.8 391.5 2213.0 388.0Z" fill="#cbb843" /><path d="M2322.0 455.0 C2321.2 449.7 2325.3 443.2 2330.0 440.0 C2334.7 436.8 2343.0 436.8 2350.0 436.0 C2357.0 435.2 2366.0 438.0 2372.0 435.0 C2378.0 432.0 2379.0 421.8 2386.0 418.0 C2393.0 414.2 2405.5 412.0 2414.0 412.5 C2422.5 413.0 2431.8 417.7 2437.0 421.0 C2442.2 424.3 2441.7 428.4 2445.4 432.2 C2449.2 435.9 2456.7 439.3 2459.5 443.5 C2462.3 447.7 2459.1 452.4 2462.3 457.5 C2465.6 462.6 2474.3 469.2 2479.0 474.4 C2483.7 479.6 2488.3 482.4 2490.4 488.5 C2492.5 494.6 2494.2 507.2 2491.8 511.0 C2489.4 514.8 2481.4 511.5 2476.0 511.0 C2470.6 510.5 2465.1 509.6 2459.5 508.2 C2453.9 506.8 2450.1 503.5 2442.6 502.6 C2435.1 501.7 2421.5 503.5 2414.4 502.6 C2407.3 501.7 2404.7 500.3 2400.0 497.0 C2395.3 493.7 2393.0 486.5 2386.0 483.0 C2379.0 479.5 2366.5 477.8 2358.0 476.0 C2349.5 474.2 2341.0 475.5 2335.0 472.0 C2329.0 468.5 2322.8 460.3 2322.0 455.0Z" fill="#ef6b7a" /><path d="M2300.0 438.0 C2303.0 434.7 2311.7 432.2 2318.0 432.0 C2324.3 431.8 2333.5 434.3 2338.0 437.0 C2342.5 439.7 2345.5 444.2 2345.0 448.0 C2344.5 451.8 2340.0 457.7 2335.0 460.0 C2330.0 462.3 2320.8 463.3 2315.0 462.0 C2309.2 460.7 2302.5 456.0 2300.0 452.0 C2297.5 448.0 2297.0 441.3 2300.0 438.0Z" fill="#5fc8ec" /><path d="M2340.0 445.0 C2343.3 442.3 2356.7 440.8 2362.0 442.0 C2367.3 443.2 2372.3 448.7 2372.0 452.0 C2371.7 455.3 2365.0 461.0 2360.0 462.0 C2355.0 463.0 2345.3 460.8 2342.0 458.0 C2338.7 455.2 2336.7 447.7 2340.0 445.0Z" fill="#5fc8ec" /><circle cx="2328.2" cy="473.4" r="2.3" fill="#ef6b7a"/><circle cx="2310.7" cy="475.6" r="2.3" fill="#258a3a"/><circle cx="2265.6" cy="445.8" r="2.3" fill="#258a3a"/><circle cx="2320.6" cy="461.0" r="2.3" fill="#cbb843"/><circle cx="2249.2" cy="442.2" r="2.3" fill="#258a3a"/><circle cx="2314.4" cy="461.9" r="2.3" fill="#cbb843"/><circle cx="2290.5" cy="460.1" r="2.3" fill="#258a3a"/><circle cx="2338.7" cy="488.0" r="2.3" fill="#258a3a"/><circle cx="2280.6" cy="443.7" r="2.3" fill="#258a3a"/><circle cx="2250.8" cy="412.6" r="2.3" fill="#258a3a"/><circle cx="2266.6" cy="452.6" r="2.3" fill="#258a3a"/><circle cx="2339.6" cy="483.7" r="2.3" fill="#258a3a"/><circle cx="2276.8" cy="461.8" r="2.3" fill="#cbb843"/><circle cx="2312.2" cy="460.6" r="2.3" fill="#258a3a"/><circle cx="2322.4" cy="462.8" r="2.3" fill="#258a3a"/><circle cx="2308.4" cy="467.6" r="2.3" fill="#5fc8ec"/><circle cx="2255.6" cy="430.1" r="2.3" fill="#258a3a"/><circle cx="2324.3" cy="468.9" r="2.3" fill="#258a3a"/><circle cx="2319.6" cy="470.2" r="2.3" fill="#258a3a"/><circle cx="2270.9" cy="431.5" r="2.3" fill="#258a3a"/><circle cx="2322.7" cy="468.5" r="2.3" fill="#ef6b7a"/><circle cx="2339.0" cy="478.3" r="2.3" fill="#258a3a"/><circle cx="2300.2" cy="444.5" r="2.3" fill="#258a3a"/><circle cx="2268.9" cy="428.4" r="2.3" fill="#258a3a"/><circle cx="2297.0" cy="469.4" r="2.3" fill="#258a3a"/><circle cx="2327.4" cy="471.6" r="2.3" fill="#258a3a"/><circle cx="2273.7" cy="435.0" r="2.3" fill="#258a3a"/><circle cx="2262.4" cy="447.9" r="2.3" fill="#258a3a"/><circle cx="2284.6" cy="451.4" r="2.3" fill="#258a3a"/><circle cx="2284.4" cy="449.3" r="2.3" fill="#5fc8ec"/><circle cx="2306.5" cy="457.3" r="2.3" fill="#258a3a"/><circle cx="2259.5" cy="434.6" r="2.3" fill="#258a3a"/><circle cx="2306.6" cy="470.7" r="2.3" fill="#5fc8ec"/><circle cx="2329.4" cy="461.3" r="2.3" fill="#258a3a"/><circle cx="2281.3" cy="465.1" r="2.3" fill="#5fc8ec"/><circle cx="2309.1" cy="479.1" r="2.3" fill="#258a3a"/><circle cx="2293.3" cy="450.1" r="2.3" fill="#258a3a"/><circle cx="2289.9" cy="454.5" r="2.3" fill="#258a3a"/><circle cx="2335.2" cy="480.4" r="2.3" fill="#258a3a"/><circle cx="2269.9" cy="447.2" r="2.3" fill="#258a3a"/><circle cx="2324.2" cy="476.6" r="2.3" fill="#258a3a"/><circle cx="2277.9" cy="449.4" r="2.3" fill="#258a3a"/><circle cx="2277.0" cy="435.5" r="2.3" fill="#ef6b7a"/><circle cx="2260.0" cy="454.6" r="2.3" fill="#258a3a"/><circle cx="2274.7" cy="454.6" r="2.3" fill="#cbb843"/><circle cx="2289.6" cy="450.1" r="2.3" fill="#258a3a"/><circle cx="2330.4" cy="482.0" r="2.3" fill="#258a3a"/><circle cx="2264.1" cy="453.9" r="2.3" fill="#258a3a"/><circle cx="2287.6" cy="462.8" r="2.3" fill="#cbb843"/><circle cx="2259.0" cy="439.9" r="2.3" fill="#258a3a"/><circle cx="2261.0" cy="441.7" r="2.3" fill="#258a3a"/><circle cx="2317.9" cy="466.7" r="2.3" fill="#258a3a"/><circle cx="2250.9" cy="434.6" r="2.3" fill="#258a3a"/><circle cx="2332.6" cy="475.4" r="2.3" fill="#258a3a"/><circle cx="2325.7" cy="486.4" r="2.3" fill="#5fc8ec"/><circle cx="2304.0" cy="471.1" r="2.3" fill="#258a3a"/><circle cx="2272.5" cy="444.7" r="2.3" fill="#cbb843"/><circle cx="2307.3" cy="472.0" r="2.3" fill="#258a3a"/><circle cx="2325.6" cy="473.5" r="2.3" fill="#258a3a"/><circle cx="2299.7" cy="450.3" r="2.3" fill="#258a3a"/><circle cx="2277.6" cy="432.2" r="2.3" fill="#258a3a"/><circle cx="2335.7" cy="476.2" r="2.3" fill="#258a3a"/><circle cx="2322.2" cy="471.4" r="2.3" fill="#258a3a"/><circle cx="2302.7" cy="459.0" r="2.3" fill="#258a3a"/><circle cx="2279.4" cy="448.0" r="2.3" fill="#258a3a"/><circle cx="2306.1" cy="468.4" r="2.3" fill="#5fc8ec"/><circle cx="2340.0" cy="494.5" r="2.3" fill="#258a3a"/><circle cx="2253.5" cy="435.7" r="2.3" fill="#258a3a"/><circle cx="2303.9" cy="478.1" r="2.3" fill="#258a3a"/><circle cx="2266.3" cy="452.4" r="2.3" fill="#5fc8ec"/><circle cx="2293.8" cy="468.8" r="2.3" fill="#258a3a"/><circle cx="2329.4" cy="492.6" r="2.3" fill="#ef6b7a"/><circle cx="2287.5" cy="471.5" r="2.3" fill="#258a3a"/><circle cx="2321.3" cy="472.4" r="2.3" fill="#258a3a"/><circle cx="2332.6" cy="477.7" r="2.3" fill="#258a3a"/><circle cx="2338.0" cy="471.8" r="2.3" fill="#258a3a"/><circle cx="2272.3" cy="453.7" r="2.3" fill="#258a3a"/><circle cx="2268.6" cy="428.9" r="2.3" fill="#258a3a"/><circle cx="2340.6" cy="491.2" r="2.3" fill="#258a3a"/><circle cx="2329.8" cy="468.2" r="2.3" fill="#ef6b7a"/><circle cx="2273.2" cy="454.6" r="2.3" fill="#5fc8ec"/><circle cx="2271.1" cy="432.9" r="2.3" fill="#258a3a"/><circle cx="2256.3" cy="417.3" r="2.3" fill="#258a3a"/><circle cx="2254.8" cy="424.6" r="2.3" fill="#258a3a"/><circle cx="2268.2" cy="433.4" r="2.3" fill="#5fc8ec"/><circle cx="2346.5" cy="479.9" r="2.3" fill="#258a3a"/><circle cx="2318.2" cy="470.5" r="2.3" fill="#258a3a"/><circle cx="2253.3" cy="453.4" r="2.3" fill="#258a3a"/><circle cx="2330.4" cy="474.0" r="2.3" fill="#258a3a"/><circle cx="2320.9" cy="467.7" r="2.3" fill="#258a3a"/><circle cx="2269.1" cy="444.9" r="2.3" fill="#258a3a"/><circle cx="2335.8" cy="496.4" r="2.3" fill="#258a3a"/><circle cx="2296.6" cy="462.6" r="2.3" fill="#258a3a"/><circle cx="2315.6" cy="476.7" r="2.3" fill="#258a3a"/><circle cx="2257.3" cy="445.8" r="2.3" fill="#ef6b7a"/><circle cx="2343.8" cy="459.4" r="2.3" fill="#258a3a"/><circle cx="2256.3" cy="434.0" r="2.3" fill="#258a3a"/><circle cx="2337.4" cy="481.0" r="2.3" fill="#ef6b7a"/><circle cx="2273.5" cy="447.2" r="2.3" fill="#258a3a"/><circle cx="2273.4" cy="453.6" r="2.3" fill="#cbb843"/><circle cx="2311.8" cy="471.1" r="2.3" fill="#258a3a"/><circle cx="2334.6" cy="484.5" r="2.3" fill="#258a3a"/><circle cx="2263.3" cy="438.9" r="2.3" fill="#258a3a"/><circle cx="2333.2" cy="488.8" r="2.3" fill="#258a3a"/><circle cx="2272.3" cy="447.8" r="2.3" fill="#5fc8ec"/><circle cx="2337.6" cy="479.8" r="2.3" fill="#258a3a"/><circle cx="2304.8" cy="460.6" r="2.3" fill="#5fc8ec"/><circle cx="2289.9" cy="446.6" r="2.3" fill="#258a3a"/><circle cx="2293.7" cy="469.7" r="2.3" fill="#ef6b7a"/><circle cx="2292.0" cy="458.7" r="2.3" fill="#258a3a"/><circle cx="2237.7" cy="417.3" r="2.2" fill="#cbb843"/><circle cx="2211.2" cy="415.9" r="2.2" fill="#cbb843"/><circle cx="2237.9" cy="422.2" r="2.2" fill="#cbb843"/><circle cx="2242.4" cy="389.1" r="2.2" fill="#cbb843"/><circle cx="2245.8" cy="418.9" r="2.2" fill="#cbb843"/><circle cx="2223.6" cy="405.5" r="2.2" fill="#cbb843"/><circle cx="2233.7" cy="426.0" r="2.2" fill="#cbb843"/><circle cx="2211.0" cy="413.9" r="2.2" fill="#cbb843"/><circle cx="2224.4" cy="386.2" r="2.2" fill="#cbb843"/><circle cx="2215.6" cy="394.3" r="2.2" fill="#cbb843"/><circle cx="2238.3" cy="383.6" r="2.2" fill="#cbb843"/><circle cx="2237.8" cy="384.9" r="2.2" fill="#cbb843"/><circle cx="2250.6" cy="418.8" r="2.2" fill="#cbb843"/><circle cx="2237.3" cy="421.5" r="2.2" fill="#cbb843"/><circle cx="2222.5" cy="394.1" r="2.2" fill="#cbb843"/><circle cx="2246.9" cy="397.4" r="2.2" fill="#cbb843"/><circle cx="2226.5" cy="411.1" r="2.2" fill="#cbb843"/><circle cx="2224.9" cy="394.2" r="2.2" fill="#cbb843"/><circle cx="2237.8" cy="402.1" r="2.2" fill="#cbb843"/><circle cx="2221.6" cy="409.1" r="2.2" fill="#cbb843"/><circle cx="2220.4" cy="390.5" r="2.2" fill="#cbb843"/><circle cx="2228.1" cy="381.6" r="2.2" fill="#cbb843"/><circle cx="2236.6" cy="412.5" r="2.2" fill="#cbb843"/><circle cx="2215.9" cy="401.9" r="2.2" fill="#cbb843"/><circle cx="2208.3" cy="382.5" r="2.2" fill="#cbb843"/><circle cx="2230.0" cy="409.0" r="2.2" fill="#cbb843"/><circle cx="2236.0" cy="402.2" r="2.2" fill="#cbb843"/><circle cx="2244.1" cy="388.6" r="2.2" fill="#cbb843"/><circle cx="2233.0" cy="376.0" r="2.2" fill="#cbb843"/><circle cx="2219.7" cy="405.5" r="2.2" fill="#cbb843"/><circle cx="2221.8" cy="403.2" r="2.2" fill="#cbb843"/><circle cx="2249.3" cy="388.8" r="2.2" fill="#cbb843"/><circle cx="2219.9" cy="397.9" r="2.2" fill="#cbb843"/><circle cx="2231.6" cy="400.7" r="2.2" fill="#cbb843"/><circle cx="2212.0" cy="382.4" r="2.2" fill="#cbb843"/><circle cx="2251.1" cy="390.5" r="2.2" fill="#cbb843"/><circle cx="2243.1" cy="422.0" r="2.2" fill="#cbb843"/><circle cx="2240.3" cy="394.8" r="2.2" fill="#cbb843"/><circle cx="2209.9" cy="413.7" r="2.2" fill="#cbb843"/><circle cx="2251.6" cy="397.5" r="2.2" fill="#cbb843"/><circle cx="2235.3" cy="388.8" r="2.2" fill="#cbb843"/><circle cx="2218.7" cy="418.5" r="2.2" fill="#cbb843"/><circle cx="2213.8" cy="406.9" r="2.2" fill="#cbb843"/><circle cx="2252.0" cy="418.6" r="2.2" fill="#cbb843"/><circle cx="2234.1" cy="379.2" r="2.2" fill="#cbb843"/><path d="M2318.0 478.0 C2320.5 475.3 2332.2 480.7 2340.0 482.0 C2347.8 483.3 2355.8 485.0 2365.0 486.0 C2374.2 487.0 2388.0 486.5 2395.0 488.0 C2402.0 489.5 2405.5 491.3 2407.0 495.0 C2408.5 498.7 2406.5 505.2 2404.0 510.0 C2401.5 514.8 2397.3 520.0 2392.0 524.0 C2386.7 528.0 2379.0 533.0 2372.0 534.0 C2365.0 535.0 2356.2 533.2 2350.0 530.0 C2343.8 526.8 2339.2 520.3 2335.0 515.0 C2330.8 509.7 2327.8 504.2 2325.0 498.0 C2322.2 491.8 2315.5 480.7 2318.0 478.0Z" fill="#a8327b" /><g clip-path="url(#cmag2)"><rect x="2336.3" y="501.5" width="2.4" height="2.4" fill="#5fc8ec"/><rect x="2326.4" y="491.1" width="2.4" height="2.4" fill="#5fc8ec"/><rect x="2351.5" y="490.4" width="2.4" height="2.4" fill="#5fc8ec"/><rect x="2394.9" y="496.1" width="2.4" height="2.4" fill="#5fc8ec"/><rect x="2383.3" y="482.7" width="2.4" height="2.4" fill="#5fc8ec"/><rect x="2365.1" y="503.4" width="2.4" height="2.4" fill="#5fc8ec"/><rect x="2376.1" y="490.9" width="2.4" height="2.4" fill="#5fc8ec"/><rect x="2399.6" y="484.4" width="2.4" height="2.4" fill="#5fc8ec"/><rect x="2325.2" y="489.9" width="2.4" height="2.4" fill="#5fc8ec"/><rect x="2330.8" y="498.8" width="2.4" height="2.4" fill="#5fc8ec"/><rect x="2320.8" y="485.8" width="2.4" height="2.4" fill="#5fc8ec"/><rect x="2336.0" y="493.5" width="2.4" height="2.4" fill="#5fc8ec"/><rect x="2394.1" y="487.3" width="2.4" height="2.4" fill="#5fc8ec"/><rect x="2346.4" y="489.7" width="2.4" height="2.4" fill="#5fc8ec"/><rect x="2356.8" y="482.3" width="2.4" height="2.4" fill="#5fc8ec"/><rect x="2387.8" y="494.3" width="2.4" height="2.4" fill="#5fc8ec"/><rect x="2321.2" y="492.4" width="2.4" height="2.4" fill="#5fc8ec"/><rect x="2387.9" y="485.4" width="2.4" height="2.4" fill="#5fc8ec"/><rect x="2356.3" y="500.6" width="2.4" height="2.4" fill="#5fc8ec"/><rect x="2336.0" y="488.4" width="2.4" height="2.4" fill="#5fc8ec"/><rect x="2389.0" y="493.8" width="2.4" height="2.4" fill="#5fc8ec"/><rect x="2379.8" y="501.1" width="2.4" height="2.4" fill="#5fc8ec"/><rect x="2331.2" y="490.2" width="2.4" height="2.4" fill="#5fc8ec"/><rect x="2324.0" y="495.7" width="2.4" height="2.4" fill="#5fc8ec"/><rect x="2345.6" y="484.8" width="2.4" height="2.4" fill="#5fc8ec"/><rect x="2398.6" y="484.7" width="2.4" height="2.4" fill="#5fc8ec"/><rect x="2363.1" y="493.0" width="2.4" height="2.4" fill="#5fc8ec"/><rect x="2326.9" y="489.6" width="2.4" height="2.4" fill="#5fc8ec"/><rect x="2373.1" y="487.5" width="2.4" height="2.4" fill="#5fc8ec"/><rect x="2351.6" y="502.1" width="2.4" height="2.4" fill="#5fc8ec"/></g><circle cx="2214" cy="433.6" r="2" fill="#111"/></g>
<g><g stroke-width="2.4" stroke-linecap="round" stroke-opacity="0.95"><line x1="2612.0" y1="341.0" x2="2598.1" y2="296.4" stroke="#86c8da"/><line x1="2612.0" y1="341.0" x2="2581.2" y2="302.1" stroke="#86c8da"/><line x1="2612.0" y1="341.0" x2="2582.4" y2="310.0" stroke="#86c8da"/><line x1="2612.0" y1="341.0" x2="2592.0" y2="283.9" stroke="#86c8da"/><line x1="2612.0" y1="341.0" x2="2600.6" y2="299.4" stroke="#86c8da"/><line x1="2612.0" y1="341.0" x2="2579.1" y2="303.3" stroke="#86c8da"/><line x1="2612.0" y1="341.0" x2="2559.1" y2="310.8" stroke="#86c8da"/><line x1="2612.0" y1="341.0" x2="2572.2" y2="320.3" stroke="#86c8da"/><line x1="2612.0" y1="341.0" x2="2577.4" y2="312.9" stroke="#86c8da"/><line x1="2612.0" y1="341.0" x2="2593.5" y2="295.7" stroke="#86c8da"/><line x1="2612.0" y1="341.0" x2="2577.6" y2="312.9" stroke="#86c8da"/><line x1="2612.0" y1="341.0" x2="2608.3" y2="298.4" stroke="#86c8da"/><line x1="2612.0" y1="341.0" x2="2608.6" y2="283.2" stroke="#86c8da"/><line x1="2612.0" y1="341.0" x2="2561.8" y2="316.5" stroke="#86c8da"/><line x1="2612.0" y1="341.0" x2="2575.9" y2="314.3" stroke="#86c8da"/><line x1="2612.0" y1="341.0" x2="2599.4" y2="284.7" stroke="#86c8da"/><line x1="2612.0" y1="341.0" x2="2565.9" y2="307.3" stroke="#86c8da"/><line x1="2612.0" y1="341.0" x2="2587.7" y2="297.0" stroke="#86c8da"/><line x1="2612.0" y1="341.0" x2="2576.9" y2="319.6" stroke="#86c8da"/><line x1="2612.0" y1="341.0" x2="2605.6" y2="285.8" stroke="#86c8da"/><line x1="2612.0" y1="341.0" x2="2577.9" y2="292.8" stroke="#86c8da"/><line x1="2612.0" y1="341.0" x2="2576.1" y2="316.4" stroke="#86c8da"/><line x1="2612.0" y1="341.0" x2="2599.8" y2="283.0" stroke="#86c8da"/><line x1="2612.0" y1="341.0" x2="2597.1" y2="287.2" stroke="#86c8da"/><line x1="2612.0" y1="341.0" x2="2574.0" y2="305.4" stroke="#86c8da"/><line x1="2612.0" y1="341.0" x2="2613.1" y2="286.4" stroke="#86c8da"/><line x1="2612.0" y1="341.0" x2="2614.6" y2="293.9" stroke="#86c8da"/><line x1="2612.0" y1="341.0" x2="2573.8" y2="302.3" stroke="#86c8da"/><line x1="2612.0" y1="341.0" x2="2578.3" y2="313.8" stroke="#86c8da"/><line x1="2612.0" y1="341.0" x2="2576.7" y2="299.5" stroke="#86c8da"/><line x1="2612.0" y1="341.0" x2="2591.4" y2="306.3" stroke="#86c8da"/><line x1="2612.0" y1="341.0" x2="2609.1" y2="281.0" stroke="#86c8da"/><line x1="2612.0" y1="341.0" x2="2578.8" y2="308.2" stroke="#86c8da"/><line x1="2612.0" y1="341.0" x2="2602.7" y2="297.6" stroke="#86c8da"/><line x1="2612.0" y1="341.0" x2="2600.9" y2="285.3" stroke="#86c8da"/><line x1="2612.0" y1="341.0" x2="2592.7" y2="298.6" stroke="#86c8da"/><line x1="2612.0" y1="341.0" x2="2578.1" y2="319.8" stroke="#86c8da"/><line x1="2612.0" y1="341.0" x2="2617.3" y2="306.9" stroke="#86c8da"/><line x1="2612.0" y1="341.0" x2="2620.8" y2="304.9" stroke="#86c8da"/><line x1="2612.0" y1="341.0" x2="2619.7" y2="310.3" stroke="#86c8da"/><line x1="2612.0" y1="341.0" x2="2629.4" y2="304.0" stroke="#86c8da"/><line x1="2612.0" y1="341.0" x2="2624.7" y2="312.0" stroke="#86c8da"/><line x1="2612.0" y1="341.0" x2="2624.1" y2="306.9" stroke="#86c8da"/><line x1="2612.0" y1="341.0" x2="2623.3" y2="300.0" stroke="#86c8da"/><line x1="2612.0" y1="341.0" x2="2628.2" y2="303.3" stroke="#86c8da"/><line x1="2586.5" y1="370.0" x2="2546.5" y2="384.6" stroke="#86c8da"/><line x1="2586.5" y1="370.0" x2="2544.8" y2="376.5" stroke="#86c8da"/><line x1="2586.5" y1="370.0" x2="2548.9" y2="389.4" stroke="#86c8da"/><line x1="2586.5" y1="370.0" x2="2540.0" y2="379.5" stroke="#86c8da"/><line x1="2586.5" y1="370.0" x2="2542.5" y2="345.6" stroke="#86c8da"/><line x1="2586.5" y1="370.0" x2="2540.5" y2="393.0" stroke="#86c8da"/><line x1="2586.5" y1="370.0" x2="2537.0" y2="386.9" stroke="#86c8da"/><line x1="2586.5" y1="370.0" x2="2546.7" y2="365.1" stroke="#86c8da"/><line x1="2586.5" y1="370.0" x2="2546.0" y2="381.5" stroke="#86c8da"/><line x1="2586.5" y1="370.0" x2="2534.7" y2="367.0" stroke="#86c8da"/><line x1="2586.5" y1="370.0" x2="2547.7" y2="377.0" stroke="#86c8da"/><line x1="2586.5" y1="370.0" x2="2548.7" y2="355.3" stroke="#86c8da"/><line x1="2586.5" y1="370.0" x2="2537.8" y2="386.9" stroke="#86c8da"/><line x1="2586.5" y1="370.0" x2="2535.1" y2="385.5" stroke="#86c8da"/><line x1="2586.5" y1="370.0" x2="2552.1" y2="352.3" stroke="#86c8da"/><line x1="2586.5" y1="370.0" x2="2547.8" y2="375.8" stroke="#86c8da"/><line x1="2586.5" y1="370.0" x2="2541.8" y2="374.9" stroke="#86c8da"/><line x1="2586.5" y1="370.0" x2="2546.4" y2="343.8" stroke="#86c8da"/><line x1="2586.5" y1="370.0" x2="2545.4" y2="390.5" stroke="#86c8da"/><line x1="2681.0" y1="345.0" x2="2714.2" y2="320.4" stroke="#86c8da"/><line x1="2681.0" y1="345.0" x2="2723.3" y2="307.1" stroke="#86c8da"/><line x1="2681.0" y1="345.0" x2="2725.1" y2="321.8" stroke="#86c8da"/><line x1="2681.0" y1="345.0" x2="2709.9" y2="318.3" stroke="#86c8da"/><line x1="2681.0" y1="345.0" x2="2730.6" y2="326.3" stroke="#86c8da"/><line x1="2681.0" y1="345.0" x2="2677.7" y2="295.4" stroke="#86c8da"/><line x1="2681.0" y1="345.0" x2="2729.6" y2="335.6" stroke="#86c8da"/><line x1="2681.0" y1="345.0" x2="2719.5" y2="338.7" stroke="#86c8da"/><line x1="2681.0" y1="345.0" x2="2695.2" y2="296.5" stroke="#86c8da"/><line x1="2681.0" y1="345.0" x2="2688.6" y2="300.1" stroke="#86c8da"/><line x1="2681.0" y1="345.0" x2="2676.2" y2="293.8" stroke="#86c8da"/><line x1="2681.0" y1="345.0" x2="2724.7" y2="309.9" stroke="#86c8da"/><line x1="2681.0" y1="345.0" x2="2684.5" y2="301.1" stroke="#86c8da"/><line x1="2681.0" y1="345.0" x2="2736.5" y2="343.7" stroke="#86c8da"/><line x1="2681.0" y1="345.0" x2="2694.9" y2="303.3" stroke="#86c8da"/><line x1="2681.0" y1="345.0" x2="2704.3" y2="312.9" stroke="#86c8da"/><line x1="2681.0" y1="345.0" x2="2697.7" y2="310.1" stroke="#86c8da"/><line x1="2681.0" y1="345.0" x2="2722.6" y2="347.9" stroke="#86c8da"/><line x1="2681.0" y1="345.0" x2="2696.0" y2="298.6" stroke="#86c8da"/><line x1="2681.0" y1="345.0" x2="2674.9" y2="294.8" stroke="#86c8da"/><line x1="2681.0" y1="345.0" x2="2726.3" y2="338.3" stroke="#86c8da"/><line x1="2681.0" y1="345.0" x2="2670.0" y2="305.1" stroke="#86c8da"/><line x1="2681.0" y1="345.0" x2="2733.6" y2="326.9" stroke="#86c8da"/><line x1="2681.0" y1="345.0" x2="2685.0" y2="300.8" stroke="#86c8da"/><line x1="2681.0" y1="345.0" x2="2727.4" y2="326.1" stroke="#86c8da"/><line x1="2681.0" y1="345.0" x2="2719.9" y2="335.3" stroke="#86c8da"/><line x1="2681.0" y1="345.0" x2="2712.8" y2="305.0" stroke="#86c8da"/><line x1="2681.0" y1="345.0" x2="2727.0" y2="310.2" stroke="#86c8da"/><line x1="2681.0" y1="345.0" x2="2726.7" y2="321.6" stroke="#86c8da"/><line x1="2681.0" y1="345.0" x2="2719.3" y2="325.4" stroke="#86c8da"/><line x1="2681.0" y1="345.0" x2="2704.6" y2="307.1" stroke="#86c8da"/><line x1="2681.0" y1="345.0" x2="2683.7" y2="301.0" stroke="#86c8da"/><line x1="2681.0" y1="345.0" x2="2727.0" y2="311.8" stroke="#86c8da"/><line x1="2681.0" y1="345.0" x2="2657.6" y2="299.6" stroke="#86c8da"/><line x1="2681.0" y1="345.0" x2="2712.4" y2="322.9" stroke="#86c8da"/><line x1="2681.0" y1="345.0" x2="2720.8" y2="338.3" stroke="#86c8da"/><line x1="2681.0" y1="345.0" x2="2685.6" y2="297.0" stroke="#86c8da"/><line x1="2681.0" y1="345.0" x2="2713.7" y2="311.0" stroke="#86c8da"/><line x1="2681.0" y1="345.0" x2="2698.7" y2="311.2" stroke="#86c8da"/><line x1="2681.0" y1="345.0" x2="2681.2" y2="303.2" stroke="#86c8da"/><line x1="2681.0" y1="345.0" x2="2710.9" y2="295.3" stroke="#86c8da"/><line x1="2681.0" y1="345.0" x2="2719.3" y2="301.9" stroke="#86c8da"/><line x1="2681.0" y1="345.0" x2="2708.3" y2="307.8" stroke="#86c8da"/><line x1="2681.0" y1="345.0" x2="2731.8" y2="343.7" stroke="#86c8da"/><line x1="2681.0" y1="345.0" x2="2726.2" y2="346.3" stroke="#86c8da"/><line x1="2681.0" y1="345.0" x2="2687.8" y2="290.8" stroke="#86c8da"/><line x1="2681.0" y1="345.0" x2="2657.6" y2="302.3" stroke="#86c8da"/><line x1="2681.0" y1="345.0" x2="2672.6" y2="291.5" stroke="#86c8da"/><line x1="2681.0" y1="345.0" x2="2685.3" y2="296.8" stroke="#86c8da"/><line x1="2681.0" y1="345.0" x2="2730.4" y2="338.9" stroke="#86c8da"/><line x1="2681.0" y1="345.0" x2="2722.3" y2="326.6" stroke="#86c8da"/><line x1="2681.0" y1="345.0" x2="2681.4" y2="289.2" stroke="#86c8da"/><line x1="2681.0" y1="345.0" x2="2721.5" y2="305.5" stroke="#86c8da"/><line x1="2681.0" y1="345.0" x2="2717.4" y2="318.2" stroke="#86c8da"/><line x1="2681.0" y1="345.0" x2="2725.0" y2="327.3" stroke="#86c8da"/><line x1="2681.0" y1="345.0" x2="2731.3" y2="340.9" stroke="#86c8da"/><line x1="2681.0" y1="345.0" x2="2693.8" y2="305.8" stroke="#86c8da"/><line x1="2681.0" y1="345.0" x2="2659.7" y2="307.0" stroke="#86c8da"/><line x1="2681.0" y1="345.0" x2="2723.7" y2="310.4" stroke="#86c8da"/><line x1="2681.0" y1="345.0" x2="2661.6" y2="303.5" stroke="#86c8da"/><line x1="2681.0" y1="345.0" x2="2696.3" y2="293.0" stroke="#86c8da"/><line x1="2681.0" y1="345.0" x2="2710.2" y2="302.0" stroke="#86c8da"/><line x1="2681.0" y1="345.0" x2="2712.0" y2="312.1" stroke="#86c8da"/><line x1="2681.0" y1="345.0" x2="2735.7" y2="335.5" stroke="#86c8da"/><line x1="2681.0" y1="345.0" x2="2718.5" y2="305.3" stroke="#86c8da"/><line x1="2681.0" y1="345.0" x2="2728.8" y2="314.6" stroke="#86c8da"/><line x1="2681.0" y1="345.0" x2="2670.0" y2="293.7" stroke="#86c8da"/><line x1="2681.0" y1="345.0" x2="2665.5" y2="301.6" stroke="#86c8da"/><line x1="2681.0" y1="345.0" x2="2731.7" y2="324.2" stroke="#86c8da"/><line x1="2699.0" y1="404.0" x2="2740.7" y2="390.8" stroke="#86c8da"/><line x1="2699.0" y1="404.0" x2="2739.0" y2="398.4" stroke="#86c8da"/><line x1="2699.0" y1="404.0" x2="2749.1" y2="384.4" stroke="#86c8da"/><line x1="2699.0" y1="404.0" x2="2741.8" y2="378.9" stroke="#86c8da"/><line x1="2699.0" y1="404.0" x2="2729.4" y2="381.1" stroke="#86c8da"/><line x1="2699.0" y1="404.0" x2="2738.5" y2="381.7" stroke="#86c8da"/><line x1="2699.0" y1="404.0" x2="2749.9" y2="397.6" stroke="#86c8da"/><line x1="2699.0" y1="404.0" x2="2739.2" y2="402.9" stroke="#86c8da"/><line x1="2699.0" y1="404.0" x2="2741.0" y2="402.7" stroke="#86c8da"/><line x1="2699.0" y1="404.0" x2="2733.3" y2="386.3" stroke="#86c8da"/><line x1="2699.0" y1="404.0" x2="2743.5" y2="405.4" stroke="#86c8da"/><line x1="2699.0" y1="404.0" x2="2750.9" y2="394.0" stroke="#86c8da"/><line x1="2699.0" y1="404.0" x2="2749.1" y2="404.3" stroke="#86c8da"/><line x1="2699.0" y1="404.0" x2="2744.5" y2="393.7" stroke="#86c8da"/><line x1="2699.0" y1="404.0" x2="2742.3" y2="404.5" stroke="#86c8da"/><line x1="2699.0" y1="404.0" x2="2750.4" y2="390.8" stroke="#86c8da"/><line x1="2699.0" y1="404.0" x2="2735.4" y2="374.6" stroke="#86c8da"/><line x1="2699.0" y1="404.0" x2="2740.7" y2="406.1" stroke="#86c8da"/><line x1="2699.0" y1="404.0" x2="2744.4" y2="399.5" stroke="#86c8da"/><line x1="2699.0" y1="404.0" x2="2746.9" y2="407.3" stroke="#86c8da"/><line x1="2699.0" y1="404.0" x2="2735.9" y2="374.6" stroke="#86c8da"/><line x1="2699.0" y1="404.0" x2="2739.8" y2="390.5" stroke="#86c8da"/><line x1="2699.0" y1="404.0" x2="2745.9" y2="406.8" stroke="#86c8da"/><line x1="2699.0" y1="404.0" x2="2749.2" y2="390.6" stroke="#86c8da"/><line x1="2699.0" y1="404.0" x2="2735.2" y2="433.3" stroke="#86c8da"/><line x1="2699.0" y1="404.0" x2="2737.0" y2="410.0" stroke="#86c8da"/><line x1="2699.0" y1="404.0" x2="2740.7" y2="411.9" stroke="#86c8da"/><line x1="2699.0" y1="404.0" x2="2735.1" y2="411.0" stroke="#86c8da"/><line x1="2699.0" y1="404.0" x2="2751.1" y2="418.6" stroke="#86c8da"/><line x1="2699.0" y1="404.0" x2="2743.1" y2="415.7" stroke="#86c8da"/><line x1="2699.0" y1="404.0" x2="2746.1" y2="412.4" stroke="#86c8da"/><line x1="2699.0" y1="404.0" x2="2750.9" y2="420.1" stroke="#86c8da"/><line x1="2699.0" y1="404.0" x2="2734.3" y2="420.2" stroke="#86c8da"/><line x1="2699.0" y1="404.0" x2="2737.2" y2="407.0" stroke="#86c8da"/><line x1="2699.0" y1="404.0" x2="2742.5" y2="430.2" stroke="#86c8da"/><line x1="2699.0" y1="404.0" x2="2732.5" y2="424.1" stroke="#86c8da"/><line x1="2699.0" y1="404.0" x2="2733.1" y2="426.6" stroke="#86c8da"/><line x1="2699.0" y1="404.0" x2="2748.8" y2="404.8" stroke="#86c8da"/><line x1="2699.0" y1="404.0" x2="2741.1" y2="404.5" stroke="#86c8da"/><line x1="2699.0" y1="404.0" x2="2738.9" y2="430.3" stroke="#86c8da"/><line x1="2699.0" y1="404.0" x2="2741.9" y2="420.9" stroke="#86c8da"/><line x1="2699.0" y1="404.0" x2="2737.1" y2="419.9" stroke="#86c8da"/><line x1="2699.0" y1="404.0" x2="2748.7" y2="407.7" stroke="#86c8da"/><line x1="2699.0" y1="404.0" x2="2722.4" y2="437.1" stroke="#86c8da"/><line x1="2699.0" y1="404.0" x2="2717.0" y2="446.5" stroke="#86c8da"/><line x1="2699.0" y1="404.0" x2="2732.9" y2="448.5" stroke="#86c8da"/><line x1="2699.0" y1="404.0" x2="2732.8" y2="435.4" stroke="#86c8da"/><line x1="2699.0" y1="404.0" x2="2717.4" y2="458.6" stroke="#86c8da"/><line x1="2699.0" y1="404.0" x2="2722.3" y2="442.0" stroke="#86c8da"/><line x1="2699.0" y1="404.0" x2="2730.6" y2="445.0" stroke="#86c8da"/><line x1="2699.0" y1="404.0" x2="2729.8" y2="436.8" stroke="#86c8da"/><line x1="2699.0" y1="404.0" x2="2727.5" y2="449.8" stroke="#86c8da"/><line x1="2616.0" y1="436.0" x2="2568.1" y2="464.2" stroke="#86c8da"/><line x1="2616.0" y1="436.0" x2="2584.3" y2="456.2" stroke="#86c8da"/><line x1="2616.0" y1="436.0" x2="2580.4" y2="434.3" stroke="#86c8da"/><line x1="2616.0" y1="436.0" x2="2588.8" y2="411.0" stroke="#86c8da"/><line x1="2616.0" y1="436.0" x2="2572.9" y2="457.6" stroke="#86c8da"/><line x1="2616.0" y1="436.0" x2="2579.8" y2="413.2" stroke="#86c8da"/><line x1="2616.0" y1="436.0" x2="2563.4" y2="439.2" stroke="#86c8da"/><line x1="2616.0" y1="436.0" x2="2587.6" y2="463.7" stroke="#86c8da"/><line x1="2616.0" y1="436.0" x2="2585.2" y2="415.0" stroke="#86c8da"/><line x1="2616.0" y1="436.0" x2="2581.5" y2="407.0" stroke="#86c8da"/><line x1="2616.0" y1="436.0" x2="2575.9" y2="404.9" stroke="#86c8da"/><line x1="2616.0" y1="436.0" x2="2571.9" y2="416.8" stroke="#86c8da"/><line x1="2616.0" y1="436.0" x2="2583.2" y2="415.1" stroke="#86c8da"/><line x1="2616.0" y1="436.0" x2="2567.3" y2="404.9" stroke="#86c8da"/><line x1="2616.0" y1="436.0" x2="2560.8" y2="438.6" stroke="#86c8da"/><line x1="2616.0" y1="436.0" x2="2577.6" y2="462.2" stroke="#86c8da"/><line x1="2616.0" y1="436.0" x2="2565.2" y2="419.5" stroke="#86c8da"/><line x1="2616.0" y1="436.0" x2="2581.8" y2="469.7" stroke="#86c8da"/><line x1="2616.0" y1="436.0" x2="2568.8" y2="457.8" stroke="#86c8da"/><line x1="2616.0" y1="436.0" x2="2564.6" y2="458.0" stroke="#86c8da"/><line x1="2616.0" y1="436.0" x2="2583.6" y2="468.3" stroke="#86c8da"/><line x1="2616.0" y1="436.0" x2="2572.1" y2="399.5" stroke="#86c8da"/><line x1="2616.0" y1="436.0" x2="2579.9" y2="467.4" stroke="#86c8da"/><line x1="2616.0" y1="436.0" x2="2580.4" y2="440.9" stroke="#86c8da"/><line x1="2616.0" y1="436.0" x2="2559.0" y2="437.9" stroke="#86c8da"/><line x1="2616.0" y1="436.0" x2="2585.3" y2="415.0" stroke="#86c8da"/><line x1="2616.0" y1="436.0" x2="2566.9" y2="433.8" stroke="#86c8da"/><line x1="2616.0" y1="436.0" x2="2559.0" y2="435.1" stroke="#86c8da"/><line x1="2616.0" y1="436.0" x2="2585.6" y2="415.4" stroke="#86c8da"/><line x1="2616.0" y1="436.0" x2="2580.0" y2="427.5" stroke="#86c8da"/><line x1="2616.0" y1="436.0" x2="2563.6" y2="426.6" stroke="#86c8da"/><line x1="2616.0" y1="436.0" x2="2568.4" y2="420.0" stroke="#86c8da"/><line x1="2616.0" y1="436.0" x2="2565.7" y2="439.4" stroke="#86c8da"/><line x1="2616.0" y1="436.0" x2="2580.7" y2="453.4" stroke="#86c8da"/><line x1="2616.0" y1="436.0" x2="2581.7" y2="415.9" stroke="#86c8da"/><line x1="2616.0" y1="436.0" x2="2569.0" y2="417.8" stroke="#86c8da"/><line x1="2616.0" y1="436.0" x2="2579.6" y2="429.5" stroke="#86c8da"/><line x1="2616.0" y1="436.0" x2="2580.4" y2="425.8" stroke="#86c8da"/><line x1="2616.0" y1="436.0" x2="2568.4" y2="403.5" stroke="#86c8da"/><line x1="2616.0" y1="436.0" x2="2576.5" y2="450.6" stroke="#86c8da"/><line x1="2616.0" y1="436.0" x2="2567.7" y2="436.4" stroke="#86c8da"/><line x1="2616.0" y1="436.0" x2="2583.4" y2="453.1" stroke="#86c8da"/><line x1="2616.0" y1="436.0" x2="2565.5" y2="421.1" stroke="#86c8da"/><line x1="2616.0" y1="436.0" x2="2559.3" y2="446.3" stroke="#86c8da"/><line x1="2616.0" y1="436.0" x2="2576.4" y2="431.3" stroke="#86c8da"/><line x1="2616.0" y1="436.0" x2="2582.0" y2="421.8" stroke="#86c8da"/><line x1="2616.0" y1="436.0" x2="2576.2" y2="469.1" stroke="#86c8da"/><line x1="2616.0" y1="436.0" x2="2569.0" y2="466.4" stroke="#86c8da"/><line x1="2635.0" y1="463.5" x2="2658.9" y2="511.5" stroke="#86c8da"/><line x1="2635.0" y1="463.5" x2="2645.0" y2="505.3" stroke="#86c8da"/><line x1="2635.0" y1="463.5" x2="2617.8" y2="500.3" stroke="#86c8da"/><line x1="2635.0" y1="463.5" x2="2649.5" y2="504.6" stroke="#86c8da"/><line x1="2635.0" y1="463.5" x2="2624.0" y2="512.7" stroke="#86c8da"/><line x1="2635.0" y1="463.5" x2="2616.6" y2="516.9" stroke="#86c8da"/><line x1="2635.0" y1="463.5" x2="2619.8" y2="500.8" stroke="#86c8da"/><line x1="2635.0" y1="463.5" x2="2642.1" y2="515.0" stroke="#86c8da"/><line x1="2635.0" y1="463.5" x2="2619.3" y2="500.3" stroke="#86c8da"/><line x1="2635.0" y1="463.5" x2="2646.9" y2="509.5" stroke="#86c8da"/><line x1="2635.0" y1="463.5" x2="2648.6" y2="501.9" stroke="#86c8da"/><line x1="2635.0" y1="463.5" x2="2637.0" y2="510.9" stroke="#86c8da"/><line x1="2635.0" y1="463.5" x2="2653.8" y2="509.9" stroke="#86c8da"/><line x1="2635.0" y1="463.5" x2="2659.4" y2="512.3" stroke="#86c8da"/><line x1="2635.0" y1="463.5" x2="2605.1" y2="516.1" stroke="#86c8da"/><line x1="2635.0" y1="463.5" x2="2616.2" y2="514.0" stroke="#86c8da"/><line x1="2635.0" y1="463.5" x2="2650.4" y2="518.0" stroke="#86c8da"/><line x1="2635.0" y1="463.5" x2="2621.0" y2="511.0" stroke="#86c8da"/><line x1="2635.0" y1="463.5" x2="2607.0" y2="509.0" stroke="#86c8da"/><line x1="2635.0" y1="463.5" x2="2655.0" y2="521.0" stroke="#86c8da"/><line x1="2635.0" y1="463.5" x2="2638.8" y2="510.9" stroke="#86c8da"/><line x1="2635.0" y1="463.5" x2="2659.1" y2="517.4" stroke="#86c8da"/><line x1="2635.0" y1="463.5" x2="2625.4" y2="517.1" stroke="#86c8da"/><line x1="2635.0" y1="463.5" x2="2649.7" y2="502.3" stroke="#86c8da"/><line x1="2635.0" y1="463.5" x2="2638.3" y2="505.1" stroke="#86c8da"/><line x1="2635.0" y1="463.5" x2="2631.5" y2="505.0" stroke="#86c8da"/><line x1="2635.0" y1="463.5" x2="2628.9" y2="519.1" stroke="#86c8da"/><line x1="2635.0" y1="463.5" x2="2631.7" y2="522.7" stroke="#86c8da"/><line x1="2635.0" y1="463.5" x2="2635.8" y2="523.3" stroke="#86c8da"/><line x1="2635.0" y1="463.5" x2="2639.2" y2="518.7" stroke="#86c8da"/><line x1="2635.0" y1="463.5" x2="2601.6" y2="512.5" stroke="#86c8da"/><line x1="2635.0" y1="463.5" x2="2635.0" y2="510.6" stroke="#86c8da"/><line x1="2635.0" y1="463.5" x2="2639.8" y2="520.6" stroke="#86c8da"/><line x1="2635.0" y1="463.5" x2="2648.5" y2="509.3" stroke="#86c8da"/><line x1="2635.0" y1="463.5" x2="2624.2" y2="521.1" stroke="#86c8da"/><line x1="2635.0" y1="463.5" x2="2658.4" y2="515.7" stroke="#86c8da"/><line x1="2635.0" y1="463.5" x2="2642.7" y2="508.6" stroke="#86c8da"/><line x1="2635.0" y1="463.5" x2="2633.7" y2="521.9" stroke="#86c8da"/><line x1="2635.0" y1="463.5" x2="2644.8" y2="504.3" stroke="#86c8da"/><line x1="2635.0" y1="463.5" x2="2655.4" y2="505.3" stroke="#86c8da"/><line x1="2635.0" y1="463.5" x2="2604.2" y2="515.7" stroke="#86c8da"/><line x1="2635.0" y1="463.5" x2="2631.0" y2="507.2" stroke="#86c8da"/><line x1="2635.0" y1="463.5" x2="2620.2" y2="509.3" stroke="#86c8da"/><line x1="2634.0" y1="394.0" x2="2620.7" y2="372.0" stroke="#86c8da"/><line x1="2634.0" y1="394.0" x2="2646.0" y2="414.5" stroke="#86c8da"/><line x1="2634.0" y1="394.0" x2="2655.3" y2="398.1" stroke="#86c8da"/><line x1="2634.0" y1="394.0" x2="2630.3" y2="412.1" stroke="#86c8da"/><line x1="2634.0" y1="394.0" x2="2649.4" y2="406.7" stroke="#86c8da"/><line x1="2634.0" y1="394.0" x2="2618.5" y2="404.6" stroke="#86c8da"/><line x1="2634.0" y1="394.0" x2="2612.6" y2="376.0" stroke="#86c8da"/><line x1="2634.0" y1="394.0" x2="2652.2" y2="400.7" stroke="#86c8da"/><line x1="2634.0" y1="394.0" x2="2629.2" y2="404.8" stroke="#86c8da"/><line x1="2634.0" y1="394.0" x2="2607.5" y2="399.3" stroke="#86c8da"/><line x1="2634.0" y1="394.0" x2="2650.6" y2="412.1" stroke="#86c8da"/><line x1="2634.0" y1="394.0" x2="2646.3" y2="402.7" stroke="#86c8da"/><line x1="2634.0" y1="394.0" x2="2654.6" y2="403.4" stroke="#86c8da"/><line x1="2634.0" y1="394.0" x2="2633.1" y2="413.2" stroke="#86c8da"/><line x1="2634.0" y1="394.0" x2="2643.9" y2="369.7" stroke="#86c8da"/><line x1="2634.0" y1="394.0" x2="2629.9" y2="384.2" stroke="#86c8da"/><line x1="2634.0" y1="394.0" x2="2622.8" y2="406.8" stroke="#86c8da"/><line x1="2634.0" y1="394.0" x2="2629.3" y2="403.7" stroke="#86c8da"/><line x1="2634.0" y1="394.0" x2="2622.0" y2="375.9" stroke="#86c8da"/><line x1="2634.0" y1="394.0" x2="2652.2" y2="395.8" stroke="#86c8da"/><line x1="2634.0" y1="394.0" x2="2648.1" y2="375.4" stroke="#86c8da"/><line x1="2634.0" y1="394.0" x2="2666.5" y2="399.5" stroke="#86c8da"/><line x1="2666.5" y1="399.5" x2="2699.0" y2="404.0" stroke="#86c8da"/><line x1="2634.0" y1="394.0" x2="2664.2" y2="399.4" stroke="#86c8da"/><line x1="2664.2" y1="399.4" x2="2699.0" y2="404.0" stroke="#86c8da"/><line x1="2681.0" y1="345.0" x2="2687.9" y2="381.0" stroke="#86c8da"/><line x1="2687.9" y1="381.0" x2="2699.0" y2="404.0" stroke="#86c8da"/><line x1="2681.0" y1="345.0" x2="2692.6" y2="372.9" stroke="#86c8da"/><line x1="2692.6" y1="372.9" x2="2699.0" y2="404.0" stroke="#86c8da"/><line x1="2681.0" y1="345.0" x2="2685.6" y2="380.3" stroke="#86c8da"/><line x1="2685.6" y1="380.3" x2="2699.0" y2="404.0" stroke="#86c8da"/><line x1="2586.5" y1="370.0" x2="2593.3" y2="406.3" stroke="#86c8da"/><line x1="2593.3" y1="406.3" x2="2616.0" y2="436.0" stroke="#86c8da"/><line x1="2586.5" y1="370.0" x2="2598.2" y2="410.6" stroke="#86c8da"/><line x1="2598.2" y1="410.6" x2="2616.0" y2="436.0" stroke="#86c8da"/><line x1="2586.5" y1="370.0" x2="2598.4" y2="407.7" stroke="#86c8da"/><line x1="2598.4" y1="407.7" x2="2616.0" y2="436.0" stroke="#86c8da"/><line x1="2634.0" y1="394.0" x2="2633.5" y2="415.8" stroke="#86c8da"/><line x1="2633.5" y1="415.8" x2="2616.0" y2="436.0" stroke="#86c8da"/><line x1="2616.0" y1="436.0" x2="2618.9" y2="454.2" stroke="#86c8da"/><line x1="2618.9" y1="454.2" x2="2635.0" y2="463.5" stroke="#86c8da"/><line x1="2616.0" y1="436.0" x2="2629.2" y2="447.6" stroke="#86c8da"/><line x1="2629.2" y1="447.6" x2="2635.0" y2="463.5" stroke="#86c8da"/><line x1="2616.0" y1="436.0" x2="2623.1" y2="458.7" stroke="#86c8da"/><line x1="2623.1" y1="458.7" x2="2635.0" y2="463.5" stroke="#86c8da"/><line x1="2634.0" y1="394.0" x2="2641.4" y2="430.8" stroke="#86c8da"/><line x1="2641.4" y1="430.8" x2="2635.0" y2="463.5" stroke="#86c8da"/><line x1="2612.0" y1="341.0" x2="2614.8" y2="385.7" stroke="#86c8da"/><line x1="2614.8" y1="385.7" x2="2616.0" y2="436.0" stroke="#86c8da"/><line x1="2612.0" y1="341.0" x2="2610.7" y2="394.1" stroke="#86c8da"/><line x1="2610.7" y1="394.1" x2="2616.0" y2="436.0" stroke="#86c8da"/><line x1="2586.5" y1="370.0" x2="2613.9" y2="421.8" stroke="#86c8da"/><line x1="2613.9" y1="421.8" x2="2635.0" y2="463.5" stroke="#86c8da"/><line x1="2586.5" y1="370.0" x2="2603.9" y2="419.1" stroke="#86c8da"/><line x1="2603.9" y1="419.1" x2="2635.0" y2="463.5" stroke="#86c8da"/><line x1="2699.0" y1="404.0" x2="2667.9" y2="428.4" stroke="#86c8da"/><line x1="2667.9" y1="428.4" x2="2635.0" y2="463.5" stroke="#86c8da"/><line x1="2699.0" y1="404.0" x2="2668.7" y2="438.6" stroke="#86c8da"/><line x1="2668.7" y1="438.6" x2="2635.0" y2="463.5" stroke="#86c8da"/><line x1="2699.0" y1="404.0" x2="2673.3" y2="436.4" stroke="#86c8da"/><line x1="2673.3" y1="436.4" x2="2635.0" y2="463.5" stroke="#86c8da"/><line x1="2699.0" y1="404.0" x2="2649.7" y2="419.2" stroke="#86c8da"/><line x1="2649.7" y1="419.2" x2="2616.0" y2="436.0" stroke="#86c8da"/><line x1="2699.0" y1="404.0" x2="2662.3" y2="411.8" stroke="#86c8da"/><line x1="2662.3" y1="411.8" x2="2616.0" y2="436.0" stroke="#86c8da"/><line x1="2612.0" y1="341.0" x2="2630.8" y2="314.1" stroke="#86c8da"/><line x1="2630.8" y1="314.1" x2="2650.5" y2="300.3" stroke="#86c8da"/><line x1="2650.5" y1="300.3" x2="2681.0" y2="345.0" stroke="#86c8da"/><line x1="2612.0" y1="341.0" x2="2632.4" y2="318.4" stroke="#86c8da"/><line x1="2632.4" y1="318.4" x2="2646.7" y2="302.5" stroke="#86c8da"/><line x1="2646.7" y1="302.5" x2="2681.0" y2="345.0" stroke="#86c8da"/><line x1="2612.0" y1="341.0" x2="2627.4" y2="311.7" stroke="#86c8da"/><line x1="2627.4" y1="311.7" x2="2653.2" y2="307.9" stroke="#86c8da"/><line x1="2653.2" y1="307.9" x2="2681.0" y2="345.0" stroke="#86c8da"/><line x1="2612.0" y1="341.0" x2="2627.9" y2="310.2" stroke="#86c8da"/><line x1="2627.9" y1="310.2" x2="2646.7" y2="300.9" stroke="#86c8da"/><line x1="2646.7" y1="300.9" x2="2681.0" y2="345.0" stroke="#86c8da"/><line x1="2612.0" y1="341.0" x2="2627.6" y2="314.7" stroke="#86c8da"/><line x1="2627.6" y1="314.7" x2="2646.6" y2="303.5" stroke="#86c8da"/><line x1="2646.6" y1="303.5" x2="2681.0" y2="345.0" stroke="#86c8da"/><line x1="2699.0" y1="404.0" x2="2677.9" y2="452.0" stroke="#86c8da"/><line x1="2677.9" y1="452.0" x2="2635.0" y2="463.5" stroke="#86c8da"/><line x1="2699.0" y1="404.0" x2="2683.7" y2="448.7" stroke="#86c8da"/><line x1="2683.7" y1="448.7" x2="2635.0" y2="463.5" stroke="#86c8da"/><line x1="2699.0" y1="404.0" x2="2684.3" y2="448.1" stroke="#86c8da"/><line x1="2684.3" y1="448.1" x2="2635.0" y2="463.5" stroke="#86c8da"/><line x1="2699.0" y1="404.0" x2="2677.7" y2="446.5" stroke="#86c8da"/><line x1="2677.7" y1="446.5" x2="2635.0" y2="463.5" stroke="#86c8da"/><line x1="2699.0" y1="404.0" x2="2675.5" y2="453.8" stroke="#86c8da"/><line x1="2675.5" y1="453.8" x2="2635.0" y2="463.5" stroke="#86c8da"/></g><g stroke-width="2.2" stroke-linecap="round"><line x1="2612.0" y1="341.0" x2="2594.2" y2="287.9" stroke="#e07e74"/><line x1="2612.0" y1="341.0" x2="2579.5" y2="304.5" stroke="#e07e74"/><line x1="2612.0" y1="341.0" x2="2595.2" y2="292.3" stroke="#e07e74"/><line x1="2612.0" y1="341.0" x2="2619.8" y2="311.5" stroke="#e07e74"/><line x1="2586.5" y1="370.0" x2="2548.0" y2="361.1" stroke="#e07e74"/><line x1="2586.5" y1="370.0" x2="2535.4" y2="359.2" stroke="#e07e74"/><line x1="2586.5" y1="370.0" x2="2547.7" y2="379.0" stroke="#e07e74"/><line x1="2586.5" y1="370.0" x2="2548.1" y2="379.9" stroke="#e07e74"/><line x1="2586.5" y1="370.0" x2="2537.9" y2="384.2" stroke="#e07e74"/><line x1="2586.5" y1="370.0" x2="2537.9" y2="372.1" stroke="#e07e74"/><line x1="2586.5" y1="370.0" x2="2546.9" y2="388.7" stroke="#e07e74"/><line x1="2586.5" y1="370.0" x2="2537.4" y2="384.1" stroke="#e07e74"/><line x1="2586.5" y1="370.0" x2="2545.8" y2="363.9" stroke="#e07e74"/><line x1="2586.5" y1="370.0" x2="2542.3" y2="343.9" stroke="#e07e74"/><line x1="2586.5" y1="370.0" x2="2548.9" y2="359.2" stroke="#e07e74"/><line x1="2586.5" y1="370.0" x2="2539.1" y2="393.1" stroke="#e07e74"/><line x1="2586.5" y1="370.0" x2="2535.4" y2="368.2" stroke="#e07e74"/><line x1="2586.5" y1="370.0" x2="2538.0" y2="381.3" stroke="#e07e74"/><line x1="2681.0" y1="345.0" x2="2726.8" y2="345.7" stroke="#e07e74"/><line x1="2681.0" y1="345.0" x2="2677.7" y2="291.6" stroke="#e07e74"/><line x1="2681.0" y1="345.0" x2="2665.5" y2="300.6" stroke="#e07e74"/><line x1="2699.0" y1="404.0" x2="2746.0" y2="427.6" stroke="#e07e74"/><line x1="2699.0" y1="404.0" x2="2751.9" y2="406.8" stroke="#e07e74"/><line x1="2634.0" y1="394.0" x2="2636.0" y2="368.7" stroke="#e07e74"/><line x1="2634.0" y1="394.0" x2="2645.5" y2="384.8" stroke="#e07e74"/><line x1="2634.0" y1="394.0" x2="2647.6" y2="403.8" stroke="#e07e74"/><line x1="2634.0" y1="394.0" x2="2648.9" y2="384.5" stroke="#e07e74"/><line x1="2634.0" y1="394.0" x2="2639.4" y2="407.8" stroke="#e07e74"/><line x1="2634.0" y1="394.0" x2="2635.1" y2="410.1" stroke="#e07e74"/><line x1="2634.0" y1="394.0" x2="2615.3" y2="392.9" stroke="#e07e74"/><line x1="2634.0" y1="394.0" x2="2626.1" y2="401.8" stroke="#e07e74"/><line x1="2634.0" y1="394.0" x2="2637.1" y2="372.3" stroke="#e07e74"/><line x1="2634.0" y1="394.0" x2="2610.0" y2="401.9" stroke="#e07e74"/><line x1="2634.0" y1="394.0" x2="2658.8" y2="390.1" stroke="#e07e74"/><line x1="2634.0" y1="394.0" x2="2628.7" y2="406.5" stroke="#e07e74"/><line x1="2634.0" y1="394.0" x2="2646.8" y2="396.0" stroke="#e07e74"/><line x1="2634.0" y1="394.0" x2="2622.9" y2="395.1" stroke="#e07e74"/><line x1="2634.0" y1="394.0" x2="2640.2" y2="419.6" stroke="#e07e74"/><line x1="2612.0" y1="341.0" x2="2598.7" y2="352.1" stroke="#e07e74"/><line x1="2598.7" y1="352.1" x2="2586.5" y2="370.0" stroke="#e07e74"/><line x1="2612.0" y1="341.0" x2="2595.1" y2="364.0" stroke="#e07e74"/><line x1="2595.1" y1="364.0" x2="2586.5" y2="370.0" stroke="#e07e74"/><line x1="2612.0" y1="341.0" x2="2590.8" y2="349.7" stroke="#e07e74"/><line x1="2590.8" y1="349.7" x2="2586.5" y2="370.0" stroke="#e07e74"/><line x1="2612.0" y1="341.0" x2="2603.0" y2="356.7" stroke="#e07e74"/><line x1="2603.0" y1="356.7" x2="2586.5" y2="370.0" stroke="#e07e74"/><line x1="2612.0" y1="341.0" x2="2641.8" y2="349.1" stroke="#e07e74"/><line x1="2641.8" y1="349.1" x2="2681.0" y2="345.0" stroke="#e07e74"/><line x1="2612.0" y1="341.0" x2="2652.1" y2="344.9" stroke="#e07e74"/><line x1="2652.1" y1="344.9" x2="2681.0" y2="345.0" stroke="#e07e74"/><line x1="2612.0" y1="341.0" x2="2647.4" y2="341.0" stroke="#e07e74"/><line x1="2647.4" y1="341.0" x2="2681.0" y2="345.0" stroke="#e07e74"/><line x1="2612.0" y1="341.0" x2="2647.6" y2="338.9" stroke="#e07e74"/><line x1="2647.6" y1="338.9" x2="2681.0" y2="345.0" stroke="#e07e74"/><line x1="2612.0" y1="341.0" x2="2630.4" y2="376.5" stroke="#e07e74"/><line x1="2630.4" y1="376.5" x2="2634.0" y2="394.0" stroke="#e07e74"/><line x1="2612.0" y1="341.0" x2="2619.8" y2="372.1" stroke="#e07e74"/><line x1="2619.8" y1="372.1" x2="2634.0" y2="394.0" stroke="#e07e74"/><line x1="2612.0" y1="341.0" x2="2621.6" y2="359.9" stroke="#e07e74"/><line x1="2621.6" y1="359.9" x2="2634.0" y2="394.0" stroke="#e07e74"/><line x1="2586.5" y1="370.0" x2="2615.5" y2="377.6" stroke="#e07e74"/><line x1="2615.5" y1="377.6" x2="2634.0" y2="394.0" stroke="#e07e74"/><line x1="2586.5" y1="370.0" x2="2605.3" y2="375.7" stroke="#e07e74"/><line x1="2605.3" y1="375.7" x2="2634.0" y2="394.0" stroke="#e07e74"/><line x1="2586.5" y1="370.0" x2="2618.7" y2="385.8" stroke="#e07e74"/><line x1="2618.7" y1="385.8" x2="2634.0" y2="394.0" stroke="#e07e74"/><line x1="2586.5" y1="370.0" x2="2609.1" y2="387.8" stroke="#e07e74"/><line x1="2609.1" y1="387.8" x2="2634.0" y2="394.0" stroke="#e07e74"/><line x1="2634.0" y1="394.0" x2="2664.8" y2="361.8" stroke="#e07e74"/><line x1="2664.8" y1="361.8" x2="2681.0" y2="345.0" stroke="#e07e74"/><line x1="2634.0" y1="394.0" x2="2651.7" y2="363.0" stroke="#e07e74"/><line x1="2651.7" y1="363.0" x2="2681.0" y2="345.0" stroke="#e07e74"/><line x1="2634.0" y1="394.0" x2="2655.3" y2="365.9" stroke="#e07e74"/><line x1="2655.3" y1="365.9" x2="2681.0" y2="345.0" stroke="#e07e74"/><line x1="2634.0" y1="394.0" x2="2661.2" y2="371.0" stroke="#e07e74"/><line x1="2661.2" y1="371.0" x2="2681.0" y2="345.0" stroke="#e07e74"/><line x1="2634.0" y1="394.0" x2="2665.3" y2="400.7" stroke="#e07e74"/><line x1="2665.3" y1="400.7" x2="2699.0" y2="404.0" stroke="#e07e74"/><line x1="2634.0" y1="394.0" x2="2632.0" y2="414.4" stroke="#e07e74"/><line x1="2632.0" y1="414.4" x2="2616.0" y2="436.0" stroke="#e07e74"/><line x1="2634.0" y1="394.0" x2="2633.5" y2="423.6" stroke="#e07e74"/><line x1="2633.5" y1="423.6" x2="2616.0" y2="436.0" stroke="#e07e74"/><line x1="2634.0" y1="394.0" x2="2641.3" y2="421.8" stroke="#e07e74"/><line x1="2641.3" y1="421.8" x2="2635.0" y2="463.5" stroke="#e07e74"/><line x1="2634.0" y1="394.0" x2="2634.0" y2="427.9" stroke="#e07e74"/><line x1="2634.0" y1="427.9" x2="2635.0" y2="463.5" stroke="#e07e74"/></g><circle cx="2598.1" cy="296.4" r="1.7" fill="#4e6f86"/><circle cx="2600.6" cy="299.4" r="1.7" fill="#4e6f86"/><circle cx="2608.3" cy="298.4" r="1.7" fill="#4e6f86"/><circle cx="2561.8" cy="316.5" r="1.7" fill="#4e6f86"/><circle cx="2599.4" cy="284.7" r="1.7" fill="#4e6f86"/><circle cx="2565.9" cy="307.3" r="1.7" fill="#4e6f86"/><circle cx="2613.1" cy="286.4" r="1.7" fill="#4e6f86"/><circle cx="2573.8" cy="302.3" r="1.7" fill="#4e6f86"/><circle cx="2578.8" cy="308.2" r="1.7" fill="#4e6f86"/><circle cx="2600.9" cy="285.3" r="1.7" fill="#4e6f86"/><circle cx="2578.1" cy="319.8" r="1.7" fill="#4e6f86"/><circle cx="2619.7" cy="310.3" r="1.7" fill="#4e6f86"/><circle cx="2629.4" cy="304.0" r="1.7" fill="#4e6f86"/><circle cx="2623.3" cy="300.0" r="1.7" fill="#4e6f86"/><circle cx="2628.2" cy="303.3" r="1.7" fill="#4e6f86"/><circle cx="2546.0" cy="381.5" r="1.7" fill="#4e6f86"/><circle cx="2537.4" cy="384.1" r="1.7" fill="#4e6f86"/><circle cx="2552.1" cy="352.3" r="1.7" fill="#4e6f86"/><circle cx="2546.4" cy="343.8" r="1.7" fill="#4e6f86"/><circle cx="2695.2" cy="296.5" r="1.7" fill="#4e6f86"/><circle cx="2676.2" cy="293.8" r="1.7" fill="#4e6f86"/><circle cx="2684.5" cy="301.1" r="1.7" fill="#4e6f86"/><circle cx="2697.7" cy="310.1" r="1.7" fill="#4e6f86"/><circle cx="2696.0" cy="298.6" r="1.7" fill="#4e6f86"/><circle cx="2727.4" cy="326.1" r="1.7" fill="#4e6f86"/><circle cx="2727.0" cy="310.2" r="1.7" fill="#4e6f86"/><circle cx="2731.8" cy="343.7" r="1.7" fill="#4e6f86"/><circle cx="2730.4" cy="338.9" r="1.7" fill="#4e6f86"/><circle cx="2717.4" cy="318.2" r="1.7" fill="#4e6f86"/><circle cx="2665.5" cy="300.6" r="1.7" fill="#4e6f86"/><circle cx="2749.1" cy="384.4" r="1.7" fill="#4e6f86"/><circle cx="2741.8" cy="378.9" r="1.7" fill="#4e6f86"/><circle cx="2741.0" cy="402.7" r="1.7" fill="#4e6f86"/><circle cx="2733.3" cy="386.3" r="1.7" fill="#4e6f86"/><circle cx="2735.9" cy="374.6" r="1.7" fill="#4e6f86"/><circle cx="2751.1" cy="418.6" r="1.7" fill="#4e6f86"/><circle cx="2743.1" cy="415.7" r="1.7" fill="#4e6f86"/><circle cx="2746.1" cy="412.4" r="1.7" fill="#4e6f86"/><circle cx="2741.1" cy="404.5" r="1.7" fill="#4e6f86"/><circle cx="2741.9" cy="420.9" r="1.7" fill="#4e6f86"/><circle cx="2563.4" cy="439.2" r="1.7" fill="#4e6f86"/><circle cx="2587.6" cy="463.7" r="1.7" fill="#4e6f86"/><circle cx="2575.9" cy="404.9" r="1.7" fill="#4e6f86"/><circle cx="2560.8" cy="438.6" r="1.7" fill="#4e6f86"/><circle cx="2565.7" cy="439.4" r="1.7" fill="#4e6f86"/><circle cx="2581.7" cy="415.9" r="1.7" fill="#4e6f86"/><circle cx="2580.4" cy="425.8" r="1.7" fill="#4e6f86"/><circle cx="2576.2" cy="469.1" r="1.7" fill="#4e6f86"/><circle cx="2569.0" cy="466.4" r="1.7" fill="#4e6f86"/><circle cx="2645.0" cy="505.3" r="1.7" fill="#4e6f86"/><circle cx="2616.6" cy="516.9" r="1.7" fill="#4e6f86"/><circle cx="2619.3" cy="500.3" r="1.7" fill="#4e6f86"/><circle cx="2653.8" cy="509.9" r="1.7" fill="#4e6f86"/><circle cx="2605.1" cy="516.1" r="1.7" fill="#4e6f86"/><circle cx="2625.4" cy="517.1" r="1.7" fill="#4e6f86"/><circle cx="2635.8" cy="523.3" r="1.7" fill="#4e6f86"/><circle cx="2639.2" cy="518.7" r="1.7" fill="#4e6f86"/><circle cx="2639.8" cy="520.6" r="1.7" fill="#4e6f86"/><circle cx="2624.2" cy="521.1" r="1.7" fill="#4e6f86"/><circle cx="2658.4" cy="515.7" r="1.7" fill="#4e6f86"/><circle cx="2631.0" cy="507.2" r="1.7" fill="#4e6f86"/><circle cx="2620.7" cy="372.0" r="1.7" fill="#4e6f86"/><circle cx="2646.0" cy="414.5" r="1.7" fill="#4e6f86"/><circle cx="2655.3" cy="398.1" r="1.7" fill="#4e6f86"/><circle cx="2645.5" cy="384.8" r="1.7" fill="#4e6f86"/><circle cx="2647.6" cy="403.8" r="1.7" fill="#4e6f86"/><circle cx="2648.9" cy="384.5" r="1.7" fill="#4e6f86"/><circle cx="2635.1" cy="410.1" r="1.7" fill="#4e6f86"/><circle cx="2652.2" cy="400.7" r="1.7" fill="#4e6f86"/><circle cx="2633.1" cy="413.2" r="1.7" fill="#4e6f86"/><circle cx="2622.8" cy="406.8" r="1.7" fill="#4e6f86"/><circle cx="2652.2" cy="395.8" r="1.7" fill="#4e6f86"/><circle cx="2622.9" cy="395.1" r="1.7" fill="#4e6f86"/><circle cx="2590.8" cy="349.7" r="1.7" fill="#4e6f86"/><circle cx="2586.5" cy="370.0" r="1.7" fill="#4e6f86"/><circle cx="2634.0" cy="394.0" r="1.7" fill="#4e6f86"/><circle cx="2634.0" cy="394.0" r="1.7" fill="#4e6f86"/><circle cx="2655.3" cy="365.9" r="1.7" fill="#4e6f86"/><circle cx="2681.0" cy="345.0" r="1.7" fill="#4e6f86"/><circle cx="2687.9" cy="381.0" r="1.7" fill="#4e6f86"/><circle cx="2598.2" cy="410.6" r="1.7" fill="#4e6f86"/><circle cx="2616.0" cy="436.0" r="1.7" fill="#4e6f86"/><circle cx="2618.9" cy="454.2" r="1.7" fill="#4e6f86"/><circle cx="2629.2" cy="447.6" r="1.7" fill="#4e6f86"/><circle cx="2641.3" cy="421.8" r="1.7" fill="#4e6f86"/><circle cx="2610.7" cy="394.1" r="1.7" fill="#4e6f86"/><circle cx="2635.0" cy="463.5" r="1.7" fill="#4e6f86"/><circle cx="2673.3" cy="436.4" r="1.7" fill="#4e6f86"/><circle cx="2649.7" cy="419.2" r="1.7" fill="#4e6f86"/><circle cx="2616.0" cy="436.0" r="1.7" fill="#4e6f86"/><circle cx="2681.0" cy="345.0" r="1.7" fill="#4e6f86"/><circle cx="2627.4" cy="311.7" r="1.7" fill="#4e6f86"/><circle cx="2681.0" cy="345.0" r="1.7" fill="#4e6f86"/><circle cx="2646.7" cy="300.9" r="1.7" fill="#4e6f86"/><circle cx="2627.6" cy="314.7" r="1.7" fill="#4e6f86"/><circle cx="2677.9" cy="452.0" r="1.7" fill="#4e6f86"/><circle cx="2635.0" cy="463.5" r="1.7" fill="#4e6f86"/><circle cx="2635.0" cy="463.5" r="1.7" fill="#4e6f86"/><circle cx="2635.0" cy="463.5" r="1.7" fill="#4e6f86"/><circle cx="2612" cy="341" r="4.3" fill="#2a8a3a"/><circle cx="2586.5" cy="370" r="4.3" fill="#2a8a3a"/><circle cx="2634" cy="394" r="4.3" fill="#2a8a3a"/><circle cx="2681" cy="345" r="4.3" fill="#2a8a3a"/><circle cx="2699" cy="404" r="4.3" fill="#2a8a3a"/><circle cx="2616" cy="436" r="4.3" fill="#2a8a3a"/><circle cx="2635" cy="463.5" r="4.3" fill="#2a8a3a"/></g>
<!-- TEXT -->
<g font-size="30.8">
<text transform="matrix(1 0 0 0.96 0 10.49)" x="45" y="262.2">Control</text>
<text transform="matrix(1 0 0 0.96 0 10.48)" x="178" y="262">Salt stress</text>
<text transform="matrix(1 0 0 0.96 0 5.08)" x="389" y="127.1">snRNA-seq</text>
<text transform="matrix(1 0 0 0.96 0 6.54)" x="389" y="163.6"><tspan font-style="italic">n</tspan> = 2</text><text transform="matrix(1 0 0 0.96 0 6.54)" x="484" y="163.6">stress sample</text>
<text transform="matrix(1 0 0 0.96 0 8.00)" x="389" y="200"><tspan font-style="italic">n</tspan> = 2</text><text transform="matrix(1 0 0 0.96 0 8.00)" x="484" y="200">control sample</text>
<text transform="matrix(1 0 0 0.96 0 10.51)" x="389" y="262.7">snATAC-seq</text>
<text transform="matrix(1 0 0 0.96 0 11.97)" x="389" y="299.3"><tspan font-style="italic">n</tspan> = 2</text><text transform="matrix(1 0 0 0.96 0 11.97)" x="484" y="299.3">stress sample</text>
<text transform="matrix(1 0 0 0.96 0 13.42)" x="389" y="335.5"><tspan font-style="italic">n</tspan> = 2</text><text transform="matrix(1 0 0 0.96 0 13.42)" x="484" y="335.5">control sample</text>
<text transform="matrix(1 0 0 0.96 0 16.27)" x="523" y="406.7">RNA <tspan font-style="italic">in situ</tspan> hybridization</text>
<text transform="matrix(1 0 0 0.96 0 22.08)" x="63" y="552">Control</text>
<text transform="matrix(1 0 0 0.96 0 21.91)" x="225" y="547.8">Spatial transcriptomics</text>
<text transform="matrix(1 0 0 0.96 0 22.10)" x="823" y="552.4">Stereo-seq</text>
<text transform="matrix(1 0 0 0.96 0 7.39)" x="1220" y="184.8">Cell type identification</text>
<text transform="matrix(1 0 0 0.96 0 7.38)" x="1558" y="184.5">Differential analysis</text>
<text transform="matrix(1 0 0 0.96 0 7.37)" x="1854" y="184.2">Stress-induced changes</text>
<text transform="matrix(1 0 0 0.96 0 8.90)" x="1939" y="222.5">in root hair</text>
<text transform="matrix(1 0 0 0.96 0 7.37)" x="2207" y="184.3">Multi-omic integration</text>
<text transform="matrix(1 0 0 0.96 0 7.37)" x="2530" y="184.3">Network analysis</text>
</g>
<text transform="matrix(1 0 0 1.08 0 -7.57)" x="1842.5" y="94.6" font-size="41">Analysis process</text>

</svg>
</body></html>
